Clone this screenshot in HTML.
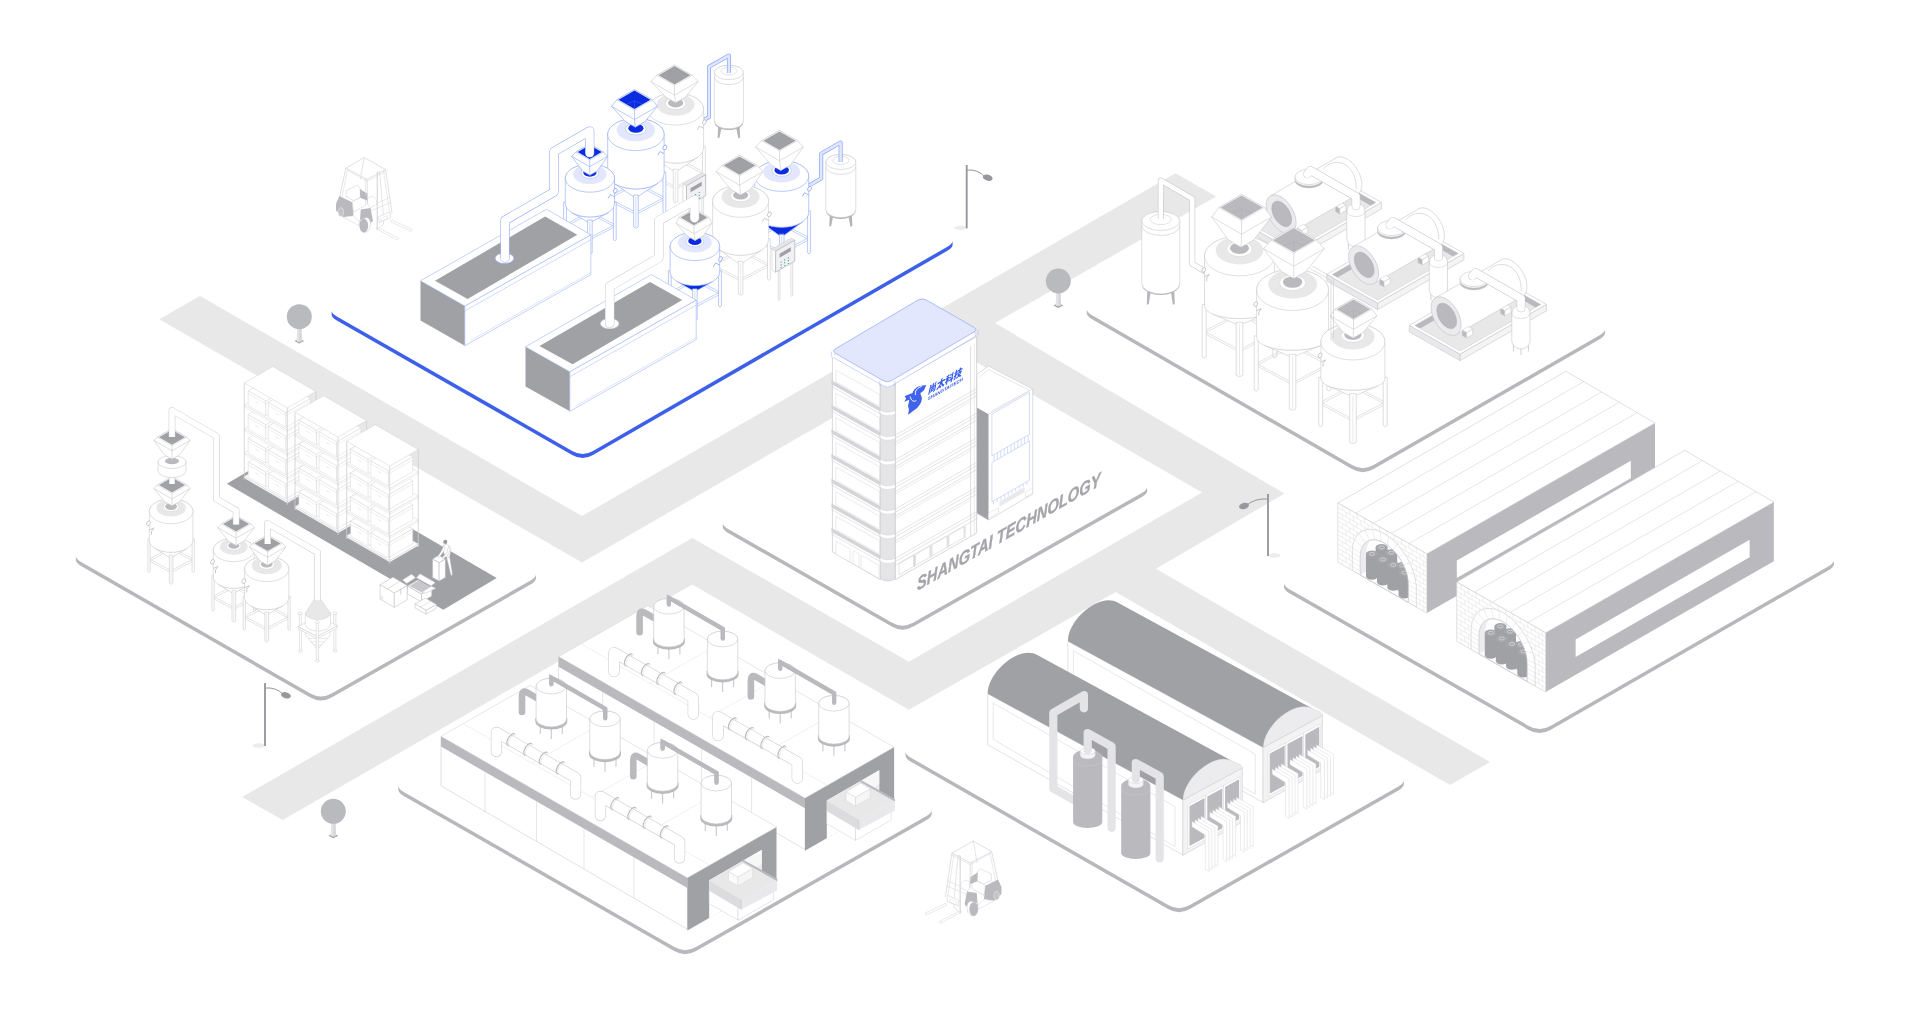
<!DOCTYPE html>
<html lang="zh"><head><meta charset="utf-8"><title>SHANGTAI TECHNOLOGY</title>
<style>
html,body{margin:0;padding:0;background:#fff;}
body{width:1920px;height:1029px;overflow:hidden;font-family:"Liberation Sans","Noto Sans CJK SC",sans-serif;}
svg{display:block;}
</style></head><body>
<svg width="1920" height="1029" viewBox="0 0 1920 1029">
<defs><filter id="noop" x="0" y="0" width="100%" height="100%" filterUnits="userSpaceOnUse" color-interpolation-filters="sRGB"><feOffset dx="0" dy="0"/></filter></defs>
<polygon points="200,296 582,516.1 1175.5,173.3 1216.1,196.6 995,323 1284.5,493.6 1156,568.8 1490,762 1450,785 1115.7,592 908.8,709.8 692.3,584.6 282.7,820 242.3,797 692.3,538 908.8,661.7 1202,492.4 952.8,348.5 582,562.5 159.3,319.3" fill="#e8e8e9"/>
<polygon points="294.3,341.1 299.3,338.7 304.3,341.1 299.3,343.6" fill="#a3a4a8"/>
<polygon points="297.3,326.7 301.3,326.7 302,341.3 299.3,342 296.6,341.3" fill="#e4e4e7"/>
<polygon points="299.3,326.7 301.3,326.7 302,341.3 299.3,342" fill="#d6d6da"/>
<ellipse cx="299.3" cy="316.7" rx="12.5" ry="12.5" fill="#b9babd"/>
<polygon points="1053.3,305.4 1058.3,303 1063.3,305.4 1058.3,307.9" fill="#a3a4a8"/>
<polygon points="1056.3,291 1060.3,291 1061,305.6 1058.3,306.3 1055.6,305.6" fill="#e4e4e7"/>
<polygon points="1058.3,291 1060.3,291 1061,305.6 1058.3,306.3" fill="#d6d6da"/>
<ellipse cx="1058.3" cy="281" rx="12.5" ry="12.5" fill="#b9babd"/>
<polygon points="328.3,835.7 333.3,833.3 338.3,835.7 333.3,838.2" fill="#a3a4a8"/>
<polygon points="331.3,821.3 335.3,821.3 336,835.9 333.3,836.6 330.6,835.9" fill="#e4e4e7"/>
<polygon points="333.3,821.3 335.3,821.3 336,835.9 333.3,836.6" fill="#d6d6da"/>
<ellipse cx="333.3" cy="811.3" rx="12.5" ry="12.5" fill="#b9babd"/>
<ellipse cx="960.7" cy="227.8" rx="6.5" ry="2.2" fill="#ececee"/>
<line x1="966.7" y1="165" x2="966.7" y2="228.3" stroke="#93939a" stroke-width="1.8"/>
<path d="M966.7,170 Q978.2,169 984.7,176.7" fill="none" stroke="#97979d" stroke-width="1" stroke-linejoin="round" stroke-linecap="round"/>
<ellipse cx="987.7" cy="177.7" rx="5" ry="3" fill="#97979d" transform="rotate(15 987.7 177.7)"/>
<ellipse cx="1274" cy="555.5" rx="6.5" ry="2.2" fill="#ececee"/>
<line x1="1268" y1="494" x2="1268" y2="556" stroke="#93939a" stroke-width="1.8"/>
<path d="M1268,499 Q1254.8,498 1247,505" fill="none" stroke="#97979d" stroke-width="1" stroke-linejoin="round" stroke-linecap="round"/>
<ellipse cx="1244" cy="506" rx="5" ry="3" fill="#97979d" transform="rotate(-15 1244 506)"/>
<ellipse cx="259" cy="745.5" rx="6.5" ry="2.2" fill="#ececee"/>
<line x1="265" y1="683" x2="265" y2="746" stroke="#93939a" stroke-width="1.8"/>
<path d="M265,688 Q276.6,687 283,694.3" fill="none" stroke="#97979d" stroke-width="1" stroke-linejoin="round" stroke-linecap="round"/>
<ellipse cx="286" cy="695.3" rx="5" ry="3" fill="#97979d" transform="rotate(15 286 695.3)"/>
<g transform="translate(320,140)">
<polygon points="57.3,87 78.5,98.3 77.2,100 56,88.6" fill="#fff" stroke="#d3d3d8" stroke-width="0.5" stroke-linejoin="round"/>
<polygon points="71.9,79.8 92.5,89.6 91.2,91.4 70.6,81.6" fill="#fff" stroke="#d3d3d8" stroke-width="0.5" stroke-linejoin="round"/>
<polyline points="44.2,17.5 40.5,39" fill="none" stroke="#d3d3d8" stroke-width="0.6" stroke-linejoin="round" stroke-linecap="round"/>
<polyline points="65.6,29.6 72,73" fill="none" stroke="#d3d3d8" stroke-width="0.7" stroke-linejoin="round" stroke-linecap="round"/>
<polyline points="63.5,30.5 69.5,72" fill="none" stroke="#d3d3d8" stroke-width="0.5" stroke-linejoin="round" stroke-linecap="round"/>
<polygon points="57.3,32.5 59.5,31.5 63.5,77 63.5,84 57.3,89.4" fill="#fff" stroke="#d3d3d8" stroke-width="0.6" stroke-linejoin="round"/>
<polyline points="57.3,32.5 57.3,89.4" fill="none" stroke="#d3d3d8" stroke-width="0.7" stroke-linejoin="round" stroke-linecap="round"/>
<polygon points="58.3,76.8 70,71.9 70.5,77.8 59.3,82.6" fill="#fff" stroke="#d3d3d8" stroke-width="0.6" stroke-linejoin="round"/>
<polygon points="60.5,78.6 67.5,75.6 67.8,78.4 60.8,81.2" fill="none" stroke="#d3d3d8" stroke-width="0.4" stroke-linejoin="round"/>
<polyline points="50,66 69.8,57.5" fill="none" stroke="#d3d3d8" stroke-width="0.5" stroke-linejoin="round" stroke-linecap="round"/>
<polyline points="50.5,71 70.8,62.5" fill="none" stroke="#d3d3d8" stroke-width="0.5" stroke-linejoin="round" stroke-linecap="round"/>
<polygon points="26.2,50.5 37.4,45.2 40.3,48.6 40.3,57.4 34,60.7 26.2,56.9" fill="#fff" stroke="#d3d3d8" stroke-width="0.6" stroke-linejoin="round"/>
<polygon points="34,60.7 44.7,55.4 45.7,65.1 33.5,71.9 32.1,62.2" fill="#fff" stroke="#d3d3d8" stroke-width="0.6" stroke-linejoin="round"/>
<polygon points="47.6,58 53,56.5 56.5,60 56.8,64.5 50,68 47.6,64" fill="#fff" stroke="#d3d3d8" stroke-width="0.5" stroke-linejoin="round"/>
<polygon points="19.4,55.9 32.1,62.2 33.5,75.8 23.3,77.3 16,70.5 16,63.7" fill="#b9b9be"/>
<ellipse cx="20.9" cy="72" rx="2.6" ry="4.3" fill="#c3c3c8" stroke="#e2e2e6" stroke-width="0.7"/>
<polygon points="23.3,77.3 33.5,75.8 39.8,82.6 38.9,85.5" fill="#fff" stroke="#d3d3d8" stroke-width="0.5" stroke-linejoin="round"/>
<polygon points="39.8,49.1 47.1,53.4 47.6,60.7 40.3,57.8" fill="#b9b9be"/>
<polygon points="40.8,69.5 50.5,68 53,81.1 48.6,84.5 39.8,82.6" fill="#b9b9be"/>
<path d="M40,80 L46.5,77.5 Q50.5,78.5 50.5,84 Q50.5,90 47,92 L43.5,92.3 Z" fill="#fff" stroke="#c8c8cd" stroke-width="0.5" stroke-linejoin="round" stroke-linecap="round"/>
<ellipse cx="43.8" cy="85.6" rx="4.4" ry="6.9" fill="#b9b9be"/>
<polyline points="25.8,28.2 19.9,55.9" fill="none" stroke="#d3d3d8" stroke-width="0.7" stroke-linejoin="round" stroke-linecap="round"/>
<polyline points="27.6,29.3 22,57" fill="none" stroke="#d3d3d8" stroke-width="0.5" stroke-linejoin="round" stroke-linecap="round"/>
<polyline points="47.1,39.4 47.6,64" fill="none" stroke="#d3d3d8" stroke-width="0.7" stroke-linejoin="round" stroke-linecap="round"/>
<polyline points="45.2,38.6 45.6,55" fill="none" stroke="#d3d3d8" stroke-width="0.5" stroke-linejoin="round" stroke-linecap="round"/>
<polygon points="25.8,28.2 44.2,17.5 65.6,29.6 47.1,39.4" fill="none" stroke="#d3d3d8" stroke-width="0.7" stroke-linejoin="round"/>
<polyline points="27.5,30.2 47.1,41.2 65.4,31.6" fill="none" stroke="#d3d3d8" stroke-width="0.5" stroke-linejoin="round" stroke-linecap="round"/>
</g>
<path d="M336.8,304.4 Q326.4,310.4 336.8,316.4 L572.2,450.9 Q582.6,456.9 593,450.9 L947.4,246.7 Q957.8,240.7 947.4,234.7 L712,100.2 Q701.6,94.2 691.2,100.2 Z" fill="#3d60ea" transform="translate(0,4.1)"/>
<path d="M336.8,304.4 Q326.4,310.4 336.8,316.4 L572.2,450.9 Q582.6,456.9 593,450.9 L947.4,246.7 Q957.8,240.7 947.4,234.7 L712,100.2 Q701.6,94.2 691.2,100.2 Z" fill="#3d60ea" transform="translate(0,2)"/>
<path d="M336.8,304.4 Q326.4,310.4 336.8,316.4 L572.2,450.9 Q582.6,456.9 593,450.9 L947.4,246.7 Q957.8,240.7 947.4,234.7 L712,100.2 Q701.6,94.2 691.2,100.2 Z" fill="#fff"/>
<polygon points="718.3,124.4 722.1,124.4 719.6,137.4 717.6,138.2" fill="#b4b4b9"/>
<polygon points="735.7,124.4 739.5,124.4 740.2,137.4 738.2,138.2" fill="#b4b4b9"/>
<path d="M714.4,120.4 L714.9,124.2 A14.5,8 0 0 0 742.9,124.2 L743.4,120.4 Z" fill="#b4b4b9"/>
<path d="M714.4,72.4 L714.4,120.8 A14.5,8 0 0 0 743.4,120.8 L743.4,72.4 A14.5,7.2 0 0 0 714.4,72.4 Z" fill="#fff" stroke="#c9c9cd" stroke-width="0.6" stroke-linejoin="round" stroke-linecap="round"/>
<ellipse cx="728.9" cy="72.4" rx="14.5" ry="7.2" fill="#fff" stroke="#c9c9cd" stroke-width="0.6"/>
<path d="M714.4,77.4 A14.5,7.2 0 0 0 743.4,77.4" fill="none" stroke="#c9c9cd" stroke-width="0.6" stroke-linejoin="round" stroke-linecap="round"/>
<ellipse cx="728.9" cy="70.9" rx="8" ry="4" fill="#fff" stroke="#c9c9cd" stroke-width="0.5"/>
<path d="M728.9,73 L728.9,55.5 L709,66.8 L709,117 L703,120.5" fill="none" stroke="#8ca6f6" stroke-width="4" stroke-linejoin="round" stroke-linecap="butt"/>
<path d="M728.9,73 L728.9,55.5 L709,66.8 L709,117 L703,120.5" fill="none" stroke="#dfe6fd" stroke-width="2.6" stroke-linejoin="round" stroke-linecap="butt"/>
<line x1="647.3" y1="171.9" x2="675.6" y2="157.1" stroke="#c9c9cd" stroke-width="0.5"/>
<line x1="647.3" y1="174.1" x2="675.6" y2="159.3" stroke="#c9c9cd" stroke-width="0.5"/>
<line x1="675.6" y1="157.1" x2="703.9" y2="171.9" stroke="#c9c9cd" stroke-width="0.5"/>
<line x1="675.6" y1="159.3" x2="703.9" y2="174.1" stroke="#c9c9cd" stroke-width="0.5"/>
<line x1="647.3" y1="171.9" x2="675.6" y2="186.8" stroke="#c9c9cd" stroke-width="0.5"/>
<line x1="647.3" y1="174.1" x2="675.6" y2="189" stroke="#c9c9cd" stroke-width="0.5"/>
<line x1="675.6" y1="186.8" x2="703.9" y2="171.9" stroke="#c9c9cd" stroke-width="0.5"/>
<line x1="675.6" y1="189" x2="703.9" y2="174.1" stroke="#c9c9cd" stroke-width="0.5"/>
<path d="M645.9,146.7 L645.9,186.8 Q647.3,189.3 648.7,186.8 L648.7,146.7 Z" fill="#fff" stroke="#c9c9cd" stroke-width="0.6" stroke-linejoin="round" stroke-linecap="round"/>
<path d="M702.5,146.7 L702.5,186.8 Q703.9,189.3 705.3,186.8 L705.3,146.7 Z" fill="#fff" stroke="#c9c9cd" stroke-width="0.6" stroke-linejoin="round" stroke-linecap="round"/>
<path d="M653.9,157.4 A28,15.4 0 0 0 697.3,157.4 L675.6,172.1 Z" fill="#fff" stroke="#c9c9cd" stroke-width="0.6" stroke-linejoin="round" stroke-linecap="round"/>
<path d="M647.6,109.1 L647.6,147.7 A28,15.4 0 0 0 703.6,147.7 L703.6,109.1 A28,16 0 0 0 647.6,109.1 Z" fill="#fff" stroke="#c9c9cd" stroke-width="0.6" stroke-linejoin="round" stroke-linecap="round"/>
<path d="M673.3,169.6 L673.3,201.7 Q675.6,204.2 677.9,201.7 L677.9,169.6 Z" fill="#fff" stroke="#c9c9cd" stroke-width="0.6" stroke-linejoin="round" stroke-linecap="round"/>
<line x1="675.6" y1="171.1" x2="675.6" y2="201.7" stroke="#c9c9cd" stroke-width="0.4"/>
<ellipse cx="675.6" cy="109.1" rx="28" ry="16" fill="#fff" stroke="#c9c9cd" stroke-width="0.6"/>
<ellipse cx="675.6" cy="104.6" rx="19" ry="11.2" fill="#e8e8e9"/>
<ellipse cx="675.6" cy="103.5" rx="10.1" ry="6.1" fill="#fff" stroke="#c9c9cd" stroke-width="0.4"/>
<ellipse cx="675.6" cy="102.9" rx="7.6" ry="4.5" fill="#b9b9be"/>
<ellipse cx="704.4" cy="122.1" rx="1.7" ry="2.5" fill="#fff" stroke="#bdbdc2" stroke-width="0.8" transform="rotate(25 704.4 122.1)"/>
<polyline points="703.4,128.1 699.4,126.1 697.4,129.6" fill="none" stroke="#bdbdc2" stroke-width="0.8" stroke-linejoin="round" stroke-linecap="round"/>
<polygon points="650.9,81.6 656.8,75.3 674.5,65.1 692.2,75.3 698.1,81.6 685.2,97.2 675.6,102.7 666,97.2" fill="#fff" stroke="#c9c9cd" stroke-width="0.6" stroke-linejoin="round"/>
<polygon points="656.8,75.3 674.5,65.1 692.2,75.3 674.5,85.5" fill="#fff" stroke="#c9c9cd" stroke-width="0.5" stroke-linejoin="round"/>
<polygon points="658.5,75.3 674.5,66.1 690.5,75.3 674.5,84.5" fill="#a0a1a5"/>
<polyline points="650.9,81.6 674.5,95.2 698.1,81.6" fill="none" stroke="#c9c9cd" stroke-width="0.6" stroke-linejoin="round" stroke-linecap="round"/>
<polyline points="674.5,85.5 674.5,95.2 675.6,102.7" fill="none" stroke="#c9c9cd" stroke-width="0.6" stroke-linejoin="round" stroke-linecap="round"/>
<line x1="607.4" y1="197.4" x2="635.9" y2="182.5" stroke="#8ca6f6" stroke-width="0.5"/>
<line x1="607.4" y1="199.6" x2="635.9" y2="184.7" stroke="#8ca6f6" stroke-width="0.5"/>
<line x1="635.9" y1="182.5" x2="664.4" y2="197.4" stroke="#8ca6f6" stroke-width="0.5"/>
<line x1="635.9" y1="184.7" x2="664.4" y2="199.6" stroke="#8ca6f6" stroke-width="0.5"/>
<line x1="607.4" y1="197.4" x2="635.9" y2="212.4" stroke="#8ca6f6" stroke-width="0.5"/>
<line x1="607.4" y1="199.6" x2="635.9" y2="214.6" stroke="#8ca6f6" stroke-width="0.5"/>
<line x1="635.9" y1="212.4" x2="664.4" y2="197.4" stroke="#8ca6f6" stroke-width="0.5"/>
<line x1="635.9" y1="214.6" x2="664.4" y2="199.6" stroke="#8ca6f6" stroke-width="0.5"/>
<path d="M606,172.5 L606,212 Q607.4,214.5 608.8,212 L608.8,172.5 Z" fill="#fff" stroke="#8ca6f6" stroke-width="0.6" stroke-linejoin="round" stroke-linecap="round"/>
<path d="M663,172.5 L663,212 Q664.4,214.5 665.8,212 L665.8,172.5 Z" fill="#fff" stroke="#8ca6f6" stroke-width="0.6" stroke-linejoin="round" stroke-linecap="round"/>
<path d="M614.1,183.3 A28.2,15.5 0 0 0 657.7,183.3 L635.9,198 Z" fill="#fff" stroke="#8ca6f6" stroke-width="0.6" stroke-linejoin="round" stroke-linecap="round"/>
<path d="M607.7,134.5 L607.7,173.5 A28.2,15.5 0 0 0 664.1,173.5 L664.1,134.5 A28.2,16.1 0 0 0 607.7,134.5 Z" fill="#fff" stroke="#8ca6f6" stroke-width="0.6" stroke-linejoin="round" stroke-linecap="round"/>
<path d="M633.6,195.5 L633.6,227 Q635.9,229.5 638.2,227 L638.2,195.5 Z" fill="#fff" stroke="#8ca6f6" stroke-width="0.6" stroke-linejoin="round" stroke-linecap="round"/>
<line x1="635.9" y1="197" x2="635.9" y2="227" stroke="#8ca6f6" stroke-width="0.4"/>
<ellipse cx="635.9" cy="134.5" rx="28.2" ry="16.1" fill="#fff" stroke="#8ca6f6" stroke-width="0.6"/>
<ellipse cx="635.9" cy="130" rx="19.2" ry="11.3" fill="#e2e7fd"/>
<ellipse cx="635.9" cy="128.9" rx="10.2" ry="6.1" fill="#fff" stroke="#8ca6f6" stroke-width="0.4"/>
<ellipse cx="635.9" cy="128.3" rx="7.6" ry="4.5" fill="#0a2be0"/>
<ellipse cx="664.9" cy="147.5" rx="1.7" ry="2.5" fill="#fff" stroke="#8ca6f6" stroke-width="0.8" transform="rotate(25 664.9 147.5)"/>
<polyline points="663.9,153.5 659.9,151.5 657.9,155" fill="none" stroke="#8ca6f6" stroke-width="0.8" stroke-linejoin="round" stroke-linecap="round"/>
<polygon points="611.5,106.3 616.8,99.8 634.5,89.6 652.2,99.8 657.5,106.3 644.9,121.7 635.3,127.2 625.7,121.7" fill="#fff" stroke="#8ca6f6" stroke-width="0.6" stroke-linejoin="round"/>
<polygon points="616.8,99.8 634.5,89.6 652.2,99.8 634.5,110" fill="#fff" stroke="#8ca6f6" stroke-width="0.5" stroke-linejoin="round"/>
<polygon points="618.5,99.8 634.5,90.6 650.5,99.8 634.5,109" fill="#0a2be0"/>
<polyline points="611.5,106.3 634.5,119.6 657.5,106.3" fill="none" stroke="#8ca6f6" stroke-width="0.6" stroke-linejoin="round" stroke-linecap="round"/>
<polyline points="634.5,110 634.5,119.6 635.3,127.2" fill="none" stroke="#8ca6f6" stroke-width="0.6" stroke-linejoin="round" stroke-linecap="round"/>
<polyline points="627.3,104 634.5,100.7 641.7,104" fill="none" stroke="#4a6cf0" stroke-width="0.4" stroke-linejoin="round" stroke-linecap="round"/>
<line x1="634.5" y1="100.7" x2="634.5" y2="109" stroke="#4a6cf0" stroke-width="0.4"/>
<line x1="565" y1="224.6" x2="589.9" y2="211.6" stroke="#8ca6f6" stroke-width="0.5"/>
<line x1="565" y1="226.8" x2="589.9" y2="213.8" stroke="#8ca6f6" stroke-width="0.5"/>
<line x1="589.9" y1="211.6" x2="614.8" y2="224.6" stroke="#8ca6f6" stroke-width="0.5"/>
<line x1="589.9" y1="213.8" x2="614.8" y2="226.8" stroke="#8ca6f6" stroke-width="0.5"/>
<line x1="565" y1="224.6" x2="589.9" y2="237.7" stroke="#8ca6f6" stroke-width="0.5"/>
<line x1="565" y1="226.8" x2="589.9" y2="239.9" stroke="#8ca6f6" stroke-width="0.5"/>
<line x1="589.9" y1="237.7" x2="614.8" y2="224.6" stroke="#8ca6f6" stroke-width="0.5"/>
<line x1="589.9" y1="239.9" x2="614.8" y2="226.8" stroke="#8ca6f6" stroke-width="0.5"/>
<path d="M563.6,202.5 L563.6,239.6 Q565,242.1 566.4,239.6 L566.4,202.5 Z" fill="#fff" stroke="#8ca6f6" stroke-width="0.6" stroke-linejoin="round" stroke-linecap="round"/>
<path d="M613.4,202.5 L613.4,239.6 Q614.8,242.1 616.2,239.6 L616.2,202.5 Z" fill="#fff" stroke="#8ca6f6" stroke-width="0.6" stroke-linejoin="round" stroke-linecap="round"/>
<path d="M572.3,212.9 A24.6,13.5 0 0 0 607.5,212.9 L589.9,222.9 Z" fill="#fff" stroke="#8ca6f6" stroke-width="0.6" stroke-linejoin="round" stroke-linecap="round"/>
<path d="M565.3,178.2 L565.3,203.5 A24.6,13.5 0 0 0 614.5,203.5 L614.5,178.2 A24.6,14 0 0 0 565.3,178.2 Z" fill="#fff" stroke="#8ca6f6" stroke-width="0.6" stroke-linejoin="round" stroke-linecap="round"/>
<path d="M587.6,220.4 L587.6,252.7 Q589.9,255.2 592.2,252.7 L592.2,220.4 Z" fill="#fff" stroke="#8ca6f6" stroke-width="0.6" stroke-linejoin="round" stroke-linecap="round"/>
<line x1="589.9" y1="221.9" x2="589.9" y2="252.7" stroke="#8ca6f6" stroke-width="0.4"/>
<ellipse cx="589.9" cy="178.2" rx="24.6" ry="14" fill="#fff" stroke="#8ca6f6" stroke-width="0.6"/>
<ellipse cx="589.9" cy="174.3" rx="16.7" ry="9.8" fill="#e2e7fd"/>
<ellipse cx="589.9" cy="173.3" rx="8.9" ry="5.3" fill="#fff" stroke="#8ca6f6" stroke-width="0.4"/>
<ellipse cx="589.9" cy="172.8" rx="6.6" ry="3.9" fill="#0a2be0"/>
<ellipse cx="615.3" cy="190.7" rx="1.7" ry="2.5" fill="#fff" stroke="#8ca6f6" stroke-width="0.8" transform="rotate(25 615.3 190.7)"/>
<polyline points="614.3,196.7 610.3,194.7 608.3,198.2" fill="none" stroke="#8ca6f6" stroke-width="0.8" stroke-linejoin="round" stroke-linecap="round"/>
<polygon points="571.7,156.3 576,152 589.7,144.1 603.4,152 607.7,156.3 597.1,171.1 589.9,175.3 582.7,171.1" fill="#fff" stroke="#8ca6f6" stroke-width="0.6" stroke-linejoin="round"/>
<polygon points="576,152 589.7,144.1 603.4,152 589.7,159.9" fill="#fff" stroke="#8ca6f6" stroke-width="0.5" stroke-linejoin="round"/>
<polygon points="577.7,152 589.7,145.1 601.7,152 589.7,158.9" fill="#0a2be0"/>
<polyline points="571.7,156.3 589.7,166.7 607.7,156.3" fill="none" stroke="#8ca6f6" stroke-width="0.6" stroke-linejoin="round" stroke-linecap="round"/>
<polyline points="589.7,159.9 589.7,166.7 589.9,175.3" fill="none" stroke="#8ca6f6" stroke-width="0.6" stroke-linejoin="round" stroke-linecap="round"/>
<path d="M689.1,205.8 L689.1,233.8 Q690,236.3 690.9,233.8 L690.9,205.8 Z" fill="#fff" stroke="#c9c9cd" stroke-width="0.6" stroke-linejoin="round" stroke-linecap="round"/>
<path d="M701.8,195.7 L701.8,229.8 Q702.7,232.3 703.6,229.8 L703.6,195.7 Z" fill="#fff" stroke="#c9c9cd" stroke-width="0.6" stroke-linejoin="round" stroke-linecap="round"/>
<polygon points="682.9,183.7 686.5,185.8 686.5,206.8 682.9,204.7" fill="#fff" stroke="#c4c4c9" stroke-width="0.5" stroke-linejoin="round"/>
<polygon points="682.9,183.7 702.1,172.6 705.7,174.7 686.5,185.8" fill="#e6e6e8" stroke="#c9c9cd" stroke-width="0.4" stroke-linejoin="round"/>
<polygon points="686.5,185.8 705.7,174.7 705.7,195.7 686.5,206.8" fill="#f1f1f3" stroke="#b2b2b8" stroke-width="0.7" stroke-linejoin="round"/>
<polygon points="690.5,188.3 701.7,181.8 701.7,185.8 690.5,192.3" fill="#a0a1a5"/>
<ellipse cx="692" cy="196.6" rx="0.6" ry="0.6" fill="#2a9d6f"/>
<ellipse cx="692" cy="199.4" rx="0.6" ry="0.6" fill="#2a9d6f"/>
<ellipse cx="692" cy="202.2" rx="0.6" ry="0.6" fill="#2a9d6f"/>
<ellipse cx="695.6" cy="194.5" rx="0.6" ry="0.6" fill="#2a9d6f"/>
<ellipse cx="695.6" cy="197.3" rx="0.6" ry="0.6" fill="#2a9d6f"/>
<ellipse cx="695.6" cy="200.1" rx="0.6" ry="0.6" fill="#2a9d6f"/>
<ellipse cx="699.2" cy="192.5" rx="0.6" ry="0.6" fill="#2a9d6f"/>
<ellipse cx="699.2" cy="195.3" rx="0.6" ry="0.6" fill="#2a9d6f"/>
<ellipse cx="699.2" cy="198.1" rx="0.6" ry="0.6" fill="#2a9d6f"/>
<polygon points="829.9,213 833.7,213 831.2,226 829.2,226.8" fill="#b4b4b9"/>
<polygon points="847.9,213 851.7,213 852.4,226 850.4,226.8" fill="#b4b4b9"/>
<path d="M825.8,209 L826.3,212.8 A15,8.2 0 0 0 855.3,212.8 L855.8,209 Z" fill="#b4b4b9"/>
<path d="M825.8,162 L825.8,209.4 A15,8.2 0 0 0 855.8,209.4 L855.8,162 A15,7.5 0 0 0 825.8,162 Z" fill="#fff" stroke="#c9c9cd" stroke-width="0.6" stroke-linejoin="round" stroke-linecap="round"/>
<ellipse cx="840.8" cy="162" rx="15" ry="7.5" fill="#fff" stroke="#c9c9cd" stroke-width="0.6"/>
<path d="M825.8,167 A15,7.5 0 0 0 855.8,167" fill="none" stroke="#c9c9cd" stroke-width="0.6" stroke-linejoin="round" stroke-linecap="round"/>
<ellipse cx="840.8" cy="160.5" rx="8.2" ry="4.1" fill="#fff" stroke="#c9c9cd" stroke-width="0.5"/>
<path d="M840.6,162 L840.6,142.5 L821.2,153.7 L821.2,178.5 L808.5,185.8" fill="none" stroke="#8ca6f6" stroke-width="4" stroke-linejoin="round" stroke-linecap="butt"/>
<path d="M840.6,162 L840.6,142.5 L821.2,153.7 L821.2,178.5 L808.5,185.8" fill="none" stroke="#dfe6fd" stroke-width="2.6" stroke-linejoin="round" stroke-linecap="butt"/>
<line x1="754.4" y1="237.5" x2="781.7" y2="223.2" stroke="#8ca6f6" stroke-width="0.5"/>
<line x1="754.4" y1="239.7" x2="781.7" y2="225.4" stroke="#8ca6f6" stroke-width="0.5"/>
<line x1="781.7" y1="223.2" x2="809" y2="237.5" stroke="#8ca6f6" stroke-width="0.5"/>
<line x1="781.7" y1="225.4" x2="809" y2="239.7" stroke="#8ca6f6" stroke-width="0.5"/>
<line x1="754.4" y1="237.5" x2="781.7" y2="251.8" stroke="#8ca6f6" stroke-width="0.5"/>
<line x1="754.4" y1="239.7" x2="781.7" y2="254" stroke="#8ca6f6" stroke-width="0.5"/>
<line x1="781.7" y1="251.8" x2="809" y2="237.5" stroke="#8ca6f6" stroke-width="0.5"/>
<line x1="781.7" y1="254" x2="809" y2="239.7" stroke="#8ca6f6" stroke-width="0.5"/>
<path d="M753,211.4 L753,252.7 Q754.4,255.2 755.8,252.7 L755.8,211.4 Z" fill="#fff" stroke="#8ca6f6" stroke-width="0.6" stroke-linejoin="round" stroke-linecap="round"/>
<path d="M807.6,211.4 L807.6,252.7 Q809,255.2 810.4,252.7 L810.4,211.4 Z" fill="#fff" stroke="#8ca6f6" stroke-width="0.6" stroke-linejoin="round" stroke-linecap="round"/>
<path d="M760.2,221.4 A27,14.9 0 0 0 803.2,221.4 L781.7,236.9 Z" fill="#0a2be0" stroke="#8ca6f6" stroke-width="0.6" stroke-linejoin="round" stroke-linecap="round"/>
<path d="M754.7,176 L754.7,212.4 A27,14.9 0 0 0 808.7,212.4 L808.7,176 A27,15.4 0 0 0 754.7,176 Z" fill="#fff" stroke="#8ca6f6" stroke-width="0.6" stroke-linejoin="round" stroke-linecap="round"/>
<path d="M779.4,234.4 L779.4,267 Q781.7,269.5 784,267 L784,234.4 Z" fill="#fff" stroke="#8ca6f6" stroke-width="0.6" stroke-linejoin="round" stroke-linecap="round"/>
<line x1="781.7" y1="235.9" x2="781.7" y2="267" stroke="#8ca6f6" stroke-width="0.4"/>
<ellipse cx="781.7" cy="176" rx="27" ry="15.4" fill="#fff" stroke="#8ca6f6" stroke-width="0.6"/>
<ellipse cx="781.7" cy="171.7" rx="18.4" ry="10.8" fill="#e2e7fd"/>
<ellipse cx="781.7" cy="170.6" rx="9.7" ry="5.8" fill="#fff" stroke="#8ca6f6" stroke-width="0.4"/>
<ellipse cx="781.7" cy="170.1" rx="7.3" ry="4.3" fill="#0a2be0"/>
<ellipse cx="809.5" cy="188.8" rx="1.7" ry="2.5" fill="#fff" stroke="#8ca6f6" stroke-width="0.8" transform="rotate(25 809.5 188.8)"/>
<polyline points="808.5,194.8 804.5,192.8 802.5,196.3" fill="none" stroke="#8ca6f6" stroke-width="0.8" stroke-linejoin="round" stroke-linecap="round"/>
<polygon points="755.7,147.1 761.6,140.7 779.5,130.4 797.4,140.7 803.3,147.1 790.5,164.9 780.8,170.5 771.1,164.9" fill="#fff" stroke="#c9c9cd" stroke-width="0.6" stroke-linejoin="round"/>
<polygon points="761.6,140.7 779.5,130.4 797.4,140.7 779.5,151" fill="#fff" stroke="#c9c9cd" stroke-width="0.5" stroke-linejoin="round"/>
<polygon points="763.3,140.7 779.5,131.4 795.7,140.7 779.5,150" fill="#a0a1a5"/>
<polyline points="755.7,147.1 779.5,160.8 803.3,147.1" fill="none" stroke="#c9c9cd" stroke-width="0.6" stroke-linejoin="round" stroke-linecap="round"/>
<polyline points="779.5,151 779.5,160.8 780.8,170.5" fill="none" stroke="#c9c9cd" stroke-width="0.6" stroke-linejoin="round" stroke-linecap="round"/>
<line x1="712.3" y1="264.2" x2="740.6" y2="249.3" stroke="#c9c9cd" stroke-width="0.5"/>
<line x1="712.3" y1="266.4" x2="740.6" y2="251.5" stroke="#c9c9cd" stroke-width="0.5"/>
<line x1="740.6" y1="249.3" x2="768.9" y2="264.2" stroke="#c9c9cd" stroke-width="0.5"/>
<line x1="740.6" y1="251.5" x2="768.9" y2="266.4" stroke="#c9c9cd" stroke-width="0.5"/>
<line x1="712.3" y1="264.2" x2="740.6" y2="279" stroke="#c9c9cd" stroke-width="0.5"/>
<line x1="712.3" y1="266.4" x2="740.6" y2="281.2" stroke="#c9c9cd" stroke-width="0.5"/>
<line x1="740.6" y1="279" x2="768.9" y2="264.2" stroke="#c9c9cd" stroke-width="0.5"/>
<line x1="740.6" y1="281.2" x2="768.9" y2="266.4" stroke="#c9c9cd" stroke-width="0.5"/>
<path d="M710.9,238.9 L710.9,279.1 Q712.3,281.6 713.7,279.1 L713.7,238.9 Z" fill="#fff" stroke="#c9c9cd" stroke-width="0.6" stroke-linejoin="round" stroke-linecap="round"/>
<path d="M767.5,238.9 L767.5,279.1 Q768.9,281.6 770.3,279.1 L770.3,238.9 Z" fill="#fff" stroke="#c9c9cd" stroke-width="0.6" stroke-linejoin="round" stroke-linecap="round"/>
<path d="M718.9,249.6 A28,15.4 0 0 0 762.3,249.6 L740.6,264.3 Z" fill="#fff" stroke="#c9c9cd" stroke-width="0.6" stroke-linejoin="round" stroke-linecap="round"/>
<path d="M712.6,201.3 L712.6,239.9 A28,15.4 0 0 0 768.6,239.9 L768.6,201.3 A28,16 0 0 0 712.6,201.3 Z" fill="#fff" stroke="#c9c9cd" stroke-width="0.6" stroke-linejoin="round" stroke-linecap="round"/>
<path d="M738.3,261.8 L738.3,294 Q740.6,296.5 742.9,294 L742.9,261.8 Z" fill="#fff" stroke="#c9c9cd" stroke-width="0.6" stroke-linejoin="round" stroke-linecap="round"/>
<line x1="740.6" y1="263.3" x2="740.6" y2="294" stroke="#c9c9cd" stroke-width="0.4"/>
<ellipse cx="740.6" cy="201.3" rx="28" ry="16" fill="#fff" stroke="#c9c9cd" stroke-width="0.6"/>
<ellipse cx="740.6" cy="196.8" rx="19" ry="11.2" fill="#e8e8e9"/>
<ellipse cx="740.6" cy="195.7" rx="10.1" ry="6.1" fill="#fff" stroke="#c9c9cd" stroke-width="0.4"/>
<ellipse cx="740.6" cy="195.1" rx="7.6" ry="4.5" fill="#b9b9be"/>
<ellipse cx="769.4" cy="214.3" rx="1.7" ry="2.5" fill="#fff" stroke="#bdbdc2" stroke-width="0.8" transform="rotate(25 769.4 214.3)"/>
<polyline points="768.4,220.3 764.4,218.3 762.4,221.8" fill="none" stroke="#bdbdc2" stroke-width="0.8" stroke-linejoin="round" stroke-linecap="round"/>
<polygon points="716.1,171.6 721.8,165.6 739.5,155.4 757.2,165.6 762.9,171.6 750.2,189.5 740.6,195 731,189.5" fill="#fff" stroke="#c9c9cd" stroke-width="0.6" stroke-linejoin="round"/>
<polygon points="721.8,165.6 739.5,155.4 757.2,165.6 739.5,175.8" fill="#fff" stroke="#c9c9cd" stroke-width="0.5" stroke-linejoin="round"/>
<polygon points="723.5,165.6 739.5,156.4 755.5,165.6 739.5,174.8" fill="#a0a1a5"/>
<polyline points="716.1,171.6 739.5,185.1 762.9,171.6" fill="none" stroke="#c9c9cd" stroke-width="0.6" stroke-linejoin="round" stroke-linecap="round"/>
<polyline points="739.5,175.8 739.5,185.1 740.6,195" fill="none" stroke="#c9c9cd" stroke-width="0.6" stroke-linejoin="round" stroke-linecap="round"/>
<path d="M778.2,271.2 L778.2,299.2 Q779.1,301.7 780,299.2 L780,271.2 Z" fill="#fff" stroke="#c9c9cd" stroke-width="0.6" stroke-linejoin="round" stroke-linecap="round"/>
<path d="M790.9,261.1 L790.9,295.2 Q791.8,297.7 792.7,295.2 L792.7,261.1 Z" fill="#fff" stroke="#c9c9cd" stroke-width="0.6" stroke-linejoin="round" stroke-linecap="round"/>
<polygon points="772,249.1 775.6,251.2 775.6,272.2 772,270.1" fill="#fff" stroke="#c4c4c9" stroke-width="0.5" stroke-linejoin="round"/>
<polygon points="772,249.1 791.2,238 794.8,240.1 775.6,251.2" fill="#e6e6e8" stroke="#c9c9cd" stroke-width="0.4" stroke-linejoin="round"/>
<polygon points="775.6,251.2 794.8,240.1 794.8,261.1 775.6,272.2" fill="#f1f1f3" stroke="#b2b2b8" stroke-width="0.7" stroke-linejoin="round"/>
<polygon points="779.6,253.7 790.8,247.2 790.8,251.2 779.6,257.7" fill="#a0a1a5"/>
<ellipse cx="781.1" cy="262" rx="0.6" ry="0.6" fill="#2a9d6f"/>
<ellipse cx="781.1" cy="264.8" rx="0.6" ry="0.6" fill="#2a9d6f"/>
<ellipse cx="781.1" cy="267.6" rx="0.6" ry="0.6" fill="#2a9d6f"/>
<ellipse cx="784.7" cy="259.9" rx="0.6" ry="0.6" fill="#2a9d6f"/>
<ellipse cx="784.7" cy="262.7" rx="0.6" ry="0.6" fill="#2a9d6f"/>
<ellipse cx="784.7" cy="265.5" rx="0.6" ry="0.6" fill="#2a9d6f"/>
<ellipse cx="788.3" cy="257.9" rx="0.6" ry="0.6" fill="#2a9d6f"/>
<ellipse cx="788.3" cy="260.7" rx="0.6" ry="0.6" fill="#2a9d6f"/>
<ellipse cx="788.3" cy="263.5" rx="0.6" ry="0.6" fill="#2a9d6f"/>
<line x1="669.8" y1="292.1" x2="694.9" y2="278.9" stroke="#8ca6f6" stroke-width="0.5"/>
<line x1="669.8" y1="294.3" x2="694.9" y2="281.1" stroke="#8ca6f6" stroke-width="0.5"/>
<line x1="694.9" y1="278.9" x2="720" y2="292.1" stroke="#8ca6f6" stroke-width="0.5"/>
<line x1="694.9" y1="281.1" x2="720" y2="294.3" stroke="#8ca6f6" stroke-width="0.5"/>
<line x1="669.8" y1="292.1" x2="694.9" y2="305.2" stroke="#8ca6f6" stroke-width="0.5"/>
<line x1="669.8" y1="294.3" x2="694.9" y2="307.4" stroke="#8ca6f6" stroke-width="0.5"/>
<line x1="694.9" y1="305.2" x2="720" y2="292.1" stroke="#8ca6f6" stroke-width="0.5"/>
<line x1="694.9" y1="307.4" x2="720" y2="294.3" stroke="#8ca6f6" stroke-width="0.5"/>
<path d="M668.4,271 L668.4,305.8 Q669.8,308.3 671.2,305.8 L671.2,271 Z" fill="#fff" stroke="#8ca6f6" stroke-width="0.6" stroke-linejoin="round" stroke-linecap="round"/>
<path d="M718.6,271 L718.6,305.8 Q720,308.3 721.4,305.8 L721.4,271 Z" fill="#fff" stroke="#8ca6f6" stroke-width="0.6" stroke-linejoin="round" stroke-linecap="round"/>
<path d="M677.1,281.5 A24.8,13.6 0 0 0 712.7,281.5 L694.9,291.6 Z" fill="#0a2be0" stroke="#8ca6f6" stroke-width="0.6" stroke-linejoin="round" stroke-linecap="round"/>
<path d="M670.1,246.5 L670.1,272 A24.8,13.6 0 0 0 719.7,272 L719.7,246.5 A24.8,14.1 0 0 0 670.1,246.5 Z" fill="#fff" stroke="#8ca6f6" stroke-width="0.6" stroke-linejoin="round" stroke-linecap="round"/>
<path d="M692.6,289.1 L692.6,319 Q694.9,321.5 697.2,319 L697.2,289.1 Z" fill="#fff" stroke="#8ca6f6" stroke-width="0.6" stroke-linejoin="round" stroke-linecap="round"/>
<line x1="694.9" y1="290.6" x2="694.9" y2="319" stroke="#8ca6f6" stroke-width="0.4"/>
<ellipse cx="694.9" cy="246.5" rx="24.8" ry="14.1" fill="#fff" stroke="#8ca6f6" stroke-width="0.6"/>
<ellipse cx="694.9" cy="242.5" rx="16.9" ry="9.9" fill="#e2e7fd"/>
<ellipse cx="694.9" cy="241.5" rx="8.9" ry="5.4" fill="#fff" stroke="#8ca6f6" stroke-width="0.4"/>
<ellipse cx="694.9" cy="241" rx="6.7" ry="4" fill="#0a2be0"/>
<ellipse cx="720.5" cy="259" rx="1.7" ry="2.5" fill="#fff" stroke="#8ca6f6" stroke-width="0.8" transform="rotate(25 720.5 259)"/>
<polyline points="719.5,265 715.5,263 713.5,266.5" fill="none" stroke="#8ca6f6" stroke-width="0.8" stroke-linejoin="round" stroke-linecap="round"/>
<polygon points="676.1,223.4 678.9,217.5 694,208.8 709.1,217.5 711.9,223.4 703.1,235.9 695.1,240.5 687.1,235.9" fill="#fff" stroke="#c9c9cd" stroke-width="0.6" stroke-linejoin="round"/>
<polygon points="678.9,217.5 694,208.8 709.1,217.5 694,226.2" fill="#fff" stroke="#c9c9cd" stroke-width="0.5" stroke-linejoin="round"/>
<polygon points="680.6,217.5 694,209.8 707.4,217.5 694,225.2" fill="#a0a1a5"/>
<polyline points="676.1,223.4 694,233.7 711.9,223.4" fill="none" stroke="#c9c9cd" stroke-width="0.6" stroke-linejoin="round" stroke-linecap="round"/>
<polyline points="694,226.2 694,233.7 695.1,240.5" fill="none" stroke="#c9c9cd" stroke-width="0.6" stroke-linejoin="round" stroke-linecap="round"/>
<polygon points="420.5,280.8 464.8,306 464.8,345.8 420.5,320.6" fill="#a0a1a5"/>
<polygon points="464.8,306 590.8,234.8 590.8,274.6 464.8,345.8" fill="#fff" stroke="#8ca6f6" stroke-width="0.5" stroke-linejoin="round"/>
<polygon points="420.5,280.8 464.8,306 590.8,234.8 546.5,209.2" fill="#fff" stroke="#8ca6f6" stroke-width="0.5" stroke-linejoin="round"/>
<polygon points="435,280.8 467.6,299 577.3,234.8 545.1,216.6" fill="#a0a1a5"/>
<line x1="464.8" y1="311" x2="590.8" y2="239.8" stroke="#8ca6f6" stroke-width="0.4"/>
<line x1="470.8" y1="340.3" x2="590.8" y2="272.6" stroke="#8ca6f6" stroke-width="0.3"/>
<ellipse cx="504.5" cy="258.3" rx="9.3" ry="5.2" fill="#fff" stroke="#8ca6f6" stroke-width="0.5"/>
<path d="M589.7,153 L589.7,131 L554,151.6 L554,192 L505,220.3 L505,258" fill="none" stroke="#8ca6f6" stroke-width="9.2" stroke-linejoin="round" stroke-linecap="round"/>
<path d="M589.7,153 L589.7,131 L554,151.6 L554,192 L505,220.3 L505,258" fill="none" stroke="#fff" stroke-width="8.2" stroke-linejoin="round" stroke-linecap="round"/>
<polygon points="525.5,346.8 569.8,371.7 569.8,411.3 525.5,386.4" fill="#a0a1a5"/>
<polygon points="569.8,371.7 696.2,300.1 696.2,339.7 569.8,411.3" fill="#fff" stroke="#8ca6f6" stroke-width="0.5" stroke-linejoin="round"/>
<polygon points="525.5,346.8 569.8,371.7 696.2,300.1 651.4,274.5" fill="#fff" stroke="#8ca6f6" stroke-width="0.5" stroke-linejoin="round"/>
<polygon points="539.5,346 572.6,364.3 682.2,300.1 650,281.9" fill="#a0a1a5"/>
<line x1="569.8" y1="376.7" x2="696.2" y2="305.1" stroke="#8ca6f6" stroke-width="0.4"/>
<line x1="575.8" y1="405.8" x2="696.2" y2="337.7" stroke="#8ca6f6" stroke-width="0.3"/>
<ellipse cx="609.7" cy="323.6" rx="9.3" ry="5.2" fill="#fff" stroke="#c9c9cd" stroke-width="0.5"/>
<path d="M694.6,218 L694.6,200 L658.8,220.7 L658.8,258 L609.7,286.3 L609.7,323.4" fill="none" stroke="#c9c9cd" stroke-width="9.4" stroke-linejoin="round" stroke-linecap="round"/>
<path d="M694.6,218 L694.6,200 L658.8,220.7 L658.8,258 L609.7,286.3 L609.7,323.4" fill="none" stroke="#fff" stroke-width="8.4" stroke-linejoin="round" stroke-linecap="round"/>
<path d="M81.2,549.5 Q70.3,555.7 81.1,561.9 L309.9,693.3 Q320.7,699.5 331.6,693.4 L530.5,580.5 Q541.4,574.3 530.6,568.1 L301.8,436.7 Q291,430.5 280.1,436.6 Z" fill="#b7b7bc" transform="translate(0,4)"/>
<path d="M81.2,549.5 Q70.3,555.7 81.1,561.9 L309.9,693.3 Q320.7,699.5 331.6,693.4 L530.5,580.5 Q541.4,574.3 530.6,568.1 L301.8,436.7 Q291,430.5 280.1,436.6 Z" fill="#b7b7bc" transform="translate(0,2)"/>
<path d="M81.2,549.5 Q70.3,555.7 81.1,561.9 L309.9,693.3 Q320.7,699.5 331.6,693.4 L530.5,580.5 Q541.4,574.3 530.6,568.1 L301.8,436.7 Q291,430.5 280.1,436.6 Z" fill="#fff"/>
<polygon points="226.8,483.8 280.2,452.1 496.7,578 443.3,609.7" fill="#a0a1a5"/>
<line x1="272.9" y1="366.5" x2="272.9" y2="461.5" stroke="#d6d6d9" stroke-width="0.5"/>
<polygon points="244.3,476.5 287.3,501.4 315.9,484.9 272.9,460" fill="#fff" stroke="#d6d6d9" stroke-width="0.5" stroke-linejoin="round"/>
<polygon points="244.3,476.5 287.3,501.4 287.3,503 244.3,478.1" fill="#fff" stroke="#d6d6d9" stroke-width="0.4" stroke-linejoin="round"/>
<polygon points="287.3,501.4 315.9,484.9 315.9,486.5 287.3,503" fill="#fff" stroke="#d6d6d9" stroke-width="0.4" stroke-linejoin="round"/>
<polygon points="248.2,476.8 265.8,486.9 265.8,472.2 248.2,462" fill="#fff" stroke="#d6d6d9" stroke-width="0.5" stroke-linejoin="round"/>
<polygon points="265.8,486.9 290.1,472.9 290.1,458.2 265.8,472.2" fill="#fff" stroke="#d6d6d9" stroke-width="0.5" stroke-linejoin="round"/>
<polygon points="248.2,462 265.8,472.2 290.1,458.2 272.4,448" fill="#fff" stroke="#d6d6d9" stroke-width="0.5" stroke-linejoin="round"/>
<polyline points="248.2,465 265.8,475.2 290.1,461.2" fill="none" stroke="#d6d6d9" stroke-width="0.4" stroke-linejoin="round" stroke-linecap="round"/>
<line x1="255.3" y1="472.7" x2="258.7" y2="474.7" stroke="#d6d6d9" stroke-width="0.5"/>
<polygon points="268.4,488.4 286,498.6 286,483.9 268.4,473.7" fill="#fff" stroke="#d6d6d9" stroke-width="0.5" stroke-linejoin="round"/>
<polygon points="286,498.6 310.3,484.6 310.3,469.9 286,483.9" fill="#fff" stroke="#d6d6d9" stroke-width="0.5" stroke-linejoin="round"/>
<polygon points="268.4,473.7 286,483.9 310.3,469.9 292.7,459.7" fill="#fff" stroke="#d6d6d9" stroke-width="0.5" stroke-linejoin="round"/>
<polyline points="268.4,476.7 286,486.9 310.3,472.9" fill="none" stroke="#d6d6d9" stroke-width="0.4" stroke-linejoin="round" stroke-linecap="round"/>
<line x1="275.5" y1="484.4" x2="279" y2="486.4" stroke="#d6d6d9" stroke-width="0.5"/>
<polygon points="244.3,452.8 287.3,477.6 315.9,461.1 272.9,436.2" fill="#fff" stroke="#d6d6d9" stroke-width="0.5" stroke-linejoin="round"/>
<polygon points="244.3,452.8 287.3,477.6 287.3,479.2 244.3,454.4" fill="#fff" stroke="#d6d6d9" stroke-width="0.4" stroke-linejoin="round"/>
<polygon points="287.3,477.6 315.9,461.1 315.9,462.7 287.3,479.2" fill="#fff" stroke="#d6d6d9" stroke-width="0.4" stroke-linejoin="round"/>
<polygon points="248.2,453 265.8,463.2 265.8,448.4 248.2,438.3" fill="#fff" stroke="#d6d6d9" stroke-width="0.5" stroke-linejoin="round"/>
<polygon points="265.8,463.2 290.1,449.2 290.1,434.4 265.8,448.4" fill="#fff" stroke="#d6d6d9" stroke-width="0.5" stroke-linejoin="round"/>
<polygon points="248.2,438.3 265.8,448.4 290.1,434.4 272.4,424.3" fill="#fff" stroke="#d6d6d9" stroke-width="0.5" stroke-linejoin="round"/>
<polyline points="248.2,441.3 265.8,451.4 290.1,437.4" fill="none" stroke="#d6d6d9" stroke-width="0.4" stroke-linejoin="round" stroke-linecap="round"/>
<line x1="255.3" y1="449" x2="258.7" y2="451" stroke="#d6d6d9" stroke-width="0.5"/>
<polygon points="268.4,464.7 286,474.9 286,460.1 268.4,449.9" fill="#fff" stroke="#d6d6d9" stroke-width="0.5" stroke-linejoin="round"/>
<polygon points="286,474.9 310.3,460.9 310.3,446.1 286,460.1" fill="#fff" stroke="#d6d6d9" stroke-width="0.5" stroke-linejoin="round"/>
<polygon points="268.4,449.9 286,460.1 310.3,446.1 292.7,435.9" fill="#fff" stroke="#d6d6d9" stroke-width="0.5" stroke-linejoin="round"/>
<polyline points="268.4,452.9 286,463.1 310.3,449.1" fill="none" stroke="#d6d6d9" stroke-width="0.4" stroke-linejoin="round" stroke-linecap="round"/>
<line x1="275.5" y1="460.7" x2="279" y2="462.7" stroke="#d6d6d9" stroke-width="0.5"/>
<polygon points="244.3,429 287.3,453.9 315.9,437.4 272.9,412.5" fill="#fff" stroke="#d6d6d9" stroke-width="0.5" stroke-linejoin="round"/>
<polygon points="244.3,429 287.3,453.9 287.3,455.5 244.3,430.6" fill="#fff" stroke="#d6d6d9" stroke-width="0.4" stroke-linejoin="round"/>
<polygon points="287.3,453.9 315.9,437.4 315.9,439 287.3,455.5" fill="#fff" stroke="#d6d6d9" stroke-width="0.4" stroke-linejoin="round"/>
<polygon points="248.2,429.2 265.8,439.4 265.8,424.7 248.2,414.5" fill="#fff" stroke="#d6d6d9" stroke-width="0.5" stroke-linejoin="round"/>
<polygon points="265.8,439.4 290.1,425.4 290.1,410.7 265.8,424.7" fill="#fff" stroke="#d6d6d9" stroke-width="0.5" stroke-linejoin="round"/>
<polygon points="248.2,414.5 265.8,424.7 290.1,410.7 272.4,400.5" fill="#fff" stroke="#d6d6d9" stroke-width="0.5" stroke-linejoin="round"/>
<polyline points="248.2,417.5 265.8,427.7 290.1,413.7" fill="none" stroke="#d6d6d9" stroke-width="0.4" stroke-linejoin="round" stroke-linecap="round"/>
<line x1="255.3" y1="425.2" x2="258.7" y2="427.2" stroke="#d6d6d9" stroke-width="0.5"/>
<polygon points="268.4,440.9 286,451.1 286,436.4 268.4,426.2" fill="#fff" stroke="#d6d6d9" stroke-width="0.5" stroke-linejoin="round"/>
<polygon points="286,451.1 310.3,437.1 310.3,422.4 286,436.4" fill="#fff" stroke="#d6d6d9" stroke-width="0.5" stroke-linejoin="round"/>
<polygon points="268.4,426.2 286,436.4 310.3,422.4 292.7,412.2" fill="#fff" stroke="#d6d6d9" stroke-width="0.5" stroke-linejoin="round"/>
<polyline points="268.4,429.2 286,439.4 310.3,425.4" fill="none" stroke="#d6d6d9" stroke-width="0.4" stroke-linejoin="round" stroke-linecap="round"/>
<line x1="275.5" y1="436.9" x2="279" y2="438.9" stroke="#d6d6d9" stroke-width="0.5"/>
<polygon points="244.3,405.2 287.3,430.1 315.9,413.6 272.9,388.8" fill="#fff" stroke="#d6d6d9" stroke-width="0.5" stroke-linejoin="round"/>
<polygon points="244.3,405.2 287.3,430.1 287.3,431.7 244.3,406.9" fill="#fff" stroke="#d6d6d9" stroke-width="0.4" stroke-linejoin="round"/>
<polygon points="287.3,430.1 315.9,413.6 315.9,415.2 287.3,431.7" fill="#fff" stroke="#d6d6d9" stroke-width="0.4" stroke-linejoin="round"/>
<polygon points="248.2,405.5 265.8,415.7 265.8,400.9 248.2,390.8" fill="#fff" stroke="#d6d6d9" stroke-width="0.5" stroke-linejoin="round"/>
<polygon points="265.8,415.7 290.1,401.7 290.1,386.9 265.8,400.9" fill="#fff" stroke="#d6d6d9" stroke-width="0.5" stroke-linejoin="round"/>
<polygon points="248.2,390.8 265.8,400.9 290.1,386.9 272.4,376.8" fill="#fff" stroke="#d6d6d9" stroke-width="0.5" stroke-linejoin="round"/>
<polyline points="248.2,393.8 265.8,403.9 290.1,389.9" fill="none" stroke="#d6d6d9" stroke-width="0.4" stroke-linejoin="round" stroke-linecap="round"/>
<line x1="255.3" y1="401.5" x2="258.7" y2="403.5" stroke="#d6d6d9" stroke-width="0.5"/>
<polygon points="268.4,417.2 286,427.4 286,412.6 268.4,402.4" fill="#fff" stroke="#d6d6d9" stroke-width="0.5" stroke-linejoin="round"/>
<polygon points="286,427.4 310.3,413.4 310.3,398.6 286,412.6" fill="#fff" stroke="#d6d6d9" stroke-width="0.5" stroke-linejoin="round"/>
<polygon points="268.4,402.4 286,412.6 310.3,398.6 292.7,388.4" fill="#fff" stroke="#d6d6d9" stroke-width="0.5" stroke-linejoin="round"/>
<polyline points="268.4,405.4 286,415.6 310.3,401.6" fill="none" stroke="#d6d6d9" stroke-width="0.4" stroke-linejoin="round" stroke-linecap="round"/>
<line x1="275.5" y1="413.2" x2="279" y2="415.2" stroke="#d6d6d9" stroke-width="0.5"/>
<line x1="244.3" y1="383" x2="244.3" y2="478" stroke="#cfcfd3" stroke-width="0.8"/>
<ellipse cx="244.3" cy="479" rx="1" ry="0.8" fill="#c4c4c8"/>
<line x1="287.3" y1="407.9" x2="287.3" y2="502.9" stroke="#cfcfd3" stroke-width="0.8"/>
<ellipse cx="287.3" cy="503.9" rx="1" ry="0.8" fill="#c4c4c8"/>
<line x1="315.9" y1="391.4" x2="315.9" y2="486.4" stroke="#cfcfd3" stroke-width="0.8"/>
<ellipse cx="315.9" cy="487.4" rx="1" ry="0.8" fill="#c4c4c8"/>
<polygon points="244.3,383 287.3,407.9 315.9,391.4 272.9,366.5" fill="#fff" stroke="#d6d6d9" stroke-width="0.6" stroke-linejoin="round"/>
<line x1="323.6" y1="395.7" x2="323.6" y2="491.7" stroke="#d6d6d9" stroke-width="0.5"/>
<polygon points="295,506.7 338,531.5 366.6,515 323.6,490.2" fill="#fff" stroke="#d6d6d9" stroke-width="0.5" stroke-linejoin="round"/>
<polygon points="295,506.7 338,531.5 338,533.1 295,508.3" fill="#fff" stroke="#d6d6d9" stroke-width="0.4" stroke-linejoin="round"/>
<polygon points="338,531.5 366.6,515 366.6,516.6 338,533.1" fill="#fff" stroke="#d6d6d9" stroke-width="0.4" stroke-linejoin="round"/>
<polygon points="298.9,506.9 316.5,517.1 316.5,502.2 298.9,492.1" fill="#fff" stroke="#d6d6d9" stroke-width="0.5" stroke-linejoin="round"/>
<polygon points="316.5,517.1 340.8,503.1 340.8,488.2 316.5,502.2" fill="#fff" stroke="#d6d6d9" stroke-width="0.5" stroke-linejoin="round"/>
<polygon points="298.9,492.1 316.5,502.2 340.8,488.2 323.1,478.1" fill="#fff" stroke="#d6d6d9" stroke-width="0.5" stroke-linejoin="round"/>
<polyline points="298.9,495.1 316.5,505.2 340.8,491.2" fill="none" stroke="#d6d6d9" stroke-width="0.4" stroke-linejoin="round" stroke-linecap="round"/>
<line x1="306" y1="502.9" x2="309.4" y2="504.9" stroke="#d6d6d9" stroke-width="0.5"/>
<polygon points="319.1,518.6 336.7,528.8 336.7,513.9 319.1,503.7" fill="#fff" stroke="#d6d6d9" stroke-width="0.5" stroke-linejoin="round"/>
<polygon points="336.7,528.8 361,514.8 361,499.9 336.7,513.9" fill="#fff" stroke="#d6d6d9" stroke-width="0.5" stroke-linejoin="round"/>
<polygon points="319.1,503.7 336.7,513.9 361,499.9 343.4,489.7" fill="#fff" stroke="#d6d6d9" stroke-width="0.5" stroke-linejoin="round"/>
<polyline points="319.1,506.7 336.7,516.9 361,502.9" fill="none" stroke="#d6d6d9" stroke-width="0.4" stroke-linejoin="round" stroke-linecap="round"/>
<line x1="326.2" y1="514.5" x2="329.7" y2="516.5" stroke="#d6d6d9" stroke-width="0.5"/>
<polygon points="295,482.7 338,507.6 366.6,491.1 323.6,466.2" fill="#fff" stroke="#d6d6d9" stroke-width="0.5" stroke-linejoin="round"/>
<polygon points="295,482.7 338,507.6 338,509.2 295,484.3" fill="#fff" stroke="#d6d6d9" stroke-width="0.4" stroke-linejoin="round"/>
<polygon points="338,507.6 366.6,491.1 366.6,492.7 338,509.2" fill="#fff" stroke="#d6d6d9" stroke-width="0.4" stroke-linejoin="round"/>
<polygon points="298.9,482.9 316.5,493.1 316.5,478.2 298.9,468.1" fill="#fff" stroke="#d6d6d9" stroke-width="0.5" stroke-linejoin="round"/>
<polygon points="316.5,493.1 340.8,479.1 340.8,464.2 316.5,478.2" fill="#fff" stroke="#d6d6d9" stroke-width="0.5" stroke-linejoin="round"/>
<polygon points="298.9,468.1 316.5,478.2 340.8,464.2 323.1,454.1" fill="#fff" stroke="#d6d6d9" stroke-width="0.5" stroke-linejoin="round"/>
<polyline points="298.9,471.1 316.5,481.2 340.8,467.2" fill="none" stroke="#d6d6d9" stroke-width="0.4" stroke-linejoin="round" stroke-linecap="round"/>
<line x1="306" y1="478.9" x2="309.4" y2="480.9" stroke="#d6d6d9" stroke-width="0.5"/>
<polygon points="319.1,494.6 336.7,504.8 336.7,489.9 319.1,479.7" fill="#fff" stroke="#d6d6d9" stroke-width="0.5" stroke-linejoin="round"/>
<polygon points="336.7,504.8 361,490.8 361,475.9 336.7,489.9" fill="#fff" stroke="#d6d6d9" stroke-width="0.5" stroke-linejoin="round"/>
<polygon points="319.1,479.7 336.7,489.9 361,475.9 343.4,465.7" fill="#fff" stroke="#d6d6d9" stroke-width="0.5" stroke-linejoin="round"/>
<polyline points="319.1,482.7 336.7,492.9 361,478.9" fill="none" stroke="#d6d6d9" stroke-width="0.4" stroke-linejoin="round" stroke-linecap="round"/>
<line x1="326.2" y1="490.5" x2="329.7" y2="492.5" stroke="#d6d6d9" stroke-width="0.5"/>
<polygon points="295,458.7 338,483.6 366.6,467.1 323.6,442.2" fill="#fff" stroke="#d6d6d9" stroke-width="0.5" stroke-linejoin="round"/>
<polygon points="295,458.7 338,483.6 338,485.2 295,460.3" fill="#fff" stroke="#d6d6d9" stroke-width="0.4" stroke-linejoin="round"/>
<polygon points="338,483.6 366.6,467.1 366.6,468.7 338,485.2" fill="#fff" stroke="#d6d6d9" stroke-width="0.4" stroke-linejoin="round"/>
<polygon points="298.9,458.9 316.5,469.1 316.5,454.2 298.9,444.1" fill="#fff" stroke="#d6d6d9" stroke-width="0.5" stroke-linejoin="round"/>
<polygon points="316.5,469.1 340.8,455.1 340.8,440.2 316.5,454.2" fill="#fff" stroke="#d6d6d9" stroke-width="0.5" stroke-linejoin="round"/>
<polygon points="298.9,444.1 316.5,454.2 340.8,440.2 323.1,430.1" fill="#fff" stroke="#d6d6d9" stroke-width="0.5" stroke-linejoin="round"/>
<polyline points="298.9,447.1 316.5,457.2 340.8,443.2" fill="none" stroke="#d6d6d9" stroke-width="0.4" stroke-linejoin="round" stroke-linecap="round"/>
<line x1="306" y1="454.9" x2="309.4" y2="456.9" stroke="#d6d6d9" stroke-width="0.5"/>
<polygon points="319.1,470.6 336.7,480.8 336.7,465.9 319.1,455.7" fill="#fff" stroke="#d6d6d9" stroke-width="0.5" stroke-linejoin="round"/>
<polygon points="336.7,480.8 361,466.8 361,451.9 336.7,465.9" fill="#fff" stroke="#d6d6d9" stroke-width="0.5" stroke-linejoin="round"/>
<polygon points="319.1,455.7 336.7,465.9 361,451.9 343.4,441.7" fill="#fff" stroke="#d6d6d9" stroke-width="0.5" stroke-linejoin="round"/>
<polyline points="319.1,458.7 336.7,468.9 361,454.9" fill="none" stroke="#d6d6d9" stroke-width="0.4" stroke-linejoin="round" stroke-linecap="round"/>
<line x1="326.2" y1="466.5" x2="329.7" y2="468.5" stroke="#d6d6d9" stroke-width="0.5"/>
<polygon points="295,434.7 338,459.6 366.6,443.1 323.6,418.2" fill="#fff" stroke="#d6d6d9" stroke-width="0.5" stroke-linejoin="round"/>
<polygon points="295,434.7 338,459.6 338,461.2 295,436.3" fill="#fff" stroke="#d6d6d9" stroke-width="0.4" stroke-linejoin="round"/>
<polygon points="338,459.6 366.6,443.1 366.6,444.7 338,461.2" fill="#fff" stroke="#d6d6d9" stroke-width="0.4" stroke-linejoin="round"/>
<polygon points="298.9,434.9 316.5,445.1 316.5,430.2 298.9,420.1" fill="#fff" stroke="#d6d6d9" stroke-width="0.5" stroke-linejoin="round"/>
<polygon points="316.5,445.1 340.8,431.1 340.8,416.2 316.5,430.2" fill="#fff" stroke="#d6d6d9" stroke-width="0.5" stroke-linejoin="round"/>
<polygon points="298.9,420.1 316.5,430.2 340.8,416.2 323.1,406.1" fill="#fff" stroke="#d6d6d9" stroke-width="0.5" stroke-linejoin="round"/>
<polyline points="298.9,423.1 316.5,433.2 340.8,419.2" fill="none" stroke="#d6d6d9" stroke-width="0.4" stroke-linejoin="round" stroke-linecap="round"/>
<line x1="306" y1="430.9" x2="309.4" y2="432.9" stroke="#d6d6d9" stroke-width="0.5"/>
<polygon points="319.1,446.6 336.7,456.8 336.7,441.9 319.1,431.7" fill="#fff" stroke="#d6d6d9" stroke-width="0.5" stroke-linejoin="round"/>
<polygon points="336.7,456.8 361,442.8 361,427.9 336.7,441.9" fill="#fff" stroke="#d6d6d9" stroke-width="0.5" stroke-linejoin="round"/>
<polygon points="319.1,431.7 336.7,441.9 361,427.9 343.4,417.7" fill="#fff" stroke="#d6d6d9" stroke-width="0.5" stroke-linejoin="round"/>
<polyline points="319.1,434.7 336.7,444.9 361,430.9" fill="none" stroke="#d6d6d9" stroke-width="0.4" stroke-linejoin="round" stroke-linecap="round"/>
<line x1="326.2" y1="442.5" x2="329.7" y2="444.5" stroke="#d6d6d9" stroke-width="0.5"/>
<line x1="295" y1="412.2" x2="295" y2="508.2" stroke="#cfcfd3" stroke-width="0.8"/>
<ellipse cx="295" cy="509.2" rx="1" ry="0.8" fill="#c4c4c8"/>
<line x1="338" y1="437.1" x2="338" y2="533" stroke="#cfcfd3" stroke-width="0.8"/>
<ellipse cx="338" cy="534" rx="1" ry="0.8" fill="#c4c4c8"/>
<line x1="366.6" y1="420.6" x2="366.6" y2="516.5" stroke="#cfcfd3" stroke-width="0.8"/>
<ellipse cx="366.6" cy="517.5" rx="1" ry="0.8" fill="#c4c4c8"/>
<polygon points="295,412.2 338,437.1 366.6,420.6 323.6,395.7" fill="#fff" stroke="#d6d6d9" stroke-width="0.6" stroke-linejoin="round"/>
<line x1="375.3" y1="424.7" x2="375.3" y2="520.7" stroke="#d6d6d9" stroke-width="0.5"/>
<polygon points="346.7,535.7 389.7,560.5 418.3,544 375.3,519.2" fill="#fff" stroke="#d6d6d9" stroke-width="0.5" stroke-linejoin="round"/>
<polygon points="346.7,535.7 389.7,560.5 389.7,562.1 346.7,537.3" fill="#fff" stroke="#d6d6d9" stroke-width="0.4" stroke-linejoin="round"/>
<polygon points="389.7,560.5 418.3,544 418.3,545.6 389.7,562.1" fill="#fff" stroke="#d6d6d9" stroke-width="0.4" stroke-linejoin="round"/>
<polygon points="350.6,536 368.2,546.1 368.2,531.2 350.6,521.1" fill="#fff" stroke="#d6d6d9" stroke-width="0.5" stroke-linejoin="round"/>
<polygon points="368.2,546.1 392.5,532.1 392.5,517.2 368.2,531.2" fill="#fff" stroke="#d6d6d9" stroke-width="0.5" stroke-linejoin="round"/>
<polygon points="350.6,521.1 368.2,531.2 392.5,517.2 374.8,507.1" fill="#fff" stroke="#d6d6d9" stroke-width="0.5" stroke-linejoin="round"/>
<polyline points="350.6,524.1 368.2,534.2 392.5,520.2" fill="none" stroke="#d6d6d9" stroke-width="0.4" stroke-linejoin="round" stroke-linecap="round"/>
<line x1="357.7" y1="531.9" x2="361.1" y2="533.9" stroke="#d6d6d9" stroke-width="0.5"/>
<polygon points="370.8,547.6 388.4,557.8 388.4,542.9 370.8,532.7" fill="#fff" stroke="#d6d6d9" stroke-width="0.5" stroke-linejoin="round"/>
<polygon points="388.4,557.8 412.7,543.8 412.7,528.9 388.4,542.9" fill="#fff" stroke="#d6d6d9" stroke-width="0.5" stroke-linejoin="round"/>
<polygon points="370.8,532.7 388.4,542.9 412.7,528.9 395.1,518.7" fill="#fff" stroke="#d6d6d9" stroke-width="0.5" stroke-linejoin="round"/>
<polyline points="370.8,535.7 388.4,545.9 412.7,531.9" fill="none" stroke="#d6d6d9" stroke-width="0.4" stroke-linejoin="round" stroke-linecap="round"/>
<line x1="377.9" y1="543.5" x2="381.4" y2="545.5" stroke="#d6d6d9" stroke-width="0.5"/>
<polygon points="346.7,511.7 389.7,536.5 418.3,520 375.3,495.2" fill="#fff" stroke="#d6d6d9" stroke-width="0.5" stroke-linejoin="round"/>
<polygon points="346.7,511.7 389.7,536.5 389.7,538.1 346.7,513.3" fill="#fff" stroke="#d6d6d9" stroke-width="0.4" stroke-linejoin="round"/>
<polygon points="389.7,536.5 418.3,520 418.3,521.6 389.7,538.1" fill="#fff" stroke="#d6d6d9" stroke-width="0.4" stroke-linejoin="round"/>
<polygon points="350.6,512 368.2,522.1 368.2,507.2 350.6,497.1" fill="#fff" stroke="#d6d6d9" stroke-width="0.5" stroke-linejoin="round"/>
<polygon points="368.2,522.1 392.5,508.1 392.5,493.2 368.2,507.2" fill="#fff" stroke="#d6d6d9" stroke-width="0.5" stroke-linejoin="round"/>
<polygon points="350.6,497.1 368.2,507.2 392.5,493.2 374.8,483.1" fill="#fff" stroke="#d6d6d9" stroke-width="0.5" stroke-linejoin="round"/>
<polyline points="350.6,500.1 368.2,510.2 392.5,496.2" fill="none" stroke="#d6d6d9" stroke-width="0.4" stroke-linejoin="round" stroke-linecap="round"/>
<line x1="357.7" y1="507.9" x2="361.1" y2="509.9" stroke="#d6d6d9" stroke-width="0.5"/>
<polygon points="370.8,523.6 388.4,533.8 388.4,518.9 370.8,508.7" fill="#fff" stroke="#d6d6d9" stroke-width="0.5" stroke-linejoin="round"/>
<polygon points="388.4,533.8 412.7,519.8 412.7,504.9 388.4,518.9" fill="#fff" stroke="#d6d6d9" stroke-width="0.5" stroke-linejoin="round"/>
<polygon points="370.8,508.7 388.4,518.9 412.7,504.9 395.1,494.7" fill="#fff" stroke="#d6d6d9" stroke-width="0.5" stroke-linejoin="round"/>
<polyline points="370.8,511.7 388.4,521.9 412.7,507.9" fill="none" stroke="#d6d6d9" stroke-width="0.4" stroke-linejoin="round" stroke-linecap="round"/>
<line x1="377.9" y1="519.5" x2="381.4" y2="521.5" stroke="#d6d6d9" stroke-width="0.5"/>
<polygon points="346.7,487.7 389.7,512.5 418.3,496.1 375.3,471.2" fill="#fff" stroke="#d6d6d9" stroke-width="0.5" stroke-linejoin="round"/>
<polygon points="346.7,487.7 389.7,512.5 389.7,514.1 346.7,489.3" fill="#fff" stroke="#d6d6d9" stroke-width="0.4" stroke-linejoin="round"/>
<polygon points="389.7,512.5 418.3,496.1 418.3,497.7 389.7,514.1" fill="#fff" stroke="#d6d6d9" stroke-width="0.4" stroke-linejoin="round"/>
<polygon points="350.6,487.9 368.2,498.1 368.2,483.2 350.6,473.1" fill="#fff" stroke="#d6d6d9" stroke-width="0.5" stroke-linejoin="round"/>
<polygon points="368.2,498.1 392.5,484.1 392.5,469.2 368.2,483.2" fill="#fff" stroke="#d6d6d9" stroke-width="0.5" stroke-linejoin="round"/>
<polygon points="350.6,473.1 368.2,483.2 392.5,469.2 374.8,459.1" fill="#fff" stroke="#d6d6d9" stroke-width="0.5" stroke-linejoin="round"/>
<polyline points="350.6,476.1 368.2,486.2 392.5,472.2" fill="none" stroke="#d6d6d9" stroke-width="0.4" stroke-linejoin="round" stroke-linecap="round"/>
<line x1="357.7" y1="483.9" x2="361.1" y2="485.9" stroke="#d6d6d9" stroke-width="0.5"/>
<polygon points="370.8,499.6 388.4,509.8 388.4,494.9 370.8,484.7" fill="#fff" stroke="#d6d6d9" stroke-width="0.5" stroke-linejoin="round"/>
<polygon points="388.4,509.8 412.7,495.8 412.7,480.9 388.4,494.9" fill="#fff" stroke="#d6d6d9" stroke-width="0.5" stroke-linejoin="round"/>
<polygon points="370.8,484.7 388.4,494.9 412.7,480.9 395.1,470.7" fill="#fff" stroke="#d6d6d9" stroke-width="0.5" stroke-linejoin="round"/>
<polyline points="370.8,487.7 388.4,497.9 412.7,483.9" fill="none" stroke="#d6d6d9" stroke-width="0.4" stroke-linejoin="round" stroke-linecap="round"/>
<line x1="377.9" y1="495.5" x2="381.4" y2="497.5" stroke="#d6d6d9" stroke-width="0.5"/>
<polygon points="346.7,463.7 389.7,488.6 418.3,472.1 375.3,447.2" fill="#fff" stroke="#d6d6d9" stroke-width="0.5" stroke-linejoin="round"/>
<polygon points="346.7,463.7 389.7,488.6 389.7,490.2 346.7,465.3" fill="#fff" stroke="#d6d6d9" stroke-width="0.4" stroke-linejoin="round"/>
<polygon points="389.7,488.6 418.3,472.1 418.3,473.7 389.7,490.2" fill="#fff" stroke="#d6d6d9" stroke-width="0.4" stroke-linejoin="round"/>
<polygon points="350.6,463.9 368.2,474.1 368.2,459.2 350.6,449.1" fill="#fff" stroke="#d6d6d9" stroke-width="0.5" stroke-linejoin="round"/>
<polygon points="368.2,474.1 392.5,460.1 392.5,445.2 368.2,459.2" fill="#fff" stroke="#d6d6d9" stroke-width="0.5" stroke-linejoin="round"/>
<polygon points="350.6,449.1 368.2,459.2 392.5,445.2 374.8,435.1" fill="#fff" stroke="#d6d6d9" stroke-width="0.5" stroke-linejoin="round"/>
<polyline points="350.6,452.1 368.2,462.2 392.5,448.2" fill="none" stroke="#d6d6d9" stroke-width="0.4" stroke-linejoin="round" stroke-linecap="round"/>
<line x1="357.7" y1="459.9" x2="361.1" y2="461.9" stroke="#d6d6d9" stroke-width="0.5"/>
<polygon points="370.8,475.6 388.4,485.8 388.4,470.9 370.8,460.7" fill="#fff" stroke="#d6d6d9" stroke-width="0.5" stroke-linejoin="round"/>
<polygon points="388.4,485.8 412.7,471.8 412.7,456.9 388.4,470.9" fill="#fff" stroke="#d6d6d9" stroke-width="0.5" stroke-linejoin="round"/>
<polygon points="370.8,460.7 388.4,470.9 412.7,456.9 395.1,446.7" fill="#fff" stroke="#d6d6d9" stroke-width="0.5" stroke-linejoin="round"/>
<polyline points="370.8,463.7 388.4,473.9 412.7,459.9" fill="none" stroke="#d6d6d9" stroke-width="0.4" stroke-linejoin="round" stroke-linecap="round"/>
<line x1="377.9" y1="471.5" x2="381.4" y2="473.5" stroke="#d6d6d9" stroke-width="0.5"/>
<line x1="346.7" y1="441.2" x2="346.7" y2="537.2" stroke="#cfcfd3" stroke-width="0.8"/>
<ellipse cx="346.7" cy="538.2" rx="1" ry="0.8" fill="#c4c4c8"/>
<line x1="389.7" y1="466.1" x2="389.7" y2="562" stroke="#cfcfd3" stroke-width="0.8"/>
<ellipse cx="389.7" cy="563" rx="1" ry="0.8" fill="#c4c4c8"/>
<line x1="418.3" y1="449.6" x2="418.3" y2="545.5" stroke="#cfcfd3" stroke-width="0.8"/>
<ellipse cx="418.3" cy="546.5" rx="1" ry="0.8" fill="#c4c4c8"/>
<polygon points="346.7,441.2 389.7,466.1 418.3,449.6 375.3,424.7" fill="#fff" stroke="#d6d6d9" stroke-width="0.6" stroke-linejoin="round"/>
<polygon points="432.6,577.4 439.1,581.1 439.1,562.6 432.6,558.9" fill="#fff" stroke="#b9b9be" stroke-width="0.5" stroke-linejoin="round"/>
<polygon points="439.1,581.1 445.3,577.5 445.3,559 439.1,562.6" fill="#fff" stroke="#b9b9be" stroke-width="0.5" stroke-linejoin="round"/>
<polygon points="432.6,558.9 439.1,562.6 445.3,559 438.8,555.3" fill="#fff" stroke="#b9b9be" stroke-width="0.5" stroke-linejoin="round"/>
<polygon points="446.2,555.5 449.6,556.5 452.2,572.5 452.2,575.3 451,575.6 450.4,573 447.4,560.5" fill="#fff" stroke="#b9b9be" stroke-width="0.4" stroke-linejoin="round"/>
<polygon points="443.4,545 446,544.2 449.8,546.2 450.6,551.5 449.4,557.2 445.2,556.6 443.2,551" fill="#fff" stroke="#b9b9be" stroke-width="0.4" stroke-linejoin="round"/>
<path d="M443.8,546 L441,551.5 L437.6,556.8 L439,557.6 L442.6,553 L445,548.5 Z" fill="#fff" stroke="#b9b9be" stroke-width="0.4" stroke-linejoin="round" stroke-linecap="round"/>
<path d="M448.6,547 L446.4,553.5 L442,557.8 L443,558.8 L448,555 L450.2,549.5 Z" fill="#fff" stroke="#b9b9be" stroke-width="0.4" stroke-linejoin="round" stroke-linecap="round"/>
<ellipse cx="445.3" cy="542" rx="2" ry="2.3" fill="#a9a9af"/>
<path d="M443.6,541.2 Q445.4,538.6 447.2,541.4 L447,543 Q445.3,541.6 443.7,543 Z" fill="#97979d"/>
<polygon points="380.1,599.1 394.3,607.3 394.3,592.9 380.1,584.7" fill="#fff" stroke="#c2c2c7" stroke-width="0.6" stroke-linejoin="round"/>
<polygon points="394.3,607.3 407.2,599.9 407.2,585.5 394.3,592.9" fill="#fff" stroke="#c2c2c7" stroke-width="0.6" stroke-linejoin="round"/>
<polygon points="380.1,584.7 394.3,592.9 407.2,585.5 393,577.2" fill="#fff" stroke="#c2c2c7" stroke-width="0.6" stroke-linejoin="round"/>
<polyline points="387.2,588.8 400.1,581.4" fill="none" stroke="#c2c2c7" stroke-width="0.5" stroke-linejoin="round" stroke-linecap="round"/>
<line x1="400.8" y1="589.2" x2="400.8" y2="594.6" stroke="#c2c2c7" stroke-width="0.7"/>
<polygon points="381.2,596 382.8,596.9 382.8,599.4 381.2,598.5" fill="none" stroke="#c2c2c7" stroke-width="0.4" stroke-linejoin="round"/>
<polygon points="402.4,579.9 411.6,574.2 415.5,577.7 406.7,583.4" fill="#fff" stroke="#c2c2c7" stroke-width="0.5" stroke-linejoin="round"/>
<polygon points="416.4,577.7 419.9,573.7 435.2,582.5 431.2,586" fill="#fff" stroke="#c2c2c7" stroke-width="0.5" stroke-linejoin="round"/>
<polygon points="407.6,594 421.5,602 421.5,594 407.6,586" fill="#fff" stroke="#c2c2c7" stroke-width="0.6" stroke-linejoin="round"/>
<polygon points="421.5,602 431.7,596.1 431.7,588.1 421.5,594" fill="#fff" stroke="#c2c2c7" stroke-width="0.6" stroke-linejoin="round"/>
<polygon points="407.6,586 421.5,594 431.7,588.1 417.8,580.1" fill="#fff" stroke="#c2c2c7" stroke-width="0.6" stroke-linejoin="round"/>
<polygon points="409.4,586 418.5,580.6 430.5,587.6 421.6,592.3" fill="#cbcbcf"/>
<line x1="411.1" y1="586.9" x2="420.2" y2="581.6" stroke="#b4b4b9" stroke-width="0.3"/>
<line x1="412.9" y1="587.8" x2="421.9" y2="582.6" stroke="#b4b4b9" stroke-width="0.3"/>
<line x1="414.6" y1="588.7" x2="423.6" y2="583.6" stroke="#b4b4b9" stroke-width="0.3"/>
<line x1="416.4" y1="589.6" x2="425.4" y2="584.6" stroke="#b4b4b9" stroke-width="0.3"/>
<line x1="418.1" y1="590.5" x2="427.1" y2="585.6" stroke="#b4b4b9" stroke-width="0.3"/>
<line x1="419.9" y1="591.4" x2="428.8" y2="586.6" stroke="#b4b4b9" stroke-width="0.3"/>
<polygon points="431.2,586.2 436,588.2 426,593 421.6,592.6" fill="#fff" stroke="#c2c2c7" stroke-width="0.5" stroke-linejoin="round"/>
<polygon points="415.1,607.9 426.1,614.2 426.1,610.2 415.1,603.9" fill="#fff" stroke="#c2c2c7" stroke-width="0.6" stroke-linejoin="round"/>
<polygon points="426.1,614.2 436.3,608.4 436.3,604.4 426.1,610.2" fill="#fff" stroke="#c2c2c7" stroke-width="0.6" stroke-linejoin="round"/>
<polygon points="415.1,603.9 426.1,610.2 436.3,604.4 425.3,598" fill="#fff" stroke="#c2c2c7" stroke-width="0.6" stroke-linejoin="round"/>
<line x1="420.6" y1="607" x2="430.8" y2="601.1" stroke="#c2c2c7" stroke-width="0.4"/>
<line x1="149" y1="558.9" x2="171.1" y2="547.3" stroke="#c9c9cd" stroke-width="0.5"/>
<line x1="149" y1="561.1" x2="171.1" y2="549.5" stroke="#c9c9cd" stroke-width="0.5"/>
<line x1="171.1" y1="547.3" x2="193.2" y2="558.9" stroke="#c9c9cd" stroke-width="0.5"/>
<line x1="171.1" y1="549.5" x2="193.2" y2="561.1" stroke="#c9c9cd" stroke-width="0.5"/>
<line x1="149" y1="558.9" x2="171.1" y2="570.5" stroke="#c9c9cd" stroke-width="0.5"/>
<line x1="149" y1="561.1" x2="171.1" y2="572.7" stroke="#c9c9cd" stroke-width="0.5"/>
<line x1="171.1" y1="570.5" x2="193.2" y2="558.9" stroke="#c9c9cd" stroke-width="0.5"/>
<line x1="171.1" y1="572.7" x2="193.2" y2="561.1" stroke="#c9c9cd" stroke-width="0.5"/>
<path d="M147.9,539.3 L147.9,571.4 Q149,573.9 150.1,571.4 L150.1,539.3 Z" fill="#fff" stroke="#c9c9cd" stroke-width="0.6" stroke-linejoin="round" stroke-linecap="round"/>
<path d="M192.1,539.3 L192.1,571.4 Q193.2,573.9 194.3,571.4 L194.3,539.3 Z" fill="#fff" stroke="#c9c9cd" stroke-width="0.6" stroke-linejoin="round" stroke-linecap="round"/>
<path d="M155.1,548.4 A21.8,12 0 0 0 187.1,548.4 L171.1,558 Z" fill="#fff" stroke="#c9c9cd" stroke-width="0.6" stroke-linejoin="round" stroke-linecap="round"/>
<path d="M149.3,511.3 L149.3,540.3 A21.8,12 0 0 0 192.9,540.3 L192.9,511.3 A21.8,12.4 0 0 0 149.3,511.3 Z" fill="#fff" stroke="#c9c9cd" stroke-width="0.6" stroke-linejoin="round" stroke-linecap="round"/>
<path d="M169.3,555.5 L169.3,583 Q171.1,585.5 172.9,583 L172.9,555.5 Z" fill="#fff" stroke="#c9c9cd" stroke-width="0.6" stroke-linejoin="round" stroke-linecap="round"/>
<line x1="171.1" y1="557" x2="171.1" y2="583" stroke="#c9c9cd" stroke-width="0.4"/>
<ellipse cx="171.1" cy="511.3" rx="21.8" ry="12.4" fill="#fff" stroke="#c9c9cd" stroke-width="0.6"/>
<ellipse cx="171.1" cy="507.8" rx="14.8" ry="8.7" fill="#e8e8e9"/>
<ellipse cx="171.1" cy="506.9" rx="7.8" ry="4.7" fill="#fff" stroke="#c9c9cd" stroke-width="0.4"/>
<ellipse cx="171.1" cy="506.5" rx="5.9" ry="3.5" fill="#b9b9be"/>
<ellipse cx="148.5" cy="523.4" rx="1.7" ry="2.5" fill="#fff" stroke="#bdbdc2" stroke-width="0.8" transform="rotate(25 148.5 523.4)"/>
<polyline points="149.5,529.9 154,527.9 151.5,531.4 151.5,534.4" fill="none" stroke="#bdbdc2" stroke-width="0.8" stroke-linejoin="round" stroke-linecap="round"/>
<polygon points="154,488.5 157.3,485 172,476.5 186.7,485 190,488.5 179.8,501.3 172,505.8 164.2,501.3" fill="#fff" stroke="#c9c9cd" stroke-width="0.6" stroke-linejoin="round"/>
<polygon points="157.3,485 172,476.5 186.7,485 172,493.5" fill="#fff" stroke="#c9c9cd" stroke-width="0.5" stroke-linejoin="round"/>
<polygon points="159,485 172,477.5 185,485 172,492.5" fill="#a0a1a5"/>
<polyline points="154,488.5 172,498.9 190,488.5" fill="none" stroke="#c9c9cd" stroke-width="0.6" stroke-linejoin="round" stroke-linecap="round"/>
<polyline points="172,493.5 172,498.9 172,505.8" fill="none" stroke="#c9c9cd" stroke-width="0.6" stroke-linejoin="round" stroke-linecap="round"/>
<path d="M172,462 L172,484" fill="none" stroke="#c9c9cd" stroke-width="6" stroke-linejoin="round" stroke-linecap="butt"/>
<path d="M172,462 L172,484" fill="none" stroke="#fff" stroke-width="5" stroke-linejoin="round" stroke-linecap="butt"/>
<path d="M158,462 L158,471 A14,6.5 0 0 0 186,471 L186,462 Z" fill="#fff" stroke="#c9c9cd" stroke-width="0.6" stroke-linejoin="round" stroke-linecap="round"/>
<ellipse cx="172" cy="462" rx="14" ry="6.5" fill="#fff" stroke="#c9c9cd" stroke-width="0.6"/>
<ellipse cx="172" cy="461" rx="7" ry="3.3" fill="#b9b9be"/>
<polygon points="154,440.4 157.3,437.2 172,428.7 186.7,437.2 190,440.4 179.8,454.6 172,459.1 164.2,454.6" fill="#fff" stroke="#c9c9cd" stroke-width="0.6" stroke-linejoin="round"/>
<polygon points="157.3,437.2 172,428.7 186.7,437.2 172,445.7" fill="#fff" stroke="#c9c9cd" stroke-width="0.5" stroke-linejoin="round"/>
<polygon points="159,437.2 172,429.7 185,437.2 172,444.7" fill="#a0a1a5"/>
<polyline points="154,440.4 172,450.8 190,440.4" fill="none" stroke="#c9c9cd" stroke-width="0.6" stroke-linejoin="round" stroke-linecap="round"/>
<polyline points="172,445.7 172,450.8 172,459.1" fill="none" stroke="#c9c9cd" stroke-width="0.6" stroke-linejoin="round" stroke-linecap="round"/>
<line x1="213" y1="596.3" x2="233.8" y2="585.4" stroke="#c9c9cd" stroke-width="0.5"/>
<line x1="213" y1="598.5" x2="233.8" y2="587.6" stroke="#c9c9cd" stroke-width="0.5"/>
<line x1="233.8" y1="585.4" x2="254.6" y2="596.3" stroke="#c9c9cd" stroke-width="0.5"/>
<line x1="233.8" y1="587.6" x2="254.6" y2="598.5" stroke="#c9c9cd" stroke-width="0.5"/>
<line x1="213" y1="596.3" x2="233.8" y2="607.2" stroke="#c9c9cd" stroke-width="0.5"/>
<line x1="213" y1="598.5" x2="233.8" y2="609.4" stroke="#c9c9cd" stroke-width="0.5"/>
<line x1="233.8" y1="607.2" x2="254.6" y2="596.3" stroke="#c9c9cd" stroke-width="0.5"/>
<line x1="233.8" y1="609.4" x2="254.6" y2="598.5" stroke="#c9c9cd" stroke-width="0.5"/>
<path d="M211.9,576 L211.9,610.1 Q213,612.6 214.1,610.1 L214.1,576 Z" fill="#fff" stroke="#c9c9cd" stroke-width="0.6" stroke-linejoin="round" stroke-linecap="round"/>
<path d="M253.5,576 L253.5,610.1 Q254.6,612.6 255.7,610.1 L255.7,576 Z" fill="#fff" stroke="#c9c9cd" stroke-width="0.6" stroke-linejoin="round" stroke-linecap="round"/>
<path d="M218.8,584.7 A20.5,11.3 0 0 0 248.8,584.7 L233.8,593.5 Z" fill="#fff" stroke="#c9c9cd" stroke-width="0.6" stroke-linejoin="round" stroke-linecap="round"/>
<path d="M213.3,550 L213.3,577 A20.5,11.3 0 0 0 254.3,577 L254.3,550 A20.5,11.7 0 0 0 213.3,550 Z" fill="#fff" stroke="#c9c9cd" stroke-width="0.6" stroke-linejoin="round" stroke-linecap="round"/>
<path d="M232,591 L232,621 Q233.8,623.5 235.6,621 L235.6,591 Z" fill="#fff" stroke="#c9c9cd" stroke-width="0.6" stroke-linejoin="round" stroke-linecap="round"/>
<line x1="233.8" y1="592.5" x2="233.8" y2="621" stroke="#c9c9cd" stroke-width="0.4"/>
<ellipse cx="233.8" cy="550" rx="20.5" ry="11.7" fill="#fff" stroke="#c9c9cd" stroke-width="0.6"/>
<ellipse cx="233.8" cy="546.7" rx="13.9" ry="8.2" fill="#e8e8e9"/>
<ellipse cx="233.8" cy="545.9" rx="7.4" ry="4.4" fill="#fff" stroke="#c9c9cd" stroke-width="0.4"/>
<ellipse cx="233.8" cy="545.5" rx="5.5" ry="3.3" fill="#b9b9be"/>
<ellipse cx="212.5" cy="561.9" rx="1.7" ry="2.5" fill="#fff" stroke="#bdbdc2" stroke-width="0.8" transform="rotate(25 212.5 561.9)"/>
<polyline points="213.5,568.4 218,566.4 215.5,569.9 215.5,572.9" fill="none" stroke="#bdbdc2" stroke-width="0.8" stroke-linejoin="round" stroke-linecap="round"/>
<polygon points="217.8,527.6 221.4,524 236.1,515.5 250.8,524 254.4,527.6 243.9,541 236.1,545.5 228.3,541" fill="#fff" stroke="#c9c9cd" stroke-width="0.6" stroke-linejoin="round"/>
<polygon points="221.4,524 236.1,515.5 250.8,524 236.1,532.5" fill="#fff" stroke="#c9c9cd" stroke-width="0.5" stroke-linejoin="round"/>
<polygon points="223.1,524 236.1,516.5 249.1,524 236.1,531.5" fill="#a0a1a5"/>
<polyline points="217.8,527.6 236.1,538.2 254.4,527.6" fill="none" stroke="#c9c9cd" stroke-width="0.6" stroke-linejoin="round" stroke-linecap="round"/>
<polyline points="236.1,532.5 236.1,538.2 236.1,545.5" fill="none" stroke="#c9c9cd" stroke-width="0.6" stroke-linejoin="round" stroke-linecap="round"/>
<path d="M172,437 L172,410.5 L216.3,436 L216.3,499 L236.1,510.4 L236.1,524.5" fill="none" stroke="#c9c9cd" stroke-width="6.6" stroke-linejoin="round" stroke-linecap="butt"/>
<path d="M172,437 L172,410.5 L216.3,436 L216.3,499 L236.1,510.4 L236.1,524.5" fill="none" stroke="#fff" stroke-width="5.6" stroke-linejoin="round" stroke-linecap="butt"/>
<line x1="244.3" y1="616.2" x2="266.7" y2="604.5" stroke="#c9c9cd" stroke-width="0.5"/>
<line x1="244.3" y1="618.4" x2="266.7" y2="606.7" stroke="#c9c9cd" stroke-width="0.5"/>
<line x1="266.7" y1="604.5" x2="289.1" y2="616.2" stroke="#c9c9cd" stroke-width="0.5"/>
<line x1="266.7" y1="606.7" x2="289.1" y2="618.4" stroke="#c9c9cd" stroke-width="0.5"/>
<line x1="244.3" y1="616.2" x2="266.7" y2="628" stroke="#c9c9cd" stroke-width="0.5"/>
<line x1="244.3" y1="618.4" x2="266.7" y2="630.2" stroke="#c9c9cd" stroke-width="0.5"/>
<line x1="266.7" y1="628" x2="289.1" y2="616.2" stroke="#c9c9cd" stroke-width="0.5"/>
<line x1="266.7" y1="630.2" x2="289.1" y2="618.4" stroke="#c9c9cd" stroke-width="0.5"/>
<path d="M243.2,596.5 L243.2,629.3 Q244.3,631.8 245.4,629.3 L245.4,596.5 Z" fill="#fff" stroke="#c9c9cd" stroke-width="0.6" stroke-linejoin="round" stroke-linecap="round"/>
<path d="M288,596.5 L288,629.3 Q289.1,631.8 290.2,629.3 L290.2,596.5 Z" fill="#fff" stroke="#c9c9cd" stroke-width="0.6" stroke-linejoin="round" stroke-linecap="round"/>
<path d="M250.8,605.9 A22.1,12.2 0 0 0 282.6,605.9 L266.7,615 Z" fill="#fff" stroke="#c9c9cd" stroke-width="0.6" stroke-linejoin="round" stroke-linecap="round"/>
<path d="M244.6,569 L244.6,597.5 A22.1,12.2 0 0 0 288.8,597.5 L288.8,569 A22.1,12.6 0 0 0 244.6,569 Z" fill="#fff" stroke="#c9c9cd" stroke-width="0.6" stroke-linejoin="round" stroke-linecap="round"/>
<path d="M264.9,612.5 L264.9,641 Q266.7,643.5 268.5,641 L268.5,612.5 Z" fill="#fff" stroke="#c9c9cd" stroke-width="0.6" stroke-linejoin="round" stroke-linecap="round"/>
<line x1="266.7" y1="614" x2="266.7" y2="641" stroke="#c9c9cd" stroke-width="0.4"/>
<ellipse cx="266.7" cy="569" rx="22.1" ry="12.6" fill="#fff" stroke="#c9c9cd" stroke-width="0.6"/>
<ellipse cx="266.7" cy="565.5" rx="15" ry="8.8" fill="#e8e8e9"/>
<ellipse cx="266.7" cy="564.6" rx="8" ry="4.8" fill="#fff" stroke="#c9c9cd" stroke-width="0.4"/>
<ellipse cx="266.7" cy="564.1" rx="6" ry="3.5" fill="#b9b9be"/>
<ellipse cx="243.8" cy="581.1" rx="1.7" ry="2.5" fill="#fff" stroke="#bdbdc2" stroke-width="0.8" transform="rotate(25 243.8 581.1)"/>
<polyline points="244.8,587.6 249.3,585.6 246.8,589.1 246.8,592.1" fill="none" stroke="#bdbdc2" stroke-width="0.8" stroke-linejoin="round" stroke-linecap="round"/>
<polygon points="249.4,546.8 252.9,543.4 267.6,534.9 282.3,543.4 285.8,546.8 275.4,560.8 267.6,565.3 259.8,560.8" fill="#fff" stroke="#c9c9cd" stroke-width="0.6" stroke-linejoin="round"/>
<polygon points="252.9,543.4 267.6,534.9 282.3,543.4 267.6,551.9" fill="#fff" stroke="#c9c9cd" stroke-width="0.5" stroke-linejoin="round"/>
<polygon points="254.6,543.4 267.6,535.9 280.6,543.4 267.6,550.9" fill="#a0a1a5"/>
<polyline points="249.4,546.8 267.6,557.3 285.8,546.8" fill="none" stroke="#c9c9cd" stroke-width="0.6" stroke-linejoin="round" stroke-linecap="round"/>
<polyline points="267.6,551.9 267.6,557.3 267.6,565.3" fill="none" stroke="#c9c9cd" stroke-width="0.6" stroke-linejoin="round" stroke-linecap="round"/>
<path d="M305.6,631 L305.6,635 L316.6,648.5 L318.6,648.5 L330.2,635 L330.2,631 Z" fill="#fff" stroke="#c9c9ce" stroke-width="0.5" stroke-linejoin="round" stroke-linecap="round"/>
<line x1="308.4" y1="638.4" x2="327.3" y2="638.4" stroke="#c9c9ce" stroke-width="0.4"/>
<line x1="311.1" y1="641.8" x2="324.4" y2="641.8" stroke="#c9c9ce" stroke-width="0.4"/>
<line x1="313.9" y1="645.1" x2="321.5" y2="645.1" stroke="#c9c9ce" stroke-width="0.4"/>
<path d="M299.3,613.5 L299.3,649.5 Q300.4,652 301.4,649.5 L301.4,613.5 Z" fill="#fff" stroke="#c9c9ce" stroke-width="0.5" stroke-linejoin="round" stroke-linecap="round"/>
<ellipse cx="300.4" cy="613.3" rx="2.1" ry="1.3" fill="#fff" stroke="#c9c9ce" stroke-width="0.5"/>
<ellipse cx="300.4" cy="651" rx="2" ry="1.2" fill="#fff" stroke="#c9c9ce" stroke-width="0.5"/>
<path d="M333.8,613.5 L333.8,649.5 Q334.9,652 335.9,649.5 L335.9,613.5 Z" fill="#fff" stroke="#c9c9ce" stroke-width="0.5" stroke-linejoin="round" stroke-linecap="round"/>
<ellipse cx="334.9" cy="613.3" rx="2.1" ry="1.3" fill="#fff" stroke="#c9c9ce" stroke-width="0.5"/>
<ellipse cx="334.9" cy="651" rx="2" ry="1.2" fill="#fff" stroke="#c9c9ce" stroke-width="0.5"/>
<polygon points="298,626.6 317.4,636.4 337.3,625.7 337.3,627.9 317.4,638.6 298,628.8" fill="#fff" stroke="#c9c9ce" stroke-width="0.5" stroke-linejoin="round"/>
<polygon points="298,626.6 317.4,636.4 337.3,625.7 317.9,616.4" fill="#fff" stroke="#c9c9ce" stroke-width="0.5" stroke-linejoin="round"/>
<path d="M305.3,613 L305.3,624.5 A12.6,6.6 0 0 0 330.5,624.5 L330.5,613 Z" fill="#fff" stroke="#c9c9ce" stroke-width="0.5" stroke-linejoin="round" stroke-linecap="round"/>
<path d="M314,599.4 L305.3,613 A12.6,6.6 0 0 0 330.5,613 L320.8,599.4 Z" fill="#e8e8e9" stroke="#c9c9ce" stroke-width="0.4" stroke-linejoin="round" stroke-linecap="round"/>
<path d="M316.3,622.5 L316.3,659.5 Q317.4,662 318.4,659.5 L318.4,622.5 Z" fill="#fff" stroke="#c9c9ce" stroke-width="0.5" stroke-linejoin="round" stroke-linecap="round"/>
<ellipse cx="317.4" cy="622.2" rx="2.1" ry="1.3" fill="#fff" stroke="#c9c9ce" stroke-width="0.5"/>
<ellipse cx="317.4" cy="661" rx="2" ry="1.2" fill="#fff" stroke="#c9c9ce" stroke-width="0.5"/>
<path d="M267.6,544 L267.6,523.5 L317.5,552.3 L317.5,600.5" fill="none" stroke="#c9c9cd" stroke-width="6.6" stroke-linejoin="round" stroke-linecap="butt"/>
<path d="M267.6,544 L267.6,523.5 L317.5,552.3 L317.5,600.5" fill="none" stroke="#fff" stroke-width="5.6" stroke-linejoin="round" stroke-linecap="butt"/>
<path d="M1092.1,302.8 Q1081.3,309 1092.1,315.2 L1352,465.1 Q1362.8,471.3 1373.6,465.1 L1599.6,335.2 Q1610.4,329 1599.6,322.8 L1339.7,172.9 Q1328.9,166.7 1318.1,172.9 Z" fill="#b7b7bc" transform="translate(0,4)"/>
<path d="M1092.1,302.8 Q1081.3,309 1092.1,315.2 L1352,465.1 Q1362.8,471.3 1373.6,465.1 L1599.6,335.2 Q1610.4,329 1599.6,322.8 L1339.7,172.9 Q1328.9,166.7 1318.1,172.9 Z" fill="#b7b7bc" transform="translate(0,2)"/>
<path d="M1092.1,302.8 Q1081.3,309 1092.1,315.2 L1352,465.1 Q1362.8,471.3 1373.6,465.1 L1599.6,335.2 Q1610.4,329 1599.6,322.8 L1339.7,172.9 Q1328.9,166.7 1318.1,172.9 Z" fill="#fff"/>
<path d="M1160.8,221 L1160.8,180.5 L1192.3,198.7 L1192.3,264 L1207,272.5" fill="none" stroke="#c9c9cd" stroke-width="5.8" stroke-linejoin="round" stroke-linecap="round"/>
<path d="M1160.8,221 L1160.8,180.5 L1192.3,198.7 L1192.3,264 L1207,272.5" fill="none" stroke="#fff" stroke-width="4.6" stroke-linejoin="round" stroke-linecap="round"/>
<polygon points="1147.5,287 1151.3,287 1148.8,304 1146.8,304.8" fill="#b4b4b9"/>
<polygon points="1170.3,287 1174.1,287 1174.8,304 1172.8,304.8" fill="#b4b4b9"/>
<path d="M1141.8,283 L1142.3,286.8 A19,10.5 0 0 0 1179.3,286.8 L1179.8,283 Z" fill="#b4b4b9"/>
<path d="M1141.8,221 L1141.8,283.4 A19,10.5 0 0 0 1179.8,283.4 L1179.8,221 A19,9.5 0 0 0 1141.8,221 Z" fill="#fff" stroke="#c9c9cd" stroke-width="0.6" stroke-linejoin="round" stroke-linecap="round"/>
<ellipse cx="1160.8" cy="221" rx="19" ry="9.5" fill="#fff" stroke="#c9c9cd" stroke-width="0.6"/>
<path d="M1141.8,226 A19,9.5 0 0 0 1179.8,226" fill="none" stroke="#c9c9cd" stroke-width="0.6" stroke-linejoin="round" stroke-linecap="round"/>
<ellipse cx="1160.8" cy="219.5" rx="10.5" ry="5.2" fill="#fff" stroke="#c9c9cd" stroke-width="0.5"/>
<path d="M1160.8,219 L1160.8,200" fill="none" stroke="#c9c9cd" stroke-width="5.8" stroke-linejoin="round" stroke-linecap="butt"/>
<path d="M1160.8,219 L1160.8,200" fill="none" stroke="#fff" stroke-width="4.6" stroke-linejoin="round" stroke-linecap="butt"/>
<polygon points="1244.3,223.4 1295.1,252.1 1295.1,258.6 1244.3,229.9" fill="#e9e9eb" stroke="#c6c6cb" stroke-width="0.6" stroke-linejoin="round"/>
<polygon points="1295.1,252.1 1381.4,202.4 1381.4,208.9 1295.1,258.6" fill="#f4f4f5" stroke="#c6c6cb" stroke-width="0.6" stroke-linejoin="round"/>
<polygon points="1244.3,223.4 1295.1,252.1 1381.4,202.4 1330.6,173.7" fill="#fff" stroke="#c6c6cb" stroke-width="0.6" stroke-linejoin="round"/>
<polygon points="1249.8,223.4 1295.1,248.9 1375.9,202.4 1330.6,176.9" fill="#b9b9be" stroke="#c6c6cb" stroke-width="0.4" stroke-linejoin="round"/>
<polygon points="1255,226.4 1295.1,248.9 1370.7,205.4 1330.6,182.9" fill="#e8e8e9"/>
<polygon points="1335.5,211.5 1339.8,214 1339.8,208.5 1335.5,206" fill="#b9b9be" stroke="#c6c6cb" stroke-width="0.5" stroke-linejoin="round"/>
<polygon points="1339.8,214 1345.9,210.5 1345.9,205 1339.8,208.5" fill="#fff" stroke="#c6c6cb" stroke-width="0.5" stroke-linejoin="round"/>
<polygon points="1335.5,206 1339.8,208.5 1345.9,205 1341.6,202.5" fill="#fff" stroke="#c6c6cb" stroke-width="0.5" stroke-linejoin="round"/>
<polygon points="1361.9,184.8 1361.7,181.6 1361,178.3 1359.9,174.9 1358.4,171.6 1356.5,168.4 1354.4,165.4 1352,162.8 1349.5,160.6 1346.9,158.8 1344.3,157.6 1341.8,156.9 1339.4,156.8 1337.3,157.3 1335.4,158.4 1333.9,160 1332.8,162.1 1332.2,164.6 1331.9,167.5 1332.2,170.6 1332.8,173.9 1333.9,177.3 1335.4,180.6 1337.3,183.8 1339.4,186.8 1341.8,189.4 1344.3,191.6 1346.9,193.4 1349.5,194.6 1352,195.3 1354.4,195.4 1356.5,194.9 1358.4,193.8 1359.9,192.2 1361,190.1 1361.7,187.6" fill="#fff" stroke="#c6c6cb" stroke-width="0.6" stroke-linejoin="round"/>
<polygon points="1270.5,195.8 1336.3,157.8 1357.5,194.4 1291.7,232.4" fill="#fff"/>
<line x1="1270.5" y1="195.8" x2="1336.3" y2="157.8" stroke="#c6c6cb" stroke-width="0.6"/>
<line x1="1291.7" y1="232.4" x2="1357.5" y2="194.4" stroke="#c6c6cb" stroke-width="0.6"/>
<polygon points="1296.1,222.8 1295.9,219.6 1295.2,216.3 1294.1,212.9 1292.6,209.6 1290.7,206.4 1288.6,203.4 1286.2,200.8 1283.7,198.6 1281.1,196.8 1278.5,195.6 1276,194.9 1273.6,194.8 1271.5,195.3 1269.6,196.4 1268.1,198 1267,200.1 1266.3,202.6 1266.1,205.5 1266.3,208.6 1267,211.9 1268.1,215.3 1269.6,218.6 1271.5,221.8 1273.6,224.8 1276,227.4 1278.5,229.6 1281.1,231.4 1283.7,232.6 1286.2,233.3 1288.6,233.4 1290.7,232.9 1292.6,231.8 1294.1,230.2 1295.2,228.1 1295.9,225.6" fill="#ebebed" stroke="#c6c6cb" stroke-width="0.7" stroke-linejoin="round"/>
<polygon points="1291.6,219.6 1291.4,217.5 1291,215.4 1290.2,213.1 1289.3,210.9 1288,208.8 1286.6,206.9 1285.1,205.1 1283.4,203.7 1281.7,202.5 1280,201.7 1278.3,201.2 1276.8,201.2 1275.4,201.5 1274.1,202.2 1273.2,203.3 1272.4,204.6 1272,206.3 1271.8,208.2 1272,210.3 1272.4,212.4 1273.2,214.7 1274.1,216.9 1275.4,219 1276.8,220.9 1278.3,222.7 1280,224.1 1281.7,225.3 1283.4,226.1 1285.1,226.6 1286.6,226.6 1288,226.3 1289.3,225.6 1290.2,224.5 1291,223.2 1291.4,221.5" fill="#b9b9be" stroke="#a9a9af" stroke-width="0.5" stroke-linejoin="round"/>
<polygon points="1297.3,233.5 1301.6,236 1301.6,230.5 1297.3,228" fill="#b9b9be" stroke="#c6c6cb" stroke-width="0.5" stroke-linejoin="round"/>
<polygon points="1301.6,236 1307.7,232.5 1307.7,227 1301.6,230.5" fill="#fff" stroke="#c6c6cb" stroke-width="0.5" stroke-linejoin="round"/>
<polygon points="1297.3,228 1301.6,230.5 1307.7,227 1303.4,224.5" fill="#fff" stroke="#c6c6cb" stroke-width="0.5" stroke-linejoin="round"/>
<path d="M1295,177 L1295,180.4 A14,7.6 0 0 0 1323,180.4 L1323,177 Z" fill="#b9b9be" stroke="#c6c6cb" stroke-width="0.5" stroke-linejoin="round" stroke-linecap="round"/>
<path d="M1295,177 L1295,178.4 A14,7.6 0 0 0 1323,178.4 L1323,177 Z" fill="#fff" stroke="#c6c6cb" stroke-width="0.4" stroke-linejoin="round" stroke-linecap="round"/>
<ellipse cx="1309" cy="177" rx="14" ry="7.6" fill="#fff" stroke="#c6c6cb" stroke-width="0.6"/>
<path d="M1323.7,168.5 C1331.7,157.5 1355.8,159.3 1356.3,188.3" fill="none" stroke="#c6c6cb" stroke-width="0.6" stroke-linejoin="round" stroke-linecap="round"/>
<line x1="1348.4" y1="241" x2="1348.4" y2="249.5" stroke="#c4c4c9" stroke-width="0.8"/>
<line x1="1355.9" y1="241" x2="1355.9" y2="253" stroke="#c4c4c9" stroke-width="0.8"/>
<line x1="1363.4" y1="241" x2="1363.4" y2="249.5" stroke="#c4c4c9" stroke-width="0.8"/>
<path d="M1346.8,211 L1346.8,239 A9.1,8 0 0 0 1365,239 L1365,211 A9.1,8 0 0 0 1346.8,211 Z" fill="#fff" stroke="#c6c6cb" stroke-width="0.6" stroke-linejoin="round" stroke-linecap="round"/>
<path d="M1346.8,212 A9.1,4.5 0 0 0 1365,212" fill="none" stroke="#c6c6cb" stroke-width="0.5" stroke-linejoin="round" stroke-linecap="round"/>
<path d="M1307.5,174 L1310.5,170.5 L1356,196.5 L1356,206" fill="none" stroke="#c6c6cb" stroke-width="8.7" stroke-linejoin="round" stroke-linecap="round"/>
<path d="M1307.5,174 L1310.5,170.5 L1356,196.5 L1356,206" fill="none" stroke="#fff" stroke-width="7.6" stroke-linejoin="round" stroke-linecap="round"/>
<line x1="1204.2" y1="331.2" x2="1239.5" y2="312.7" stroke="#c9c9cd" stroke-width="0.5"/>
<line x1="1204.2" y1="333.4" x2="1239.5" y2="314.9" stroke="#c9c9cd" stroke-width="0.5"/>
<line x1="1239.5" y1="312.7" x2="1274.8" y2="331.2" stroke="#c9c9cd" stroke-width="0.5"/>
<line x1="1239.5" y1="314.9" x2="1274.8" y2="333.4" stroke="#c9c9cd" stroke-width="0.5"/>
<line x1="1204.2" y1="331.2" x2="1239.5" y2="349.8" stroke="#c9c9cd" stroke-width="0.5"/>
<line x1="1204.2" y1="333.4" x2="1239.5" y2="352" stroke="#c9c9cd" stroke-width="0.5"/>
<line x1="1239.5" y1="349.8" x2="1274.8" y2="331.2" stroke="#c9c9cd" stroke-width="0.5"/>
<line x1="1239.5" y1="352" x2="1274.8" y2="333.4" stroke="#c9c9cd" stroke-width="0.5"/>
<path d="M1202.2,305 L1202.2,356.8 Q1204.2,359.3 1206.2,356.8 L1206.2,305 Z" fill="#fff" stroke="#c9c9cd" stroke-width="0.6" stroke-linejoin="round" stroke-linecap="round"/>
<path d="M1272.8,305 L1272.8,356.8 Q1274.8,359.3 1276.8,356.8 L1276.8,305 Z" fill="#fff" stroke="#c9c9cd" stroke-width="0.6" stroke-linejoin="round" stroke-linecap="round"/>
<path d="M1213,314.2 A35,12.6 0 0 0 1266,314.2 L1239.5,325.3 Z" fill="#fff" stroke="#c9c9cd" stroke-width="0.6" stroke-linejoin="round" stroke-linecap="round"/>
<path d="M1204.5,256 L1204.5,306 A35,12.6 0 0 0 1274.5,306 L1274.5,256 A35,19.9 0 0 0 1204.5,256 Z" fill="#fff" stroke="#c9c9cd" stroke-width="0.6" stroke-linejoin="round" stroke-linecap="round"/>
<path d="M1236.2,322.8 L1236.2,375.4 Q1239.5,377.9 1242.8,375.4 L1242.8,322.8 Z" fill="#fff" stroke="#c9c9cd" stroke-width="0.6" stroke-linejoin="round" stroke-linecap="round"/>
<line x1="1239.5" y1="324.3" x2="1239.5" y2="375.4" stroke="#c9c9cd" stroke-width="0.4"/>
<ellipse cx="1239.5" cy="256" rx="35" ry="19.9" fill="#fff" stroke="#c9c9cd" stroke-width="0.6"/>
<ellipse cx="1239.5" cy="250.4" rx="23.8" ry="14" fill="#e8e8e9"/>
<ellipse cx="1239.5" cy="249" rx="12.6" ry="7.6" fill="#fff" stroke="#c9c9cd" stroke-width="0.4"/>
<ellipse cx="1239.5" cy="248.3" rx="9.5" ry="5.6" fill="#b9b9be"/>
<ellipse cx="1203.7" cy="270" rx="1.7" ry="2.5" fill="#fff" stroke="#bdbdc2" stroke-width="0.8" transform="rotate(25 1203.7 270)"/>
<polyline points="1204.7,276.5 1209.2,274.5 1206.7,278 1206.7,281" fill="none" stroke="#bdbdc2" stroke-width="0.8" stroke-linejoin="round" stroke-linecap="round"/>
<polygon points="1211.8,217 1218.7,207.6 1241.6,194.4 1264.5,207.6 1271.4,217 1253.7,239.9 1241,247.2 1228.3,239.9" fill="#fff" stroke="#c9c9cd" stroke-width="0.6" stroke-linejoin="round"/>
<polygon points="1218.7,207.6 1241.6,194.4 1264.5,207.6 1241.6,220.8" fill="#fff" stroke="#c9c9cd" stroke-width="0.5" stroke-linejoin="round"/>
<polygon points="1220.4,207.6 1241.6,195.4 1262.8,207.6 1241.6,219.8" fill="#b9b9be"/>
<polyline points="1211.8,217 1241.6,234.2 1271.4,217" fill="none" stroke="#c9c9cd" stroke-width="0.6" stroke-linejoin="round" stroke-linecap="round"/>
<polyline points="1241.6,220.8 1241.6,234.2 1241,247.2" fill="none" stroke="#c9c9cd" stroke-width="0.6" stroke-linejoin="round" stroke-linecap="round"/>
<polyline points="1232.1,213.1 1241.6,208.8 1251.1,213.1" fill="none" stroke="#aaaab0" stroke-width="0.4" stroke-linejoin="round" stroke-linecap="round"/>
<line x1="1241.6" y1="208.8" x2="1241.6" y2="219.8" stroke="#aaaab0" stroke-width="0.4"/>
<polygon points="1326.8,274.4 1377.6,303.1 1377.6,309.6 1326.8,280.9" fill="#e9e9eb" stroke="#c6c6cb" stroke-width="0.6" stroke-linejoin="round"/>
<polygon points="1377.6,303.1 1463.9,253.4 1463.9,259.9 1377.6,309.6" fill="#f4f4f5" stroke="#c6c6cb" stroke-width="0.6" stroke-linejoin="round"/>
<polygon points="1326.8,274.4 1377.6,303.1 1463.9,253.4 1413.1,224.7" fill="#fff" stroke="#c6c6cb" stroke-width="0.6" stroke-linejoin="round"/>
<polygon points="1332.3,274.4 1377.6,299.9 1458.4,253.4 1413.1,227.9" fill="#b9b9be" stroke="#c6c6cb" stroke-width="0.4" stroke-linejoin="round"/>
<polygon points="1337.5,277.4 1377.6,299.9 1453.2,256.4 1413.1,233.9" fill="#e8e8e9"/>
<polygon points="1418,262.5 1422.3,265 1422.3,259.5 1418,257" fill="#b9b9be" stroke="#c6c6cb" stroke-width="0.5" stroke-linejoin="round"/>
<polygon points="1422.3,265 1428.4,261.5 1428.4,256 1422.3,259.5" fill="#fff" stroke="#c6c6cb" stroke-width="0.5" stroke-linejoin="round"/>
<polygon points="1418,257 1422.3,259.5 1428.4,256 1424.1,253.5" fill="#fff" stroke="#c6c6cb" stroke-width="0.5" stroke-linejoin="round"/>
<polygon points="1444.4,235.8 1444.2,232.6 1443.5,229.3 1442.4,225.9 1440.9,222.6 1439,219.4 1436.9,216.4 1434.5,213.8 1432,211.6 1429.4,209.8 1426.8,208.6 1424.3,207.9 1421.9,207.8 1419.8,208.3 1417.9,209.4 1416.4,211 1415.3,213.1 1414.7,215.6 1414.4,218.5 1414.7,221.6 1415.3,224.9 1416.4,228.3 1417.9,231.6 1419.8,234.8 1421.9,237.8 1424.3,240.4 1426.8,242.6 1429.4,244.4 1432,245.6 1434.5,246.3 1436.9,246.4 1439,245.9 1440.9,244.8 1442.4,243.2 1443.5,241.1 1444.2,238.6" fill="#fff" stroke="#c6c6cb" stroke-width="0.6" stroke-linejoin="round"/>
<polygon points="1353,246.8 1418.8,208.8 1440,245.4 1374.2,283.4" fill="#fff"/>
<line x1="1353" y1="246.8" x2="1418.8" y2="208.8" stroke="#c6c6cb" stroke-width="0.6"/>
<line x1="1374.2" y1="283.4" x2="1440" y2="245.4" stroke="#c6c6cb" stroke-width="0.6"/>
<polygon points="1378.6,273.8 1378.4,270.6 1377.7,267.3 1376.6,263.9 1375.1,260.6 1373.2,257.4 1371.1,254.4 1368.7,251.8 1366.2,249.6 1363.6,247.8 1361,246.6 1358.5,245.9 1356.1,245.8 1354,246.3 1352.1,247.4 1350.6,249 1349.5,251.1 1348.8,253.6 1348.6,256.5 1348.8,259.6 1349.5,262.9 1350.6,266.3 1352.1,269.6 1354,272.8 1356.1,275.8 1358.5,278.4 1361,280.6 1363.6,282.4 1366.2,283.6 1368.7,284.3 1371.1,284.4 1373.2,283.9 1375.1,282.8 1376.6,281.2 1377.7,279.1 1378.4,276.6" fill="#ebebed" stroke="#c6c6cb" stroke-width="0.7" stroke-linejoin="round"/>
<polygon points="1374.1,270.6 1373.9,268.5 1373.5,266.4 1372.7,264.1 1371.8,261.9 1370.5,259.8 1369.1,257.9 1367.6,256.1 1365.9,254.7 1364.2,253.5 1362.5,252.7 1360.8,252.2 1359.3,252.2 1357.9,252.5 1356.6,253.2 1355.7,254.3 1354.9,255.6 1354.5,257.3 1354.3,259.2 1354.5,261.3 1354.9,263.4 1355.7,265.7 1356.6,267.9 1357.9,270 1359.3,271.9 1360.8,273.7 1362.5,275.1 1364.2,276.3 1365.9,277.1 1367.6,277.6 1369.1,277.6 1370.5,277.3 1371.8,276.6 1372.7,275.5 1373.5,274.2 1373.9,272.5" fill="#b9b9be" stroke="#a9a9af" stroke-width="0.5" stroke-linejoin="round"/>
<polygon points="1379.8,284.5 1384.1,287 1384.1,281.5 1379.8,279" fill="#b9b9be" stroke="#c6c6cb" stroke-width="0.5" stroke-linejoin="round"/>
<polygon points="1384.1,287 1390.2,283.5 1390.2,278 1384.1,281.5" fill="#fff" stroke="#c6c6cb" stroke-width="0.5" stroke-linejoin="round"/>
<polygon points="1379.8,279 1384.1,281.5 1390.2,278 1385.9,275.5" fill="#fff" stroke="#c6c6cb" stroke-width="0.5" stroke-linejoin="round"/>
<path d="M1377.5,228 L1377.5,231.4 A14,7.6 0 0 0 1405.5,231.4 L1405.5,228 Z" fill="#b9b9be" stroke="#c6c6cb" stroke-width="0.5" stroke-linejoin="round" stroke-linecap="round"/>
<path d="M1377.5,228 L1377.5,229.4 A14,7.6 0 0 0 1405.5,229.4 L1405.5,228 Z" fill="#fff" stroke="#c6c6cb" stroke-width="0.4" stroke-linejoin="round" stroke-linecap="round"/>
<ellipse cx="1391.5" cy="228" rx="14" ry="7.6" fill="#fff" stroke="#c6c6cb" stroke-width="0.6"/>
<path d="M1406.2,219.5 C1414.2,208.5 1438.3,210.3 1438.8,239.3" fill="none" stroke="#c6c6cb" stroke-width="0.6" stroke-linejoin="round" stroke-linecap="round"/>
<line x1="1430.9" y1="292" x2="1430.9" y2="300.5" stroke="#c4c4c9" stroke-width="0.8"/>
<line x1="1438.4" y1="292" x2="1438.4" y2="304" stroke="#c4c4c9" stroke-width="0.8"/>
<line x1="1445.9" y1="292" x2="1445.9" y2="300.5" stroke="#c4c4c9" stroke-width="0.8"/>
<path d="M1429.3,262 L1429.3,290 A9.1,8 0 0 0 1447.5,290 L1447.5,262 A9.1,8 0 0 0 1429.3,262 Z" fill="#fff" stroke="#c6c6cb" stroke-width="0.6" stroke-linejoin="round" stroke-linecap="round"/>
<path d="M1429.3,263 A9.1,4.5 0 0 0 1447.5,263" fill="none" stroke="#c6c6cb" stroke-width="0.5" stroke-linejoin="round" stroke-linecap="round"/>
<path d="M1390,225 L1393,221.5 L1438.5,247.5 L1438.5,257" fill="none" stroke="#c6c6cb" stroke-width="8.7" stroke-linejoin="round" stroke-linecap="round"/>
<path d="M1390,225 L1393,221.5 L1438.5,247.5 L1438.5,257" fill="none" stroke="#fff" stroke-width="7.6" stroke-linejoin="round" stroke-linecap="round"/>
<line x1="1256.3" y1="363.5" x2="1292.6" y2="344.4" stroke="#c9c9cd" stroke-width="0.5"/>
<line x1="1256.3" y1="365.7" x2="1292.6" y2="346.6" stroke="#c9c9cd" stroke-width="0.5"/>
<line x1="1292.6" y1="344.4" x2="1328.9" y2="363.5" stroke="#c9c9cd" stroke-width="0.5"/>
<line x1="1292.6" y1="346.6" x2="1328.9" y2="365.7" stroke="#c9c9cd" stroke-width="0.5"/>
<line x1="1256.3" y1="363.5" x2="1292.6" y2="382.6" stroke="#c9c9cd" stroke-width="0.5"/>
<line x1="1256.3" y1="365.7" x2="1292.6" y2="384.8" stroke="#c9c9cd" stroke-width="0.5"/>
<line x1="1292.6" y1="382.6" x2="1328.9" y2="363.5" stroke="#c9c9cd" stroke-width="0.5"/>
<line x1="1292.6" y1="384.8" x2="1328.9" y2="365.7" stroke="#c9c9cd" stroke-width="0.5"/>
<path d="M1254.3,336.3 L1254.3,389.9 Q1256.3,392.4 1258.2,389.9 L1258.2,336.3 Z" fill="#fff" stroke="#c9c9cd" stroke-width="0.6" stroke-linejoin="round" stroke-linecap="round"/>
<path d="M1326.9,336.3 L1326.9,389.9 Q1328.9,392.4 1330.8,389.9 L1330.8,336.3 Z" fill="#fff" stroke="#c9c9cd" stroke-width="0.6" stroke-linejoin="round" stroke-linecap="round"/>
<path d="M1265.2,345.7 A36,13 0 0 0 1320,345.7 L1292.6,357.3 Z" fill="#fff" stroke="#c9c9cd" stroke-width="0.6" stroke-linejoin="round" stroke-linecap="round"/>
<path d="M1256.6,290 L1256.6,337.3 A36,13 0 0 0 1328.6,337.3 L1328.6,290 A36,20.5 0 0 0 1256.6,290 Z" fill="#fff" stroke="#c9c9cd" stroke-width="0.6" stroke-linejoin="round" stroke-linecap="round"/>
<path d="M1289.3,354.8 L1289.3,409 Q1292.6,411.5 1295.8,409 L1295.8,354.8 Z" fill="#fff" stroke="#c9c9cd" stroke-width="0.6" stroke-linejoin="round" stroke-linecap="round"/>
<line x1="1292.6" y1="356.3" x2="1292.6" y2="409" stroke="#c9c9cd" stroke-width="0.4"/>
<ellipse cx="1292.6" cy="290" rx="36" ry="20.5" fill="#fff" stroke="#c9c9cd" stroke-width="0.6"/>
<ellipse cx="1292.6" cy="284.2" rx="24.5" ry="14.4" fill="#e8e8e9"/>
<ellipse cx="1292.6" cy="282.8" rx="13" ry="7.8" fill="#fff" stroke="#c9c9cd" stroke-width="0.4"/>
<ellipse cx="1292.6" cy="282.1" rx="9.7" ry="5.7" fill="#b9b9be"/>
<ellipse cx="1255.8" cy="304.1" rx="1.7" ry="2.5" fill="#fff" stroke="#bdbdc2" stroke-width="0.8" transform="rotate(25 1255.8 304.1)"/>
<polyline points="1256.8,310.6 1261.3,308.6 1258.8,312.1 1258.8,315.1" fill="none" stroke="#bdbdc2" stroke-width="0.8" stroke-linejoin="round" stroke-linecap="round"/>
<polygon points="1263.5,248.7 1271.1,240.2 1293.8,227.1 1316.5,240.2 1324.1,248.7 1306.4,271.2 1293.8,278.5 1281.2,271.2" fill="#fff" stroke="#c9c9cd" stroke-width="0.6" stroke-linejoin="round"/>
<polygon points="1271.1,240.2 1293.8,227.1 1316.5,240.2 1293.8,253.3" fill="#fff" stroke="#c9c9cd" stroke-width="0.5" stroke-linejoin="round"/>
<polygon points="1272.8,240.2 1293.8,228.1 1314.8,240.2 1293.8,252.3" fill="#b9b9be"/>
<polyline points="1263.5,248.7 1293.8,266.2 1324.1,248.7" fill="none" stroke="#c9c9cd" stroke-width="0.6" stroke-linejoin="round" stroke-linecap="round"/>
<polyline points="1293.8,253.3 1293.8,266.2 1293.8,278.5" fill="none" stroke="#c9c9cd" stroke-width="0.6" stroke-linejoin="round" stroke-linecap="round"/>
<polyline points="1284.3,245.7 1293.8,241.4 1303.2,245.7" fill="none" stroke="#aaaab0" stroke-width="0.4" stroke-linejoin="round" stroke-linecap="round"/>
<line x1="1293.8" y1="241.4" x2="1293.8" y2="252.3" stroke="#aaaab0" stroke-width="0.4"/>
<polygon points="1409.3,325.4 1460.1,354.1 1460.1,360.6 1409.3,331.9" fill="#e9e9eb" stroke="#c6c6cb" stroke-width="0.6" stroke-linejoin="round"/>
<polygon points="1460.1,354.1 1546.4,304.4 1546.4,310.9 1460.1,360.6" fill="#f4f4f5" stroke="#c6c6cb" stroke-width="0.6" stroke-linejoin="round"/>
<polygon points="1409.3,325.4 1460.1,354.1 1546.4,304.4 1495.6,275.7" fill="#fff" stroke="#c6c6cb" stroke-width="0.6" stroke-linejoin="round"/>
<polygon points="1414.8,325.4 1460.1,350.9 1540.9,304.4 1495.6,278.9" fill="#b9b9be" stroke="#c6c6cb" stroke-width="0.4" stroke-linejoin="round"/>
<polygon points="1420,328.4 1460.1,350.9 1535.7,307.4 1495.6,284.9" fill="#e8e8e9"/>
<polygon points="1500.5,313.5 1504.8,316 1504.8,310.5 1500.5,308" fill="#b9b9be" stroke="#c6c6cb" stroke-width="0.5" stroke-linejoin="round"/>
<polygon points="1504.8,316 1510.9,312.5 1510.9,307 1504.8,310.5" fill="#fff" stroke="#c6c6cb" stroke-width="0.5" stroke-linejoin="round"/>
<polygon points="1500.5,308 1504.8,310.5 1510.9,307 1506.6,304.5" fill="#fff" stroke="#c6c6cb" stroke-width="0.5" stroke-linejoin="round"/>
<polygon points="1526.9,286.8 1526.7,283.6 1526,280.3 1524.9,276.9 1523.4,273.6 1521.5,270.4 1519.4,267.4 1517,264.8 1514.5,262.6 1511.9,260.8 1509.3,259.6 1506.8,258.9 1504.4,258.8 1502.3,259.3 1500.4,260.4 1498.9,262 1497.8,264.1 1497.2,266.6 1496.9,269.5 1497.2,272.6 1497.8,275.9 1498.9,279.3 1500.4,282.6 1502.3,285.8 1504.4,288.8 1506.8,291.4 1509.3,293.6 1511.9,295.4 1514.5,296.6 1517,297.3 1519.4,297.4 1521.5,296.9 1523.4,295.8 1524.9,294.2 1526,292.1 1526.7,289.6" fill="#fff" stroke="#c6c6cb" stroke-width="0.6" stroke-linejoin="round"/>
<polygon points="1435.5,297.8 1501.3,259.8 1522.5,296.4 1456.7,334.4" fill="#fff"/>
<line x1="1435.5" y1="297.8" x2="1501.3" y2="259.8" stroke="#c6c6cb" stroke-width="0.6"/>
<line x1="1456.7" y1="334.4" x2="1522.5" y2="296.4" stroke="#c6c6cb" stroke-width="0.6"/>
<polygon points="1461.1,324.8 1460.9,321.6 1460.2,318.3 1459.1,314.9 1457.6,311.6 1455.7,308.4 1453.6,305.4 1451.2,302.8 1448.7,300.6 1446.1,298.8 1443.5,297.6 1441,296.9 1438.6,296.8 1436.5,297.3 1434.6,298.4 1433.1,300 1432,302.1 1431.3,304.6 1431.1,307.5 1431.3,310.6 1432,313.9 1433.1,317.3 1434.6,320.6 1436.5,323.8 1438.6,326.8 1441,329.4 1443.5,331.6 1446.1,333.4 1448.7,334.6 1451.2,335.3 1453.6,335.4 1455.7,334.9 1457.6,333.8 1459.1,332.2 1460.2,330.1 1460.9,327.6" fill="#ebebed" stroke="#c6c6cb" stroke-width="0.7" stroke-linejoin="round"/>
<polygon points="1456.6,321.6 1456.4,319.5 1456,317.4 1455.2,315.1 1454.3,312.9 1453,310.8 1451.6,308.9 1450.1,307.1 1448.4,305.7 1446.7,304.5 1445,303.7 1443.3,303.2 1441.8,303.2 1440.4,303.5 1439.1,304.2 1438.2,305.3 1437.4,306.6 1437,308.3 1436.8,310.2 1437,312.3 1437.4,314.4 1438.2,316.7 1439.1,318.9 1440.4,321 1441.8,322.9 1443.3,324.7 1445,326.1 1446.7,327.3 1448.4,328.1 1450.1,328.6 1451.6,328.6 1453,328.3 1454.3,327.6 1455.2,326.5 1456,325.2 1456.4,323.5" fill="#b9b9be" stroke="#a9a9af" stroke-width="0.5" stroke-linejoin="round"/>
<polygon points="1462.3,335.5 1466.6,338 1466.6,332.5 1462.3,330" fill="#b9b9be" stroke="#c6c6cb" stroke-width="0.5" stroke-linejoin="round"/>
<polygon points="1466.6,338 1472.7,334.5 1472.7,329 1466.6,332.5" fill="#fff" stroke="#c6c6cb" stroke-width="0.5" stroke-linejoin="round"/>
<polygon points="1462.3,330 1466.6,332.5 1472.7,329 1468.4,326.5" fill="#fff" stroke="#c6c6cb" stroke-width="0.5" stroke-linejoin="round"/>
<path d="M1460,279 L1460,282.4 A14,7.6 0 0 0 1488,282.4 L1488,279 Z" fill="#b9b9be" stroke="#c6c6cb" stroke-width="0.5" stroke-linejoin="round" stroke-linecap="round"/>
<path d="M1460,279 L1460,280.4 A14,7.6 0 0 0 1488,280.4 L1488,279 Z" fill="#fff" stroke="#c6c6cb" stroke-width="0.4" stroke-linejoin="round" stroke-linecap="round"/>
<ellipse cx="1474" cy="279" rx="14" ry="7.6" fill="#fff" stroke="#c6c6cb" stroke-width="0.6"/>
<path d="M1488.7,270.5 C1496.7,259.5 1520.8,261.3 1521.3,290.3" fill="none" stroke="#c6c6cb" stroke-width="0.6" stroke-linejoin="round" stroke-linecap="round"/>
<line x1="1513.4" y1="343" x2="1513.4" y2="351.5" stroke="#c4c4c9" stroke-width="0.8"/>
<line x1="1520.9" y1="343" x2="1520.9" y2="355" stroke="#c4c4c9" stroke-width="0.8"/>
<line x1="1528.4" y1="343" x2="1528.4" y2="351.5" stroke="#c4c4c9" stroke-width="0.8"/>
<path d="M1511.8,313 L1511.8,341 A9.1,8 0 0 0 1530,341 L1530,313 A9.1,8 0 0 0 1511.8,313 Z" fill="#fff" stroke="#c6c6cb" stroke-width="0.6" stroke-linejoin="round" stroke-linecap="round"/>
<path d="M1511.8,314 A9.1,4.5 0 0 0 1530,314" fill="none" stroke="#c6c6cb" stroke-width="0.5" stroke-linejoin="round" stroke-linecap="round"/>
<path d="M1472.5,276 L1475.5,272.5 L1521,298.5 L1521,308" fill="none" stroke="#c6c6cb" stroke-width="8.7" stroke-linejoin="round" stroke-linecap="round"/>
<path d="M1472.5,276 L1475.5,272.5 L1521,298.5 L1521,308" fill="none" stroke="#fff" stroke-width="7.6" stroke-linejoin="round" stroke-linecap="round"/>
<line x1="1320.6" y1="402.1" x2="1352.9" y2="385.1" stroke="#c9c9cd" stroke-width="0.5"/>
<line x1="1320.6" y1="404.3" x2="1352.9" y2="387.3" stroke="#c9c9cd" stroke-width="0.5"/>
<line x1="1352.9" y1="385.1" x2="1385.2" y2="402.1" stroke="#c9c9cd" stroke-width="0.5"/>
<line x1="1352.9" y1="387.3" x2="1385.2" y2="404.3" stroke="#c9c9cd" stroke-width="0.5"/>
<line x1="1320.6" y1="402.1" x2="1352.9" y2="419.1" stroke="#c9c9cd" stroke-width="0.5"/>
<line x1="1320.6" y1="404.3" x2="1352.9" y2="421.3" stroke="#c9c9cd" stroke-width="0.5"/>
<line x1="1352.9" y1="419.1" x2="1385.2" y2="402.1" stroke="#c9c9cd" stroke-width="0.5"/>
<line x1="1352.9" y1="421.3" x2="1385.2" y2="404.3" stroke="#c9c9cd" stroke-width="0.5"/>
<path d="M1318.7,377.7 L1318.7,425.5 Q1320.6,428 1322.6,425.5 L1322.6,377.7 Z" fill="#fff" stroke="#c9c9cd" stroke-width="0.6" stroke-linejoin="round" stroke-linecap="round"/>
<path d="M1383.2,377.7 L1383.2,425.5 Q1385.2,428 1387.2,425.5 L1387.2,377.7 Z" fill="#fff" stroke="#c9c9cd" stroke-width="0.6" stroke-linejoin="round" stroke-linecap="round"/>
<path d="M1328.4,386.1 A32,11.5 0 0 0 1377.4,386.1 L1352.9,396.6 Z" fill="#fff" stroke="#c9c9cd" stroke-width="0.6" stroke-linejoin="round" stroke-linecap="round"/>
<path d="M1320.9,341.8 L1320.9,378.7 A32,11.5 0 0 0 1384.9,378.7 L1384.9,341.8 A32,18.2 0 0 0 1320.9,341.8 Z" fill="#fff" stroke="#c9c9cd" stroke-width="0.6" stroke-linejoin="round" stroke-linecap="round"/>
<path d="M1349.7,394.1 L1349.7,442.5 Q1352.9,445 1356.2,442.5 L1356.2,394.1 Z" fill="#fff" stroke="#c9c9cd" stroke-width="0.6" stroke-linejoin="round" stroke-linecap="round"/>
<line x1="1352.9" y1="395.6" x2="1352.9" y2="442.5" stroke="#c9c9cd" stroke-width="0.4"/>
<ellipse cx="1352.9" cy="341.8" rx="32" ry="18.2" fill="#fff" stroke="#c9c9cd" stroke-width="0.6"/>
<ellipse cx="1352.9" cy="336.7" rx="21.8" ry="12.8" fill="#e8e8e9"/>
<ellipse cx="1352.9" cy="335.4" rx="11.5" ry="6.9" fill="#fff" stroke="#c9c9cd" stroke-width="0.4"/>
<ellipse cx="1352.9" cy="334.8" rx="8.6" ry="5.1" fill="#b9b9be"/>
<ellipse cx="1320.1" cy="355.4" rx="1.7" ry="2.5" fill="#fff" stroke="#bdbdc2" stroke-width="0.8" transform="rotate(25 1320.1 355.4)"/>
<polyline points="1321.1,361.9 1325.6,359.9 1323.1,363.4 1323.1,366.4" fill="none" stroke="#bdbdc2" stroke-width="0.8" stroke-linejoin="round" stroke-linecap="round"/>
<polygon points="1330.1,315.8 1335,309.2 1353.5,298.5 1372,309.2 1376.9,315.8 1363.3,332.3 1353.2,338.1 1343.1,332.3" fill="#fff" stroke="#c9c9cd" stroke-width="0.6" stroke-linejoin="round"/>
<polygon points="1335,309.2 1353.5,298.5 1372,309.2 1353.5,319.9" fill="#fff" stroke="#c9c9cd" stroke-width="0.5" stroke-linejoin="round"/>
<polygon points="1336.7,309.2 1353.5,299.5 1370.3,309.2 1353.5,318.9" fill="#b9b9be"/>
<polyline points="1330.1,315.8 1353.5,329.3 1376.9,315.8" fill="none" stroke="#c9c9cd" stroke-width="0.6" stroke-linejoin="round" stroke-linecap="round"/>
<polyline points="1353.5,319.9 1353.5,329.3 1353.2,338.1" fill="none" stroke="#c9c9cd" stroke-width="0.6" stroke-linejoin="round" stroke-linecap="round"/>
<polyline points="1345.9,313.6 1353.5,310.2 1361.1,313.6" fill="none" stroke="#aaaab0" stroke-width="0.4" stroke-linejoin="round" stroke-linecap="round"/>
<line x1="1353.5" y1="310.2" x2="1353.5" y2="318.9" stroke="#aaaab0" stroke-width="0.4"/>
<polyline points="1311,269 1319,273.5 1331,280.5 1331,340" fill="none" stroke="#c9c9cd" stroke-width="0.6" stroke-linejoin="round" stroke-linecap="round"/>
<polyline points="1313,266.5 1321,271 1333.5,278 1333.5,338" fill="none" stroke="#c9c9cd" stroke-width="0.6" stroke-linejoin="round" stroke-linecap="round"/>
<path d="M728.2,516.5 Q717.3,522.7 728.1,528.9 L891.7,622.5 Q902.5,628.7 913.4,622.6 L1141.8,492.9 Q1152.7,486.7 1141.9,480.5 L978.3,386.9 Q967.5,380.7 956.6,386.8 Z" fill="#b7b7bc" transform="translate(0,4)"/>
<path d="M728.2,516.5 Q717.3,522.7 728.1,528.9 L891.7,622.5 Q902.5,628.7 913.4,622.6 L1141.8,492.9 Q1152.7,486.7 1141.9,480.5 L978.3,386.9 Q967.5,380.7 956.6,386.8 Z" fill="#b7b7bc" transform="translate(0,2)"/>
<path d="M728.2,516.5 Q717.3,522.7 728.1,528.9 L891.7,622.5 Q902.5,628.7 913.4,622.6 L1141.8,492.9 Q1152.7,486.7 1141.9,480.5 L978.3,386.9 Q967.5,380.7 956.6,386.8 Z" fill="#fff"/>
<polygon points="976.8,374.5 988.5,366 1032.7,389 1032.7,494 988.5,520 976.8,513" fill="#fff" stroke="#cfcfd3" stroke-width="0.7" stroke-linejoin="round"/>
<polygon points="976.8,407.5 988.5,414.3 988.5,520 976.8,513" fill="#a0a1a5"/>
<polyline points="988.5,414.3 1032.7,389" fill="none" stroke="#cfcfd3" stroke-width="0.6" stroke-linejoin="round" stroke-linecap="round"/>
<polyline points="979.8,376.5 988.5,369.5 1029.7,390.5 991.5,411" fill="none" stroke="#cfcfd3" stroke-width="0.5" stroke-linejoin="round" stroke-linecap="round"/>
<line x1="988.5" y1="414.3" x2="988.5" y2="520" stroke="#cfcfd3" stroke-width="0.6"/>
<polygon points="991.9,414.1 1029.5,392.5 1029.5,434.2 991.9,455.8" fill="none" stroke="#a9bcf7" stroke-width="0.5" stroke-linejoin="round"/>
<polygon points="991.9,462.6 1029.5,441 1029.5,480.2 991.9,501.8" fill="none" stroke="#a9bcf7" stroke-width="0.5" stroke-linejoin="round"/>
<line x1="994" y1="454.5" x2="994" y2="461.3" stroke="#a9bcf7" stroke-width="0.5"/>
<line x1="997.4" y1="452.6" x2="997.4" y2="459.4" stroke="#a9bcf7" stroke-width="0.5"/>
<line x1="1000.8" y1="450.7" x2="1000.8" y2="457.5" stroke="#a9bcf7" stroke-width="0.5"/>
<line x1="1004.2" y1="448.7" x2="1004.2" y2="455.5" stroke="#a9bcf7" stroke-width="0.5"/>
<line x1="1007.6" y1="446.8" x2="1007.6" y2="453.6" stroke="#a9bcf7" stroke-width="0.5"/>
<line x1="1011" y1="444.8" x2="1011" y2="451.6" stroke="#a9bcf7" stroke-width="0.5"/>
<line x1="1014.4" y1="442.9" x2="1014.4" y2="449.7" stroke="#a9bcf7" stroke-width="0.5"/>
<line x1="1017.8" y1="440.9" x2="1017.8" y2="447.7" stroke="#a9bcf7" stroke-width="0.5"/>
<line x1="1021.2" y1="439" x2="1021.2" y2="445.8" stroke="#a9bcf7" stroke-width="0.5"/>
<line x1="1024.6" y1="437" x2="1024.6" y2="443.8" stroke="#a9bcf7" stroke-width="0.5"/>
<line x1="1028" y1="435.1" x2="1028" y2="441.9" stroke="#a9bcf7" stroke-width="0.5"/>
<line x1="993.5" y1="500.8" x2="993.5" y2="504.2" stroke="#a9bcf7" stroke-width="0.5"/>
<line x1="997.2" y1="498.7" x2="997.2" y2="502.1" stroke="#a9bcf7" stroke-width="0.5"/>
<line x1="1000.9" y1="496.6" x2="1000.9" y2="500" stroke="#a9bcf7" stroke-width="0.5"/>
<line x1="1004.6" y1="494.5" x2="1004.6" y2="497.9" stroke="#a9bcf7" stroke-width="0.5"/>
<line x1="1008.3" y1="492.4" x2="1008.3" y2="495.8" stroke="#a9bcf7" stroke-width="0.5"/>
<line x1="1012" y1="490.2" x2="1012" y2="493.6" stroke="#a9bcf7" stroke-width="0.5"/>
<line x1="1015.7" y1="488.1" x2="1015.7" y2="491.5" stroke="#a9bcf7" stroke-width="0.5"/>
<line x1="1019.4" y1="486" x2="1019.4" y2="489.4" stroke="#a9bcf7" stroke-width="0.5"/>
<line x1="1023.1" y1="483.9" x2="1023.1" y2="487.3" stroke="#a9bcf7" stroke-width="0.5"/>
<line x1="1026.8" y1="481.8" x2="1026.8" y2="485.2" stroke="#a9bcf7" stroke-width="0.5"/>
<polygon points="999.5,501.5 1024.5,487.2 1024.5,492.2 999.5,506.5" fill="#e9e9eb"/>
<polygon points="988.5,513.3 998.5,507.6 998.5,512.6 988.5,518.3" fill="#fff" stroke="#cfcfd3" stroke-width="0.4" stroke-linejoin="round"/>
<polygon points="1025.5,492.1 1032.5,488.1 1032.5,493.1 1025.5,497.1" fill="#fff" stroke="#cfcfd3" stroke-width="0.4" stroke-linejoin="round"/>
<polygon points="832.4,356.2 880.3,383 880.3,579.7 832.4,551.9" fill="#fff" stroke="#c9c9cd" stroke-width="0.7" stroke-linejoin="round"/>
<polygon points="895.2,383 976.6,336.4 976.6,533.1 895.2,579.7" fill="#fff" stroke="#c9c9cd" stroke-width="0.7" stroke-linejoin="round"/>
<path d="M880.3,385 L880.3,578.7 Q887.8,583.2 895.2,578.7 L895.2,385 Z" fill="#e5e5e8" stroke="#c9c9cd" stroke-width="0.6" stroke-linejoin="round" stroke-linecap="round"/>
<polygon points="835.9,370.1 879.8,394.7 879.8,406.4 835.9,381.8" fill="none" stroke="#d6d6d9" stroke-width="0.5" stroke-linejoin="round"/>
<polygon points="831.4,380.6 880.3,408 880.3,411.6 831.4,384.2" fill="#d5d5d9"/>
<line x1="831.4" y1="380.6" x2="880.3" y2="408" stroke="#c9c9cd" stroke-width="0.5"/>
<line x1="831.4" y1="386.4" x2="880.3" y2="413.8" stroke="#c9c9cd" stroke-width="0.5"/>
<path d="M880.3,409.9 Q885.3,414 895.2,410.7 L895.2,414.2 Q885.3,417.5 880.3,413.7 Z" fill="#fff" stroke="#c9c9cd" stroke-width="0.4" stroke-linejoin="round" stroke-linecap="round"/>
<polygon points="835.9,393.3 879.8,417.9 879.8,431 835.9,406.4" fill="none" stroke="#d6d6d9" stroke-width="0.5" stroke-linejoin="round"/>
<polygon points="831.4,405.2 880.3,432.6 880.3,436.2 831.4,408.8" fill="#d5d5d9"/>
<line x1="831.4" y1="405.2" x2="880.3" y2="432.6" stroke="#c9c9cd" stroke-width="0.5"/>
<line x1="831.4" y1="411" x2="880.3" y2="438.4" stroke="#c9c9cd" stroke-width="0.5"/>
<path d="M880.3,434.5 Q885.3,438.6 895.2,435.3 L895.2,438.8 Q885.3,442.1 880.3,438.3 Z" fill="#fff" stroke="#c9c9cd" stroke-width="0.4" stroke-linejoin="round" stroke-linecap="round"/>
<line x1="895.2" y1="435.2" x2="977.1" y2="388.3" stroke="#c9c9cd" stroke-width="0.5"/>
<line x1="895.2" y1="438.4" x2="977.1" y2="391.5" stroke="#c9c9cd" stroke-width="0.5"/>
<line x1="895.2" y1="442.3" x2="977.1" y2="395.4" stroke="#c9c9cd" stroke-width="0.5"/>
<polygon points="835.9,417.9 879.8,442.5 879.8,455.6 835.9,431" fill="none" stroke="#d6d6d9" stroke-width="0.5" stroke-linejoin="round"/>
<polygon points="831.4,429.8 880.3,457.2 880.3,460.8 831.4,433.4" fill="#d5d5d9"/>
<line x1="831.4" y1="429.8" x2="880.3" y2="457.2" stroke="#c9c9cd" stroke-width="0.5"/>
<line x1="831.4" y1="435.6" x2="880.3" y2="463" stroke="#c9c9cd" stroke-width="0.5"/>
<path d="M880.3,459.1 Q885.3,463.2 895.2,459.9 L895.2,463.4 Q885.3,466.7 880.3,462.9 Z" fill="#fff" stroke="#c9c9cd" stroke-width="0.4" stroke-linejoin="round" stroke-linecap="round"/>
<line x1="895.2" y1="459.8" x2="977.1" y2="412.9" stroke="#c9c9cd" stroke-width="0.5"/>
<line x1="895.2" y1="463" x2="977.1" y2="416.1" stroke="#c9c9cd" stroke-width="0.5"/>
<line x1="895.2" y1="466.9" x2="977.1" y2="420" stroke="#c9c9cd" stroke-width="0.5"/>
<line x1="895.2" y1="444.8" x2="970.6" y2="401.6" stroke="#d6d6d9" stroke-width="0.5"/>
<polygon points="835.9,442.5 879.8,467.1 879.8,480.2 835.9,455.6" fill="none" stroke="#d6d6d9" stroke-width="0.5" stroke-linejoin="round"/>
<polygon points="831.4,454.4 880.3,481.8 880.3,485.4 831.4,458" fill="#d5d5d9"/>
<line x1="831.4" y1="454.4" x2="880.3" y2="481.8" stroke="#c9c9cd" stroke-width="0.5"/>
<line x1="831.4" y1="460.2" x2="880.3" y2="487.6" stroke="#c9c9cd" stroke-width="0.5"/>
<path d="M880.3,483.7 Q885.3,487.8 895.2,484.5 L895.2,488 Q885.3,491.3 880.3,487.5 Z" fill="#fff" stroke="#c9c9cd" stroke-width="0.4" stroke-linejoin="round" stroke-linecap="round"/>
<line x1="895.2" y1="484.4" x2="977.1" y2="437.5" stroke="#c9c9cd" stroke-width="0.5"/>
<line x1="895.2" y1="487.6" x2="977.1" y2="440.7" stroke="#c9c9cd" stroke-width="0.5"/>
<line x1="895.2" y1="491.5" x2="977.1" y2="444.6" stroke="#c9c9cd" stroke-width="0.5"/>
<line x1="895.2" y1="469.4" x2="970.6" y2="426.2" stroke="#d6d6d9" stroke-width="0.5"/>
<polygon points="835.9,467.1 879.8,491.7 879.8,504.9 835.9,480.3" fill="none" stroke="#d6d6d9" stroke-width="0.5" stroke-linejoin="round"/>
<polygon points="831.4,479.1 880.3,506.5 880.3,510.1 831.4,482.7" fill="#d5d5d9"/>
<line x1="831.4" y1="479.1" x2="880.3" y2="506.5" stroke="#c9c9cd" stroke-width="0.5"/>
<line x1="831.4" y1="484.9" x2="880.3" y2="512.3" stroke="#c9c9cd" stroke-width="0.5"/>
<path d="M880.3,508.4 Q885.3,512.5 895.2,509.2 L895.2,512.7 Q885.3,516 880.3,512.2 Z" fill="#fff" stroke="#c9c9cd" stroke-width="0.4" stroke-linejoin="round" stroke-linecap="round"/>
<line x1="895.2" y1="509.1" x2="977.1" y2="462.2" stroke="#c9c9cd" stroke-width="0.5"/>
<line x1="895.2" y1="512.3" x2="977.1" y2="465.4" stroke="#c9c9cd" stroke-width="0.5"/>
<line x1="895.2" y1="516.2" x2="977.1" y2="469.3" stroke="#c9c9cd" stroke-width="0.5"/>
<line x1="895.2" y1="494" x2="970.6" y2="450.8" stroke="#d6d6d9" stroke-width="0.5"/>
<polygon points="835.9,491.8 879.8,516.4 879.8,529.5 835.9,504.9" fill="none" stroke="#d6d6d9" stroke-width="0.5" stroke-linejoin="round"/>
<polygon points="831.4,503.7 880.3,531.1 880.3,534.7 831.4,507.3" fill="#d5d5d9"/>
<line x1="831.4" y1="503.7" x2="880.3" y2="531.1" stroke="#c9c9cd" stroke-width="0.5"/>
<line x1="831.4" y1="509.5" x2="880.3" y2="536.9" stroke="#c9c9cd" stroke-width="0.5"/>
<path d="M880.3,533 Q885.3,537.1 895.2,533.8 L895.2,537.3 Q885.3,540.6 880.3,536.8 Z" fill="#fff" stroke="#c9c9cd" stroke-width="0.4" stroke-linejoin="round" stroke-linecap="round"/>
<line x1="895.2" y1="533.7" x2="977.1" y2="486.8" stroke="#c9c9cd" stroke-width="0.5"/>
<line x1="895.2" y1="536.9" x2="977.1" y2="490" stroke="#c9c9cd" stroke-width="0.5"/>
<line x1="895.2" y1="540.8" x2="977.1" y2="493.9" stroke="#c9c9cd" stroke-width="0.5"/>
<line x1="895.2" y1="518.7" x2="970.6" y2="475.5" stroke="#d6d6d9" stroke-width="0.5"/>
<polygon points="835.9,516.4 879.8,541 879.8,554.1 835.9,529.5" fill="none" stroke="#d6d6d9" stroke-width="0.5" stroke-linejoin="round"/>
<polygon points="831.4,528.3 880.3,555.7 880.3,559.3 831.4,531.9" fill="#d5d5d9"/>
<line x1="831.4" y1="528.3" x2="880.3" y2="555.7" stroke="#c9c9cd" stroke-width="0.5"/>
<line x1="831.4" y1="534.1" x2="880.3" y2="561.5" stroke="#c9c9cd" stroke-width="0.5"/>
<path d="M880.3,557.6 Q885.3,561.7 895.2,558.4 L895.2,561.9 Q885.3,565.2 880.3,561.4 Z" fill="#fff" stroke="#c9c9cd" stroke-width="0.4" stroke-linejoin="round" stroke-linecap="round"/>
<line x1="895.2" y1="558.3" x2="977.1" y2="511.4" stroke="#c9c9cd" stroke-width="0.5"/>
<line x1="895.2" y1="561.5" x2="977.1" y2="514.6" stroke="#c9c9cd" stroke-width="0.5"/>
<line x1="895.2" y1="565.4" x2="977.1" y2="518.5" stroke="#c9c9cd" stroke-width="0.5"/>
<line x1="895.2" y1="543.3" x2="970.6" y2="500.1" stroke="#d6d6d9" stroke-width="0.5"/>
<line x1="970.6" y1="345.8" x2="970.6" y2="536.5" stroke="#c9c9cd" stroke-width="0.6"/>
<line x1="974.4" y1="343.6" x2="974.4" y2="534.3" stroke="#d6d6d9" stroke-width="0.5"/>
<polygon points="899,563.8 913.5,555.5 913.5,566.5 899,574.8" fill="#fff" stroke="#c9c9cd" stroke-width="0.5" stroke-linejoin="round"/>
<line x1="914.4" y1="555" x2="914.4" y2="567" stroke="#d9d9dc" stroke-width="1.2"/>
<polygon points="915.5,554.4 930,546.1 930,557.1 915.5,565.4" fill="#fff" stroke="#c9c9cd" stroke-width="0.5" stroke-linejoin="round"/>
<line x1="930.9" y1="545.5" x2="930.9" y2="557.5" stroke="#d9d9dc" stroke-width="1.2"/>
<polygon points="932,544.9 947,536.3 947,547.3 932,555.9" fill="#fff" stroke="#c9c9cd" stroke-width="0.5" stroke-linejoin="round"/>
<line x1="947.9" y1="535.8" x2="947.9" y2="547.8" stroke="#d9d9dc" stroke-width="1.2"/>
<polygon points="949,535.2 964,526.6 964,537.6 949,546.2" fill="#fff" stroke="#c9c9cd" stroke-width="0.5" stroke-linejoin="round"/>
<line x1="964.9" y1="526.1" x2="964.9" y2="538.1" stroke="#d9d9dc" stroke-width="1.2"/>
<polygon points="836,541.2 850,549 850,562 836,554.2" fill="#fff" stroke="#d6d6d9" stroke-width="0.5" stroke-linejoin="round"/>
<polygon points="853,550.7 859,554.1 859,567.1 853,563.7" fill="#fff" stroke="#d6d6d9" stroke-width="0.5" stroke-linejoin="round"/>
<polygon points="861,555.2 879,565.3 879,578.3 861,568.2" fill="#fff" stroke="#d6d6d9" stroke-width="0.5" stroke-linejoin="round"/>
<path d="M835.7,348.6 Q831.4,351.1 835.7,353.6 L883,380.6 Q887.3,383.1 891.6,380.6 L973.7,332.1 Q978,329.6 973.7,327.1 L926.5,300.1 Q922.2,297.6 917.9,300.1 Z" fill="#fff" stroke="#9db2f7" stroke-width="0.5" transform="translate(0,5.2)"/>
<polygon points="831.4,352.1 831.4,356.3 834.4,357.8 834.4,352.1" fill="#fff"/>
<line x1="831.4" y1="351.6" x2="831.4" y2="356.8" stroke="#9db2f7" stroke-width="0.5"/>
<line x1="978" y1="330.1" x2="978" y2="335.3" stroke="#9db2f7" stroke-width="0.5"/>
<path d="M835.7,348.6 Q831.4,351.1 835.7,353.6 L883,380.6 Q887.3,383.1 891.6,380.6 L973.7,332.1 Q978,329.6 973.7,327.1 L926.5,300.1 Q922.2,297.6 917.9,300.1 Z" fill="#e2e7fd" stroke="#8fa7f6" stroke-width="0.7" stroke-linejoin="round" stroke-linecap="round"/>
<line x1="879.8" y1="380.9" x2="879.8" y2="386.1" stroke="#9db2f7" stroke-width="0.5"/>
<line x1="894.8" y1="380.9" x2="894.8" y2="386.1" stroke="#9db2f7" stroke-width="0.5"/>
<g filter="url(#noop)"><g transform="matrix(0.866,-0.496,0,1,0,0)">
<text x="1071.1" y="925.9" font-family="'Liberation Sans','Noto Sans CJK SC',sans-serif" font-weight="900" font-style="italic" font-size="9.4" fill="#3358ec" textLength="39.2" lengthAdjust="spacingAndGlyphs">尚太科技</text>
<text x="1071.4" y="932" font-family="'Liberation Sans',sans-serif" font-weight="700" font-style="italic" font-size="4.4" fill="#3358ec" textLength="40.5" lengthAdjust="spacingAndGlyphs">SHANGTAITECH</text>
</g></g>
<path d="M926.2,385.1 Q925.6,387 925,388 Q924.4,389.6 923.5,390.8 Q922.2,392.2 920.4,392.9 Q920.5,394.2 920.9,395.3 Q921.8,396.9 921.9,398.5 Q921.8,400.8 920.7,402.9 Q919.6,405 918,406.9 Q916.7,408.4 915.1,409.6 L908.1,414.8 L909,409.3 Q908.2,407.8 908.1,406.1 Q908.2,404.5 908.7,402.9 L909.3,399.8 L904.2,401.7 L906.2,398.6 L904.6,396.3 L909.9,394.1 L912.5,392.9 Q913,391.2 914.2,389.7 Q915.6,388.2 917.4,387.1 Q919.3,386.2 921.5,385.7 Z" fill="#3f63ea"/>
<path d="M921.2,386.6 C916.9,388.2 914.4,391 915.6,394.6" fill="none" stroke="#fff" stroke-width="1" stroke-linejoin="round" stroke-linecap="round"/>
<path d="M910.2,396.8 C911,400.4 913.1,402.2 916,400.8" fill="none" stroke="#fff" stroke-width="1" stroke-linejoin="round" stroke-linecap="round"/>
<g filter="url(#noop)"><text transform="matrix(1,-0.577,0,1,917,591)" font-family="'Liberation Sans',sans-serif" font-weight="700" font-style="italic" font-size="18.6" fill="#a4a4aa" textLength="183.5" stroke="#a4a4aa" stroke-width="0.35" lengthAdjust="spacingAndGlyphs">SHANGTAI TECHNOLOGY</text></g>
<path d="M1289.4,576.8 Q1278.6,583 1289.4,589.2 L1528.7,725.9 Q1539.6,732.1 1550.4,725.9 L1828.6,566.2 Q1839.4,560 1828.6,553.8 L1589.3,417.1 Q1578.4,410.9 1567.6,417.1 Z" fill="#b7b7bc" transform="translate(0,4)"/>
<path d="M1289.4,576.8 Q1278.6,583 1289.4,589.2 L1528.7,725.9 Q1539.6,732.1 1550.4,725.9 L1828.6,566.2 Q1839.4,560 1828.6,553.8 L1589.3,417.1 Q1578.4,410.9 1567.6,417.1 Z" fill="#b7b7bc" transform="translate(0,2)"/>
<path d="M1289.4,576.8 Q1278.6,583 1289.4,589.2 L1528.7,725.9 Q1539.6,732.1 1550.4,725.9 L1828.6,566.2 Q1839.4,560 1828.6,553.8 L1589.3,417.1 Q1578.4,410.9 1567.6,417.1 Z" fill="#fff"/>
<polygon points="1426.8,553.8 1655,423 1655,482.2 1426.8,613" fill="#b9b9be"/>
<polygon points="1456.8,560.6 1630.8,460.8 1630.8,478.3 1456.8,578.1" fill="#fff"/>
<polygon points="1337.9,503 1426.8,553.8 1655,423 1566,371.3" fill="#fff" stroke="#cdcdd1" stroke-width="0.6" stroke-linejoin="round"/>
<line x1="1355.7" y1="513.2" x2="1583.8" y2="381.6" stroke="#cdcdd1" stroke-width="0.5"/>
<line x1="1373.5" y1="523.3" x2="1601.6" y2="392" stroke="#cdcdd1" stroke-width="0.5"/>
<line x1="1391.2" y1="533.5" x2="1619.4" y2="402.3" stroke="#cdcdd1" stroke-width="0.5"/>
<line x1="1409" y1="543.6" x2="1637.2" y2="412.7" stroke="#cdcdd1" stroke-width="0.5"/>
<polygon points="1337.9,503 1426.8,553.8 1426.8,613 1337.9,562.2" fill="#fff" stroke="#cdcdd1" stroke-width="0.6" stroke-linejoin="round"/>
<line x1="1337.9" y1="557.6" x2="1426.8" y2="608.4" stroke="#d3d3d7" stroke-width="0.4"/>
<line x1="1337.9" y1="553.1" x2="1426.8" y2="603.9" stroke="#d3d3d7" stroke-width="0.4"/>
<line x1="1337.9" y1="548.5" x2="1426.8" y2="599.3" stroke="#d3d3d7" stroke-width="0.4"/>
<line x1="1337.9" y1="544" x2="1426.8" y2="594.8" stroke="#d3d3d7" stroke-width="0.4"/>
<line x1="1337.9" y1="539.4" x2="1426.8" y2="590.2" stroke="#d3d3d7" stroke-width="0.4"/>
<line x1="1337.9" y1="534.9" x2="1426.8" y2="585.7" stroke="#d3d3d7" stroke-width="0.4"/>
<line x1="1337.9" y1="530.3" x2="1426.8" y2="581.1" stroke="#d3d3d7" stroke-width="0.4"/>
<line x1="1337.9" y1="525.8" x2="1426.8" y2="576.6" stroke="#d3d3d7" stroke-width="0.4"/>
<line x1="1337.9" y1="521.2" x2="1426.8" y2="572" stroke="#d3d3d7" stroke-width="0.4"/>
<line x1="1337.9" y1="516.7" x2="1426.8" y2="567.5" stroke="#d3d3d7" stroke-width="0.4"/>
<line x1="1337.9" y1="512.1" x2="1426.8" y2="562.9" stroke="#d3d3d7" stroke-width="0.4"/>
<line x1="1337.9" y1="507.6" x2="1426.8" y2="558.4" stroke="#d3d3d7" stroke-width="0.4"/>
<line x1="1342.3" y1="564.7" x2="1342.3" y2="560.2" stroke="#d3d3d7" stroke-width="0.4"/>
<line x1="1349.7" y1="569" x2="1349.7" y2="564.4" stroke="#d3d3d7" stroke-width="0.4"/>
<line x1="1357.1" y1="573.2" x2="1357.1" y2="568.6" stroke="#d3d3d7" stroke-width="0.4"/>
<line x1="1364.5" y1="577.4" x2="1364.5" y2="572.9" stroke="#d3d3d7" stroke-width="0.4"/>
<line x1="1371.9" y1="581.7" x2="1371.9" y2="577.1" stroke="#d3d3d7" stroke-width="0.4"/>
<line x1="1379.3" y1="585.9" x2="1379.3" y2="581.3" stroke="#d3d3d7" stroke-width="0.4"/>
<line x1="1386.7" y1="590.1" x2="1386.7" y2="585.6" stroke="#d3d3d7" stroke-width="0.4"/>
<line x1="1394.1" y1="594.3" x2="1394.1" y2="589.8" stroke="#d3d3d7" stroke-width="0.4"/>
<line x1="1401.5" y1="598.6" x2="1401.5" y2="594" stroke="#d3d3d7" stroke-width="0.4"/>
<line x1="1408.9" y1="602.8" x2="1408.9" y2="598.2" stroke="#d3d3d7" stroke-width="0.4"/>
<line x1="1416.3" y1="607" x2="1416.3" y2="602.5" stroke="#d3d3d7" stroke-width="0.4"/>
<line x1="1423.7" y1="611.3" x2="1423.7" y2="606.7" stroke="#d3d3d7" stroke-width="0.4"/>
<line x1="1346" y1="562.3" x2="1346" y2="557.7" stroke="#d3d3d7" stroke-width="0.4"/>
<line x1="1353.4" y1="566.5" x2="1353.4" y2="562" stroke="#d3d3d7" stroke-width="0.4"/>
<line x1="1360.8" y1="570.8" x2="1360.8" y2="566.2" stroke="#d3d3d7" stroke-width="0.4"/>
<line x1="1368.2" y1="575" x2="1368.2" y2="570.4" stroke="#d3d3d7" stroke-width="0.4"/>
<line x1="1375.6" y1="579.2" x2="1375.6" y2="574.7" stroke="#d3d3d7" stroke-width="0.4"/>
<line x1="1383" y1="583.4" x2="1383" y2="578.9" stroke="#d3d3d7" stroke-width="0.4"/>
<line x1="1390.4" y1="587.7" x2="1390.4" y2="583.1" stroke="#d3d3d7" stroke-width="0.4"/>
<line x1="1397.8" y1="591.9" x2="1397.8" y2="587.3" stroke="#d3d3d7" stroke-width="0.4"/>
<line x1="1405.2" y1="596.1" x2="1405.2" y2="591.6" stroke="#d3d3d7" stroke-width="0.4"/>
<line x1="1412.6" y1="600.4" x2="1412.6" y2="595.8" stroke="#d3d3d7" stroke-width="0.4"/>
<line x1="1420" y1="604.6" x2="1420" y2="600" stroke="#d3d3d7" stroke-width="0.4"/>
<line x1="1342.3" y1="555.6" x2="1342.3" y2="551.1" stroke="#d3d3d7" stroke-width="0.4"/>
<line x1="1349.7" y1="559.9" x2="1349.7" y2="555.3" stroke="#d3d3d7" stroke-width="0.4"/>
<line x1="1357.1" y1="564.1" x2="1357.1" y2="559.5" stroke="#d3d3d7" stroke-width="0.4"/>
<line x1="1364.5" y1="568.3" x2="1364.5" y2="563.8" stroke="#d3d3d7" stroke-width="0.4"/>
<line x1="1371.9" y1="572.5" x2="1371.9" y2="568" stroke="#d3d3d7" stroke-width="0.4"/>
<line x1="1379.3" y1="576.8" x2="1379.3" y2="572.2" stroke="#d3d3d7" stroke-width="0.4"/>
<line x1="1386.7" y1="581" x2="1386.7" y2="576.4" stroke="#d3d3d7" stroke-width="0.4"/>
<line x1="1394.1" y1="585.2" x2="1394.1" y2="580.7" stroke="#d3d3d7" stroke-width="0.4"/>
<line x1="1401.5" y1="589.5" x2="1401.5" y2="584.9" stroke="#d3d3d7" stroke-width="0.4"/>
<line x1="1408.9" y1="593.7" x2="1408.9" y2="589.1" stroke="#d3d3d7" stroke-width="0.4"/>
<line x1="1416.3" y1="597.9" x2="1416.3" y2="593.4" stroke="#d3d3d7" stroke-width="0.4"/>
<line x1="1423.7" y1="602.1" x2="1423.7" y2="597.6" stroke="#d3d3d7" stroke-width="0.4"/>
<line x1="1346" y1="553.2" x2="1346" y2="548.6" stroke="#d3d3d7" stroke-width="0.4"/>
<line x1="1353.4" y1="557.4" x2="1353.4" y2="552.9" stroke="#d3d3d7" stroke-width="0.4"/>
<line x1="1360.8" y1="561.6" x2="1360.8" y2="557.1" stroke="#d3d3d7" stroke-width="0.4"/>
<line x1="1368.2" y1="565.9" x2="1368.2" y2="561.3" stroke="#d3d3d7" stroke-width="0.4"/>
<line x1="1375.6" y1="570.1" x2="1375.6" y2="565.6" stroke="#d3d3d7" stroke-width="0.4"/>
<line x1="1383" y1="574.3" x2="1383" y2="569.8" stroke="#d3d3d7" stroke-width="0.4"/>
<line x1="1390.4" y1="578.6" x2="1390.4" y2="574" stroke="#d3d3d7" stroke-width="0.4"/>
<line x1="1397.8" y1="582.8" x2="1397.8" y2="578.2" stroke="#d3d3d7" stroke-width="0.4"/>
<line x1="1405.2" y1="587" x2="1405.2" y2="582.5" stroke="#d3d3d7" stroke-width="0.4"/>
<line x1="1412.6" y1="591.2" x2="1412.6" y2="586.7" stroke="#d3d3d7" stroke-width="0.4"/>
<line x1="1420" y1="595.5" x2="1420" y2="590.9" stroke="#d3d3d7" stroke-width="0.4"/>
<line x1="1342.3" y1="546.5" x2="1342.3" y2="542" stroke="#d3d3d7" stroke-width="0.4"/>
<line x1="1349.7" y1="550.8" x2="1349.7" y2="546.2" stroke="#d3d3d7" stroke-width="0.4"/>
<line x1="1357.1" y1="555" x2="1357.1" y2="550.4" stroke="#d3d3d7" stroke-width="0.4"/>
<line x1="1364.5" y1="559.2" x2="1364.5" y2="554.7" stroke="#d3d3d7" stroke-width="0.4"/>
<line x1="1371.9" y1="563.4" x2="1371.9" y2="558.9" stroke="#d3d3d7" stroke-width="0.4"/>
<line x1="1379.3" y1="567.7" x2="1379.3" y2="563.1" stroke="#d3d3d7" stroke-width="0.4"/>
<line x1="1386.7" y1="571.9" x2="1386.7" y2="567.3" stroke="#d3d3d7" stroke-width="0.4"/>
<line x1="1394.1" y1="576.1" x2="1394.1" y2="571.6" stroke="#d3d3d7" stroke-width="0.4"/>
<line x1="1401.5" y1="580.4" x2="1401.5" y2="575.8" stroke="#d3d3d7" stroke-width="0.4"/>
<line x1="1408.9" y1="584.6" x2="1408.9" y2="580" stroke="#d3d3d7" stroke-width="0.4"/>
<line x1="1416.3" y1="588.8" x2="1416.3" y2="584.3" stroke="#d3d3d7" stroke-width="0.4"/>
<line x1="1423.7" y1="593" x2="1423.7" y2="588.5" stroke="#d3d3d7" stroke-width="0.4"/>
<line x1="1346" y1="544.1" x2="1346" y2="539.5" stroke="#d3d3d7" stroke-width="0.4"/>
<line x1="1353.4" y1="548.3" x2="1353.4" y2="543.8" stroke="#d3d3d7" stroke-width="0.4"/>
<line x1="1360.8" y1="552.5" x2="1360.8" y2="548" stroke="#d3d3d7" stroke-width="0.4"/>
<line x1="1368.2" y1="556.8" x2="1368.2" y2="552.2" stroke="#d3d3d7" stroke-width="0.4"/>
<line x1="1375.6" y1="561" x2="1375.6" y2="556.4" stroke="#d3d3d7" stroke-width="0.4"/>
<line x1="1383" y1="565.2" x2="1383" y2="560.7" stroke="#d3d3d7" stroke-width="0.4"/>
<line x1="1390.4" y1="569.5" x2="1390.4" y2="564.9" stroke="#d3d3d7" stroke-width="0.4"/>
<line x1="1397.8" y1="573.7" x2="1397.8" y2="569.1" stroke="#d3d3d7" stroke-width="0.4"/>
<line x1="1405.2" y1="577.9" x2="1405.2" y2="573.4" stroke="#d3d3d7" stroke-width="0.4"/>
<line x1="1412.6" y1="582.1" x2="1412.6" y2="577.6" stroke="#d3d3d7" stroke-width="0.4"/>
<line x1="1420" y1="586.4" x2="1420" y2="581.8" stroke="#d3d3d7" stroke-width="0.4"/>
<line x1="1342.3" y1="537.4" x2="1342.3" y2="532.9" stroke="#d3d3d7" stroke-width="0.4"/>
<line x1="1349.7" y1="541.6" x2="1349.7" y2="537.1" stroke="#d3d3d7" stroke-width="0.4"/>
<line x1="1357.1" y1="545.9" x2="1357.1" y2="541.3" stroke="#d3d3d7" stroke-width="0.4"/>
<line x1="1364.5" y1="550.1" x2="1364.5" y2="545.5" stroke="#d3d3d7" stroke-width="0.4"/>
<line x1="1371.9" y1="554.3" x2="1371.9" y2="549.8" stroke="#d3d3d7" stroke-width="0.4"/>
<line x1="1379.3" y1="558.6" x2="1379.3" y2="554" stroke="#d3d3d7" stroke-width="0.4"/>
<line x1="1386.7" y1="562.8" x2="1386.7" y2="558.2" stroke="#d3d3d7" stroke-width="0.4"/>
<line x1="1394.1" y1="567" x2="1394.1" y2="562.5" stroke="#d3d3d7" stroke-width="0.4"/>
<line x1="1401.5" y1="571.2" x2="1401.5" y2="566.7" stroke="#d3d3d7" stroke-width="0.4"/>
<line x1="1408.9" y1="575.5" x2="1408.9" y2="570.9" stroke="#d3d3d7" stroke-width="0.4"/>
<line x1="1416.3" y1="579.7" x2="1416.3" y2="575.1" stroke="#d3d3d7" stroke-width="0.4"/>
<line x1="1423.7" y1="583.9" x2="1423.7" y2="579.4" stroke="#d3d3d7" stroke-width="0.4"/>
<line x1="1346" y1="535" x2="1346" y2="530.4" stroke="#d3d3d7" stroke-width="0.4"/>
<line x1="1353.4" y1="539.2" x2="1353.4" y2="534.6" stroke="#d3d3d7" stroke-width="0.4"/>
<line x1="1360.8" y1="543.4" x2="1360.8" y2="538.9" stroke="#d3d3d7" stroke-width="0.4"/>
<line x1="1368.2" y1="547.7" x2="1368.2" y2="543.1" stroke="#d3d3d7" stroke-width="0.4"/>
<line x1="1375.6" y1="551.9" x2="1375.6" y2="547.3" stroke="#d3d3d7" stroke-width="0.4"/>
<line x1="1383" y1="556.1" x2="1383" y2="551.6" stroke="#d3d3d7" stroke-width="0.4"/>
<line x1="1390.4" y1="560.3" x2="1390.4" y2="555.8" stroke="#d3d3d7" stroke-width="0.4"/>
<line x1="1397.8" y1="564.6" x2="1397.8" y2="560" stroke="#d3d3d7" stroke-width="0.4"/>
<line x1="1405.2" y1="568.8" x2="1405.2" y2="564.2" stroke="#d3d3d7" stroke-width="0.4"/>
<line x1="1412.6" y1="573" x2="1412.6" y2="568.5" stroke="#d3d3d7" stroke-width="0.4"/>
<line x1="1420" y1="577.3" x2="1420" y2="572.7" stroke="#d3d3d7" stroke-width="0.4"/>
<line x1="1342.3" y1="528.3" x2="1342.3" y2="523.8" stroke="#d3d3d7" stroke-width="0.4"/>
<line x1="1349.7" y1="532.5" x2="1349.7" y2="528" stroke="#d3d3d7" stroke-width="0.4"/>
<line x1="1357.1" y1="536.8" x2="1357.1" y2="532.2" stroke="#d3d3d7" stroke-width="0.4"/>
<line x1="1364.5" y1="541" x2="1364.5" y2="536.4" stroke="#d3d3d7" stroke-width="0.4"/>
<line x1="1371.9" y1="545.2" x2="1371.9" y2="540.7" stroke="#d3d3d7" stroke-width="0.4"/>
<line x1="1379.3" y1="549.4" x2="1379.3" y2="544.9" stroke="#d3d3d7" stroke-width="0.4"/>
<line x1="1386.7" y1="553.7" x2="1386.7" y2="549.1" stroke="#d3d3d7" stroke-width="0.4"/>
<line x1="1394.1" y1="557.9" x2="1394.1" y2="553.4" stroke="#d3d3d7" stroke-width="0.4"/>
<line x1="1401.5" y1="562.1" x2="1401.5" y2="557.6" stroke="#d3d3d7" stroke-width="0.4"/>
<line x1="1408.9" y1="566.4" x2="1408.9" y2="561.8" stroke="#d3d3d7" stroke-width="0.4"/>
<line x1="1416.3" y1="570.6" x2="1416.3" y2="566" stroke="#d3d3d7" stroke-width="0.4"/>
<line x1="1423.7" y1="574.8" x2="1423.7" y2="570.3" stroke="#d3d3d7" stroke-width="0.4"/>
<line x1="1346" y1="525.9" x2="1346" y2="521.3" stroke="#d3d3d7" stroke-width="0.4"/>
<line x1="1353.4" y1="530.1" x2="1353.4" y2="525.5" stroke="#d3d3d7" stroke-width="0.4"/>
<line x1="1360.8" y1="534.3" x2="1360.8" y2="529.8" stroke="#d3d3d7" stroke-width="0.4"/>
<line x1="1368.2" y1="538.6" x2="1368.2" y2="534" stroke="#d3d3d7" stroke-width="0.4"/>
<line x1="1375.6" y1="542.8" x2="1375.6" y2="538.2" stroke="#d3d3d7" stroke-width="0.4"/>
<line x1="1383" y1="547" x2="1383" y2="542.5" stroke="#d3d3d7" stroke-width="0.4"/>
<line x1="1390.4" y1="551.2" x2="1390.4" y2="546.7" stroke="#d3d3d7" stroke-width="0.4"/>
<line x1="1397.8" y1="555.5" x2="1397.8" y2="550.9" stroke="#d3d3d7" stroke-width="0.4"/>
<line x1="1405.2" y1="559.7" x2="1405.2" y2="555.1" stroke="#d3d3d7" stroke-width="0.4"/>
<line x1="1412.6" y1="563.9" x2="1412.6" y2="559.4" stroke="#d3d3d7" stroke-width="0.4"/>
<line x1="1420" y1="568.2" x2="1420" y2="563.6" stroke="#d3d3d7" stroke-width="0.4"/>
<line x1="1342.3" y1="519.2" x2="1342.3" y2="514.6" stroke="#d3d3d7" stroke-width="0.4"/>
<line x1="1349.7" y1="523.4" x2="1349.7" y2="518.9" stroke="#d3d3d7" stroke-width="0.4"/>
<line x1="1357.1" y1="527.7" x2="1357.1" y2="523.1" stroke="#d3d3d7" stroke-width="0.4"/>
<line x1="1364.5" y1="531.9" x2="1364.5" y2="527.3" stroke="#d3d3d7" stroke-width="0.4"/>
<line x1="1371.9" y1="536.1" x2="1371.9" y2="531.6" stroke="#d3d3d7" stroke-width="0.4"/>
<line x1="1379.3" y1="540.3" x2="1379.3" y2="535.8" stroke="#d3d3d7" stroke-width="0.4"/>
<line x1="1386.7" y1="544.6" x2="1386.7" y2="540" stroke="#d3d3d7" stroke-width="0.4"/>
<line x1="1394.1" y1="548.8" x2="1394.1" y2="544.2" stroke="#d3d3d7" stroke-width="0.4"/>
<line x1="1401.5" y1="553" x2="1401.5" y2="548.5" stroke="#d3d3d7" stroke-width="0.4"/>
<line x1="1408.9" y1="557.3" x2="1408.9" y2="552.7" stroke="#d3d3d7" stroke-width="0.4"/>
<line x1="1416.3" y1="561.5" x2="1416.3" y2="556.9" stroke="#d3d3d7" stroke-width="0.4"/>
<line x1="1423.7" y1="565.7" x2="1423.7" y2="561.2" stroke="#d3d3d7" stroke-width="0.4"/>
<line x1="1346" y1="516.8" x2="1346" y2="512.2" stroke="#d3d3d7" stroke-width="0.4"/>
<line x1="1353.4" y1="521" x2="1353.4" y2="516.4" stroke="#d3d3d7" stroke-width="0.4"/>
<line x1="1360.8" y1="525.2" x2="1360.8" y2="520.7" stroke="#d3d3d7" stroke-width="0.4"/>
<line x1="1368.2" y1="529.4" x2="1368.2" y2="524.9" stroke="#d3d3d7" stroke-width="0.4"/>
<line x1="1375.6" y1="533.7" x2="1375.6" y2="529.1" stroke="#d3d3d7" stroke-width="0.4"/>
<line x1="1383" y1="537.9" x2="1383" y2="533.3" stroke="#d3d3d7" stroke-width="0.4"/>
<line x1="1390.4" y1="542.1" x2="1390.4" y2="537.6" stroke="#d3d3d7" stroke-width="0.4"/>
<line x1="1397.8" y1="546.4" x2="1397.8" y2="541.8" stroke="#d3d3d7" stroke-width="0.4"/>
<line x1="1405.2" y1="550.6" x2="1405.2" y2="546" stroke="#d3d3d7" stroke-width="0.4"/>
<line x1="1412.6" y1="554.8" x2="1412.6" y2="550.3" stroke="#d3d3d7" stroke-width="0.4"/>
<line x1="1420" y1="559" x2="1420" y2="554.5" stroke="#d3d3d7" stroke-width="0.4"/>
<line x1="1342.3" y1="510.1" x2="1342.3" y2="505.5" stroke="#d3d3d7" stroke-width="0.4"/>
<line x1="1349.7" y1="514.3" x2="1349.7" y2="509.8" stroke="#d3d3d7" stroke-width="0.4"/>
<line x1="1357.1" y1="518.5" x2="1357.1" y2="514" stroke="#d3d3d7" stroke-width="0.4"/>
<line x1="1364.5" y1="522.8" x2="1364.5" y2="518.2" stroke="#d3d3d7" stroke-width="0.4"/>
<line x1="1371.9" y1="527" x2="1371.9" y2="522.5" stroke="#d3d3d7" stroke-width="0.4"/>
<line x1="1379.3" y1="531.2" x2="1379.3" y2="526.7" stroke="#d3d3d7" stroke-width="0.4"/>
<line x1="1386.7" y1="535.5" x2="1386.7" y2="530.9" stroke="#d3d3d7" stroke-width="0.4"/>
<line x1="1394.1" y1="539.7" x2="1394.1" y2="535.1" stroke="#d3d3d7" stroke-width="0.4"/>
<line x1="1401.5" y1="543.9" x2="1401.5" y2="539.4" stroke="#d3d3d7" stroke-width="0.4"/>
<line x1="1408.9" y1="548.1" x2="1408.9" y2="543.6" stroke="#d3d3d7" stroke-width="0.4"/>
<line x1="1416.3" y1="552.4" x2="1416.3" y2="547.8" stroke="#d3d3d7" stroke-width="0.4"/>
<line x1="1423.7" y1="556.6" x2="1423.7" y2="552.1" stroke="#d3d3d7" stroke-width="0.4"/>
<polygon points="1352.3,570.4 1352.3,552.2 1352.5,547.5 1353.3,543.3 1354.7,539.5 1356.6,536.2 1358.9,533.5 1361.6,531.5 1364.8,530.1 1368.3,529.4 1372,529.5 1376,530.2 1380.1,531.6 1384.3,533.7 1388.5,536.4 1392.6,539.8 1396.6,543.6 1400.3,547.9 1403.8,552.6 1407,557.6 1409.7,562.9 1412,568.2 1413.9,573.6 1415.3,579 1416.1,584.2 1416.3,589.2 1416.3,607" fill="#fff" stroke="#cdcdd1" stroke-width="0.6" stroke-linejoin="round"/>
<line x1="1352.5" y1="547.5" x2="1360.5" y2="553.4" stroke="#d3d3d7" stroke-width="0.4"/>
<line x1="1354.7" y1="539.5" x2="1362.1" y2="547.3" stroke="#d3d3d7" stroke-width="0.4"/>
<line x1="1358.9" y1="533.5" x2="1365.3" y2="542.9" stroke="#d3d3d7" stroke-width="0.4"/>
<line x1="1364.8" y1="530.1" x2="1369.7" y2="540.3" stroke="#d3d3d7" stroke-width="0.4"/>
<line x1="1372" y1="529.5" x2="1375.1" y2="539.8" stroke="#d3d3d7" stroke-width="0.4"/>
<line x1="1380.1" y1="531.6" x2="1381.2" y2="541.4" stroke="#d3d3d7" stroke-width="0.4"/>
<line x1="1388.5" y1="536.4" x2="1387.4" y2="545.1" stroke="#d3d3d7" stroke-width="0.4"/>
<line x1="1396.6" y1="543.6" x2="1393.5" y2="550.4" stroke="#d3d3d7" stroke-width="0.4"/>
<line x1="1403.8" y1="552.6" x2="1398.9" y2="557.2" stroke="#d3d3d7" stroke-width="0.4"/>
<line x1="1409.7" y1="562.9" x2="1403.3" y2="564.8" stroke="#d3d3d7" stroke-width="0.4"/>
<line x1="1413.9" y1="573.6" x2="1406.5" y2="572.9" stroke="#d3d3d7" stroke-width="0.4"/>
<line x1="1416.1" y1="584.2" x2="1408.1" y2="580.8" stroke="#d3d3d7" stroke-width="0.4"/>
<line x1="1352.3" y1="566.4" x2="1360.3" y2="571" stroke="#d3d3d7" stroke-width="0.4"/>
<line x1="1416.3" y1="603" x2="1408.3" y2="598.4" stroke="#d3d3d7" stroke-width="0.4"/>
<line x1="1352.3" y1="561.9" x2="1360.3" y2="566.5" stroke="#d3d3d7" stroke-width="0.4"/>
<line x1="1416.3" y1="598.5" x2="1408.3" y2="593.9" stroke="#d3d3d7" stroke-width="0.4"/>
<line x1="1352.3" y1="557.4" x2="1360.3" y2="562" stroke="#d3d3d7" stroke-width="0.4"/>
<line x1="1416.3" y1="594" x2="1408.3" y2="589.4" stroke="#d3d3d7" stroke-width="0.4"/>
<line x1="1352.3" y1="552.9" x2="1360.3" y2="557.5" stroke="#d3d3d7" stroke-width="0.4"/>
<line x1="1416.3" y1="589.5" x2="1408.3" y2="584.9" stroke="#d3d3d7" stroke-width="0.4"/>
<polygon points="1360.3,575 1360.3,556.9 1360.5,553.4 1361.1,550.2 1362.1,547.3 1363.5,544.9 1365.3,542.9 1367.3,541.3 1369.7,540.3 1372.3,539.8 1375.1,539.8 1378.1,540.4 1381.2,541.4 1384.3,543 1387.4,545.1 1390.5,547.5 1393.5,550.4 1396.3,553.7 1398.9,557.2 1401.3,560.9 1403.3,564.8 1405.1,568.9 1406.5,572.9 1407.5,576.9 1408.1,580.8 1408.3,584.6 1408.3,602.4" fill="#fff" stroke="#cdcdd1" stroke-width="0.6" stroke-linejoin="round"/>
<clipPath id="kc0"><polygon points="1360.3,575 1360.3,556.9 1360.5,553.4 1361.1,550.2 1362.1,547.3 1363.5,544.9 1365.3,542.9 1367.3,541.3 1369.7,540.3 1372.3,539.8 1375.1,539.8 1378.1,540.4 1381.2,541.4 1384.3,543 1387.4,545.1 1390.5,547.5 1393.5,550.4 1396.3,553.7 1398.9,557.2 1401.3,560.9 1403.3,564.8 1405.1,568.9 1406.5,572.9 1407.5,576.9 1408.1,580.8 1408.3,584.6 1408.3,602.4"/></clipPath>
<g clip-path="url(#kc0)">
<polygon points="1360.3,575 1360.3,556.9 1360.5,553.4 1361.1,550.2 1362.1,547.3 1363.5,544.9 1365.3,542.9 1367.3,541.3 1369.7,540.3 1372.3,539.8 1375.1,539.8 1378.1,540.4 1381.2,541.4 1384.3,543 1387.4,545.1 1393.4,541.7 1390.3,539.6 1387.2,538 1384.1,537 1381.1,536.4 1378.3,536.4 1375.7,536.9 1373.3,537.9 1371.3,539.5 1369.5,541.5 1368.1,543.9 1367.1,546.8 1366.5,550 1366.3,553.5 1366.3,571.6" fill="#ececee"/>
<path d="M1375.6,547.4 L1375.6,569.9 A6,3.4 0 0 0 1387.6,569.9 L1387.6,547.4 Z" fill="#a0a1a5"/>
<ellipse cx="1381.6" cy="547.4" rx="6" ry="3.4" fill="#a6a7ab"/>
<ellipse cx="1381.6" cy="547.4" rx="2.6" ry="1.5" fill="none" stroke="#e6e6e8" stroke-width="0.6"/>
<path d="M1385.2,552.7 L1385.2,575.2 A6,3.4 0 0 0 1397.2,575.2 L1397.2,552.7 Z" fill="#a0a1a5"/>
<ellipse cx="1391.2" cy="552.7" rx="6" ry="3.4" fill="#a6a7ab"/>
<ellipse cx="1391.2" cy="552.7" rx="2.6" ry="1.5" fill="none" stroke="#e6e6e8" stroke-width="0.6"/>
<path d="M1366,553.8 L1366,576.3 A6,3.4 0 0 0 1378,576.3 L1378,553.8 Z" fill="#a0a1a5"/>
<ellipse cx="1372" cy="553.8" rx="6" ry="3.4" fill="#a6a7ab"/>
<ellipse cx="1372" cy="553.8" rx="2.6" ry="1.5" fill="none" stroke="#e6e6e8" stroke-width="0.6"/>
<path d="M1377,559.5 L1377,582 A6,3.4 0 0 0 1389,582 L1389,559.5 Z" fill="#a0a1a5"/>
<ellipse cx="1383" cy="559.5" rx="6" ry="3.4" fill="#a6a7ab"/>
<ellipse cx="1383" cy="559.5" rx="2.6" ry="1.5" fill="none" stroke="#e6e6e8" stroke-width="0.6"/>
<path d="M1387.3,564.9 L1387.3,587.4 A6,3.4 0 0 0 1399.3,587.4 L1399.3,564.9 Z" fill="#a0a1a5"/>
<ellipse cx="1393.3" cy="564.9" rx="6" ry="3.4" fill="#a6a7ab"/>
<ellipse cx="1393.3" cy="564.9" rx="2.6" ry="1.5" fill="none" stroke="#e6e6e8" stroke-width="0.6"/>
<path d="M1396.3,565.5 L1396.3,588 A6,3.4 0 0 0 1408.3,588 L1408.3,565.5 Z" fill="#a0a1a5"/>
<ellipse cx="1402.3" cy="565.5" rx="6" ry="3.4" fill="#a6a7ab"/>
<ellipse cx="1402.3" cy="565.5" rx="2.6" ry="1.5" fill="none" stroke="#e6e6e8" stroke-width="0.6"/>
<path d="M1398.5,572.5 L1398.5,595 A6,3.4 0 0 0 1410.5,595 L1410.5,572.5 Z" fill="#a0a1a5"/>
<ellipse cx="1404.5" cy="572.5" rx="6" ry="3.4" fill="#a6a7ab"/>
<ellipse cx="1404.5" cy="572.5" rx="2.6" ry="1.5" fill="none" stroke="#e6e6e8" stroke-width="0.6"/>
</g>
<polygon points="1360.3,575 1360.3,556.9 1360.5,553.4 1361.1,550.2 1362.1,547.3 1363.5,544.9 1365.3,542.9 1367.3,541.3 1369.7,540.3 1372.3,539.8 1375.1,539.8 1378.1,540.4 1381.2,541.4 1384.3,543 1387.4,545.1 1390.5,547.5 1393.5,550.4 1396.3,553.7 1398.9,557.2 1401.3,560.9 1403.3,564.8 1405.1,568.9 1406.5,572.9 1407.5,576.9 1408.1,580.8 1408.3,584.6 1408.3,602.4" fill="none" stroke="#cdcdd1" stroke-width="0.6" stroke-linejoin="round"/>
<polygon points="1545.6,632.8 1773.8,502 1773.8,561.2 1545.6,692" fill="#b9b9be"/>
<polygon points="1575.6,639.6 1749.6,539.8 1749.6,557.3 1575.6,657.1" fill="#fff"/>
<polygon points="1456.7,582 1545.6,632.8 1773.8,502 1684.8,450.3" fill="#fff" stroke="#cdcdd1" stroke-width="0.6" stroke-linejoin="round"/>
<line x1="1474.5" y1="592.2" x2="1702.6" y2="460.6" stroke="#cdcdd1" stroke-width="0.5"/>
<line x1="1492.3" y1="602.3" x2="1720.4" y2="471" stroke="#cdcdd1" stroke-width="0.5"/>
<line x1="1510" y1="612.5" x2="1738.2" y2="481.3" stroke="#cdcdd1" stroke-width="0.5"/>
<line x1="1527.8" y1="622.6" x2="1756" y2="491.7" stroke="#cdcdd1" stroke-width="0.5"/>
<polygon points="1456.7,582 1545.6,632.8 1545.6,692 1456.7,641.2" fill="#fff" stroke="#cdcdd1" stroke-width="0.6" stroke-linejoin="round"/>
<line x1="1456.7" y1="636.6" x2="1545.6" y2="687.4" stroke="#d3d3d7" stroke-width="0.4"/>
<line x1="1456.7" y1="632.1" x2="1545.6" y2="682.9" stroke="#d3d3d7" stroke-width="0.4"/>
<line x1="1456.7" y1="627.5" x2="1545.6" y2="678.3" stroke="#d3d3d7" stroke-width="0.4"/>
<line x1="1456.7" y1="623" x2="1545.6" y2="673.8" stroke="#d3d3d7" stroke-width="0.4"/>
<line x1="1456.7" y1="618.4" x2="1545.6" y2="669.2" stroke="#d3d3d7" stroke-width="0.4"/>
<line x1="1456.7" y1="613.9" x2="1545.6" y2="664.7" stroke="#d3d3d7" stroke-width="0.4"/>
<line x1="1456.7" y1="609.3" x2="1545.6" y2="660.1" stroke="#d3d3d7" stroke-width="0.4"/>
<line x1="1456.7" y1="604.8" x2="1545.6" y2="655.6" stroke="#d3d3d7" stroke-width="0.4"/>
<line x1="1456.7" y1="600.2" x2="1545.6" y2="651" stroke="#d3d3d7" stroke-width="0.4"/>
<line x1="1456.7" y1="595.7" x2="1545.6" y2="646.5" stroke="#d3d3d7" stroke-width="0.4"/>
<line x1="1456.7" y1="591.1" x2="1545.6" y2="641.9" stroke="#d3d3d7" stroke-width="0.4"/>
<line x1="1456.7" y1="586.6" x2="1545.6" y2="637.4" stroke="#d3d3d7" stroke-width="0.4"/>
<line x1="1461.1" y1="643.7" x2="1461.1" y2="639.2" stroke="#d3d3d7" stroke-width="0.4"/>
<line x1="1468.5" y1="648" x2="1468.5" y2="643.4" stroke="#d3d3d7" stroke-width="0.4"/>
<line x1="1475.9" y1="652.2" x2="1475.9" y2="647.6" stroke="#d3d3d7" stroke-width="0.4"/>
<line x1="1483.3" y1="656.4" x2="1483.3" y2="651.9" stroke="#d3d3d7" stroke-width="0.4"/>
<line x1="1490.7" y1="660.7" x2="1490.7" y2="656.1" stroke="#d3d3d7" stroke-width="0.4"/>
<line x1="1498.1" y1="664.9" x2="1498.1" y2="660.3" stroke="#d3d3d7" stroke-width="0.4"/>
<line x1="1505.5" y1="669.1" x2="1505.5" y2="664.6" stroke="#d3d3d7" stroke-width="0.4"/>
<line x1="1512.9" y1="673.3" x2="1512.9" y2="668.8" stroke="#d3d3d7" stroke-width="0.4"/>
<line x1="1520.3" y1="677.6" x2="1520.3" y2="673" stroke="#d3d3d7" stroke-width="0.4"/>
<line x1="1527.7" y1="681.8" x2="1527.7" y2="677.2" stroke="#d3d3d7" stroke-width="0.4"/>
<line x1="1535.1" y1="686" x2="1535.1" y2="681.5" stroke="#d3d3d7" stroke-width="0.4"/>
<line x1="1542.5" y1="690.3" x2="1542.5" y2="685.7" stroke="#d3d3d7" stroke-width="0.4"/>
<line x1="1464.8" y1="641.3" x2="1464.8" y2="636.7" stroke="#d3d3d7" stroke-width="0.4"/>
<line x1="1472.2" y1="645.5" x2="1472.2" y2="641" stroke="#d3d3d7" stroke-width="0.4"/>
<line x1="1479.6" y1="649.8" x2="1479.6" y2="645.2" stroke="#d3d3d7" stroke-width="0.4"/>
<line x1="1487" y1="654" x2="1487" y2="649.4" stroke="#d3d3d7" stroke-width="0.4"/>
<line x1="1494.4" y1="658.2" x2="1494.4" y2="653.7" stroke="#d3d3d7" stroke-width="0.4"/>
<line x1="1501.8" y1="662.4" x2="1501.8" y2="657.9" stroke="#d3d3d7" stroke-width="0.4"/>
<line x1="1509.2" y1="666.7" x2="1509.2" y2="662.1" stroke="#d3d3d7" stroke-width="0.4"/>
<line x1="1516.6" y1="670.9" x2="1516.6" y2="666.3" stroke="#d3d3d7" stroke-width="0.4"/>
<line x1="1524" y1="675.1" x2="1524" y2="670.6" stroke="#d3d3d7" stroke-width="0.4"/>
<line x1="1531.4" y1="679.4" x2="1531.4" y2="674.8" stroke="#d3d3d7" stroke-width="0.4"/>
<line x1="1538.8" y1="683.6" x2="1538.8" y2="679" stroke="#d3d3d7" stroke-width="0.4"/>
<line x1="1461.1" y1="634.6" x2="1461.1" y2="630.1" stroke="#d3d3d7" stroke-width="0.4"/>
<line x1="1468.5" y1="638.9" x2="1468.5" y2="634.3" stroke="#d3d3d7" stroke-width="0.4"/>
<line x1="1475.9" y1="643.1" x2="1475.9" y2="638.5" stroke="#d3d3d7" stroke-width="0.4"/>
<line x1="1483.3" y1="647.3" x2="1483.3" y2="642.8" stroke="#d3d3d7" stroke-width="0.4"/>
<line x1="1490.7" y1="651.5" x2="1490.7" y2="647" stroke="#d3d3d7" stroke-width="0.4"/>
<line x1="1498.1" y1="655.8" x2="1498.1" y2="651.2" stroke="#d3d3d7" stroke-width="0.4"/>
<line x1="1505.5" y1="660" x2="1505.5" y2="655.4" stroke="#d3d3d7" stroke-width="0.4"/>
<line x1="1512.9" y1="664.2" x2="1512.9" y2="659.7" stroke="#d3d3d7" stroke-width="0.4"/>
<line x1="1520.3" y1="668.5" x2="1520.3" y2="663.9" stroke="#d3d3d7" stroke-width="0.4"/>
<line x1="1527.7" y1="672.7" x2="1527.7" y2="668.1" stroke="#d3d3d7" stroke-width="0.4"/>
<line x1="1535.1" y1="676.9" x2="1535.1" y2="672.4" stroke="#d3d3d7" stroke-width="0.4"/>
<line x1="1542.5" y1="681.1" x2="1542.5" y2="676.6" stroke="#d3d3d7" stroke-width="0.4"/>
<line x1="1464.8" y1="632.2" x2="1464.8" y2="627.6" stroke="#d3d3d7" stroke-width="0.4"/>
<line x1="1472.2" y1="636.4" x2="1472.2" y2="631.9" stroke="#d3d3d7" stroke-width="0.4"/>
<line x1="1479.6" y1="640.6" x2="1479.6" y2="636.1" stroke="#d3d3d7" stroke-width="0.4"/>
<line x1="1487" y1="644.9" x2="1487" y2="640.3" stroke="#d3d3d7" stroke-width="0.4"/>
<line x1="1494.4" y1="649.1" x2="1494.4" y2="644.6" stroke="#d3d3d7" stroke-width="0.4"/>
<line x1="1501.8" y1="653.3" x2="1501.8" y2="648.8" stroke="#d3d3d7" stroke-width="0.4"/>
<line x1="1509.2" y1="657.6" x2="1509.2" y2="653" stroke="#d3d3d7" stroke-width="0.4"/>
<line x1="1516.6" y1="661.8" x2="1516.6" y2="657.2" stroke="#d3d3d7" stroke-width="0.4"/>
<line x1="1524" y1="666" x2="1524" y2="661.5" stroke="#d3d3d7" stroke-width="0.4"/>
<line x1="1531.4" y1="670.2" x2="1531.4" y2="665.7" stroke="#d3d3d7" stroke-width="0.4"/>
<line x1="1538.8" y1="674.5" x2="1538.8" y2="669.9" stroke="#d3d3d7" stroke-width="0.4"/>
<line x1="1461.1" y1="625.5" x2="1461.1" y2="621" stroke="#d3d3d7" stroke-width="0.4"/>
<line x1="1468.5" y1="629.8" x2="1468.5" y2="625.2" stroke="#d3d3d7" stroke-width="0.4"/>
<line x1="1475.9" y1="634" x2="1475.9" y2="629.4" stroke="#d3d3d7" stroke-width="0.4"/>
<line x1="1483.3" y1="638.2" x2="1483.3" y2="633.7" stroke="#d3d3d7" stroke-width="0.4"/>
<line x1="1490.7" y1="642.4" x2="1490.7" y2="637.9" stroke="#d3d3d7" stroke-width="0.4"/>
<line x1="1498.1" y1="646.7" x2="1498.1" y2="642.1" stroke="#d3d3d7" stroke-width="0.4"/>
<line x1="1505.5" y1="650.9" x2="1505.5" y2="646.3" stroke="#d3d3d7" stroke-width="0.4"/>
<line x1="1512.9" y1="655.1" x2="1512.9" y2="650.6" stroke="#d3d3d7" stroke-width="0.4"/>
<line x1="1520.3" y1="659.4" x2="1520.3" y2="654.8" stroke="#d3d3d7" stroke-width="0.4"/>
<line x1="1527.7" y1="663.6" x2="1527.7" y2="659" stroke="#d3d3d7" stroke-width="0.4"/>
<line x1="1535.1" y1="667.8" x2="1535.1" y2="663.3" stroke="#d3d3d7" stroke-width="0.4"/>
<line x1="1542.5" y1="672" x2="1542.5" y2="667.5" stroke="#d3d3d7" stroke-width="0.4"/>
<line x1="1464.8" y1="623.1" x2="1464.8" y2="618.5" stroke="#d3d3d7" stroke-width="0.4"/>
<line x1="1472.2" y1="627.3" x2="1472.2" y2="622.8" stroke="#d3d3d7" stroke-width="0.4"/>
<line x1="1479.6" y1="631.5" x2="1479.6" y2="627" stroke="#d3d3d7" stroke-width="0.4"/>
<line x1="1487" y1="635.8" x2="1487" y2="631.2" stroke="#d3d3d7" stroke-width="0.4"/>
<line x1="1494.4" y1="640" x2="1494.4" y2="635.4" stroke="#d3d3d7" stroke-width="0.4"/>
<line x1="1501.8" y1="644.2" x2="1501.8" y2="639.7" stroke="#d3d3d7" stroke-width="0.4"/>
<line x1="1509.2" y1="648.5" x2="1509.2" y2="643.9" stroke="#d3d3d7" stroke-width="0.4"/>
<line x1="1516.6" y1="652.7" x2="1516.6" y2="648.1" stroke="#d3d3d7" stroke-width="0.4"/>
<line x1="1524" y1="656.9" x2="1524" y2="652.4" stroke="#d3d3d7" stroke-width="0.4"/>
<line x1="1531.4" y1="661.1" x2="1531.4" y2="656.6" stroke="#d3d3d7" stroke-width="0.4"/>
<line x1="1538.8" y1="665.4" x2="1538.8" y2="660.8" stroke="#d3d3d7" stroke-width="0.4"/>
<line x1="1461.1" y1="616.4" x2="1461.1" y2="611.9" stroke="#d3d3d7" stroke-width="0.4"/>
<line x1="1468.5" y1="620.6" x2="1468.5" y2="616.1" stroke="#d3d3d7" stroke-width="0.4"/>
<line x1="1475.9" y1="624.9" x2="1475.9" y2="620.3" stroke="#d3d3d7" stroke-width="0.4"/>
<line x1="1483.3" y1="629.1" x2="1483.3" y2="624.5" stroke="#d3d3d7" stroke-width="0.4"/>
<line x1="1490.7" y1="633.3" x2="1490.7" y2="628.8" stroke="#d3d3d7" stroke-width="0.4"/>
<line x1="1498.1" y1="637.6" x2="1498.1" y2="633" stroke="#d3d3d7" stroke-width="0.4"/>
<line x1="1505.5" y1="641.8" x2="1505.5" y2="637.2" stroke="#d3d3d7" stroke-width="0.4"/>
<line x1="1512.9" y1="646" x2="1512.9" y2="641.5" stroke="#d3d3d7" stroke-width="0.4"/>
<line x1="1520.3" y1="650.2" x2="1520.3" y2="645.7" stroke="#d3d3d7" stroke-width="0.4"/>
<line x1="1527.7" y1="654.5" x2="1527.7" y2="649.9" stroke="#d3d3d7" stroke-width="0.4"/>
<line x1="1535.1" y1="658.7" x2="1535.1" y2="654.1" stroke="#d3d3d7" stroke-width="0.4"/>
<line x1="1542.5" y1="662.9" x2="1542.5" y2="658.4" stroke="#d3d3d7" stroke-width="0.4"/>
<line x1="1464.8" y1="614" x2="1464.8" y2="609.4" stroke="#d3d3d7" stroke-width="0.4"/>
<line x1="1472.2" y1="618.2" x2="1472.2" y2="613.6" stroke="#d3d3d7" stroke-width="0.4"/>
<line x1="1479.6" y1="622.4" x2="1479.6" y2="617.9" stroke="#d3d3d7" stroke-width="0.4"/>
<line x1="1487" y1="626.7" x2="1487" y2="622.1" stroke="#d3d3d7" stroke-width="0.4"/>
<line x1="1494.4" y1="630.9" x2="1494.4" y2="626.3" stroke="#d3d3d7" stroke-width="0.4"/>
<line x1="1501.8" y1="635.1" x2="1501.8" y2="630.6" stroke="#d3d3d7" stroke-width="0.4"/>
<line x1="1509.2" y1="639.3" x2="1509.2" y2="634.8" stroke="#d3d3d7" stroke-width="0.4"/>
<line x1="1516.6" y1="643.6" x2="1516.6" y2="639" stroke="#d3d3d7" stroke-width="0.4"/>
<line x1="1524" y1="647.8" x2="1524" y2="643.2" stroke="#d3d3d7" stroke-width="0.4"/>
<line x1="1531.4" y1="652" x2="1531.4" y2="647.5" stroke="#d3d3d7" stroke-width="0.4"/>
<line x1="1538.8" y1="656.3" x2="1538.8" y2="651.7" stroke="#d3d3d7" stroke-width="0.4"/>
<line x1="1461.1" y1="607.3" x2="1461.1" y2="602.8" stroke="#d3d3d7" stroke-width="0.4"/>
<line x1="1468.5" y1="611.5" x2="1468.5" y2="607" stroke="#d3d3d7" stroke-width="0.4"/>
<line x1="1475.9" y1="615.8" x2="1475.9" y2="611.2" stroke="#d3d3d7" stroke-width="0.4"/>
<line x1="1483.3" y1="620" x2="1483.3" y2="615.4" stroke="#d3d3d7" stroke-width="0.4"/>
<line x1="1490.7" y1="624.2" x2="1490.7" y2="619.7" stroke="#d3d3d7" stroke-width="0.4"/>
<line x1="1498.1" y1="628.4" x2="1498.1" y2="623.9" stroke="#d3d3d7" stroke-width="0.4"/>
<line x1="1505.5" y1="632.7" x2="1505.5" y2="628.1" stroke="#d3d3d7" stroke-width="0.4"/>
<line x1="1512.9" y1="636.9" x2="1512.9" y2="632.4" stroke="#d3d3d7" stroke-width="0.4"/>
<line x1="1520.3" y1="641.1" x2="1520.3" y2="636.6" stroke="#d3d3d7" stroke-width="0.4"/>
<line x1="1527.7" y1="645.4" x2="1527.7" y2="640.8" stroke="#d3d3d7" stroke-width="0.4"/>
<line x1="1535.1" y1="649.6" x2="1535.1" y2="645" stroke="#d3d3d7" stroke-width="0.4"/>
<line x1="1542.5" y1="653.8" x2="1542.5" y2="649.3" stroke="#d3d3d7" stroke-width="0.4"/>
<line x1="1464.8" y1="604.9" x2="1464.8" y2="600.3" stroke="#d3d3d7" stroke-width="0.4"/>
<line x1="1472.2" y1="609.1" x2="1472.2" y2="604.5" stroke="#d3d3d7" stroke-width="0.4"/>
<line x1="1479.6" y1="613.3" x2="1479.6" y2="608.8" stroke="#d3d3d7" stroke-width="0.4"/>
<line x1="1487" y1="617.6" x2="1487" y2="613" stroke="#d3d3d7" stroke-width="0.4"/>
<line x1="1494.4" y1="621.8" x2="1494.4" y2="617.2" stroke="#d3d3d7" stroke-width="0.4"/>
<line x1="1501.8" y1="626" x2="1501.8" y2="621.5" stroke="#d3d3d7" stroke-width="0.4"/>
<line x1="1509.2" y1="630.2" x2="1509.2" y2="625.7" stroke="#d3d3d7" stroke-width="0.4"/>
<line x1="1516.6" y1="634.5" x2="1516.6" y2="629.9" stroke="#d3d3d7" stroke-width="0.4"/>
<line x1="1524" y1="638.7" x2="1524" y2="634.1" stroke="#d3d3d7" stroke-width="0.4"/>
<line x1="1531.4" y1="642.9" x2="1531.4" y2="638.4" stroke="#d3d3d7" stroke-width="0.4"/>
<line x1="1538.8" y1="647.2" x2="1538.8" y2="642.6" stroke="#d3d3d7" stroke-width="0.4"/>
<line x1="1461.1" y1="598.2" x2="1461.1" y2="593.6" stroke="#d3d3d7" stroke-width="0.4"/>
<line x1="1468.5" y1="602.4" x2="1468.5" y2="597.9" stroke="#d3d3d7" stroke-width="0.4"/>
<line x1="1475.9" y1="606.7" x2="1475.9" y2="602.1" stroke="#d3d3d7" stroke-width="0.4"/>
<line x1="1483.3" y1="610.9" x2="1483.3" y2="606.3" stroke="#d3d3d7" stroke-width="0.4"/>
<line x1="1490.7" y1="615.1" x2="1490.7" y2="610.6" stroke="#d3d3d7" stroke-width="0.4"/>
<line x1="1498.1" y1="619.3" x2="1498.1" y2="614.8" stroke="#d3d3d7" stroke-width="0.4"/>
<line x1="1505.5" y1="623.6" x2="1505.5" y2="619" stroke="#d3d3d7" stroke-width="0.4"/>
<line x1="1512.9" y1="627.8" x2="1512.9" y2="623.2" stroke="#d3d3d7" stroke-width="0.4"/>
<line x1="1520.3" y1="632" x2="1520.3" y2="627.5" stroke="#d3d3d7" stroke-width="0.4"/>
<line x1="1527.7" y1="636.3" x2="1527.7" y2="631.7" stroke="#d3d3d7" stroke-width="0.4"/>
<line x1="1535.1" y1="640.5" x2="1535.1" y2="635.9" stroke="#d3d3d7" stroke-width="0.4"/>
<line x1="1542.5" y1="644.7" x2="1542.5" y2="640.2" stroke="#d3d3d7" stroke-width="0.4"/>
<line x1="1464.8" y1="595.8" x2="1464.8" y2="591.2" stroke="#d3d3d7" stroke-width="0.4"/>
<line x1="1472.2" y1="600" x2="1472.2" y2="595.4" stroke="#d3d3d7" stroke-width="0.4"/>
<line x1="1479.6" y1="604.2" x2="1479.6" y2="599.7" stroke="#d3d3d7" stroke-width="0.4"/>
<line x1="1487" y1="608.4" x2="1487" y2="603.9" stroke="#d3d3d7" stroke-width="0.4"/>
<line x1="1494.4" y1="612.7" x2="1494.4" y2="608.1" stroke="#d3d3d7" stroke-width="0.4"/>
<line x1="1501.8" y1="616.9" x2="1501.8" y2="612.3" stroke="#d3d3d7" stroke-width="0.4"/>
<line x1="1509.2" y1="621.1" x2="1509.2" y2="616.6" stroke="#d3d3d7" stroke-width="0.4"/>
<line x1="1516.6" y1="625.4" x2="1516.6" y2="620.8" stroke="#d3d3d7" stroke-width="0.4"/>
<line x1="1524" y1="629.6" x2="1524" y2="625" stroke="#d3d3d7" stroke-width="0.4"/>
<line x1="1531.4" y1="633.8" x2="1531.4" y2="629.3" stroke="#d3d3d7" stroke-width="0.4"/>
<line x1="1538.8" y1="638" x2="1538.8" y2="633.5" stroke="#d3d3d7" stroke-width="0.4"/>
<line x1="1461.1" y1="589.1" x2="1461.1" y2="584.5" stroke="#d3d3d7" stroke-width="0.4"/>
<line x1="1468.5" y1="593.3" x2="1468.5" y2="588.8" stroke="#d3d3d7" stroke-width="0.4"/>
<line x1="1475.9" y1="597.5" x2="1475.9" y2="593" stroke="#d3d3d7" stroke-width="0.4"/>
<line x1="1483.3" y1="601.8" x2="1483.3" y2="597.2" stroke="#d3d3d7" stroke-width="0.4"/>
<line x1="1490.7" y1="606" x2="1490.7" y2="601.5" stroke="#d3d3d7" stroke-width="0.4"/>
<line x1="1498.1" y1="610.2" x2="1498.1" y2="605.7" stroke="#d3d3d7" stroke-width="0.4"/>
<line x1="1505.5" y1="614.5" x2="1505.5" y2="609.9" stroke="#d3d3d7" stroke-width="0.4"/>
<line x1="1512.9" y1="618.7" x2="1512.9" y2="614.1" stroke="#d3d3d7" stroke-width="0.4"/>
<line x1="1520.3" y1="622.9" x2="1520.3" y2="618.4" stroke="#d3d3d7" stroke-width="0.4"/>
<line x1="1527.7" y1="627.1" x2="1527.7" y2="622.6" stroke="#d3d3d7" stroke-width="0.4"/>
<line x1="1535.1" y1="631.4" x2="1535.1" y2="626.8" stroke="#d3d3d7" stroke-width="0.4"/>
<line x1="1542.5" y1="635.6" x2="1542.5" y2="631.1" stroke="#d3d3d7" stroke-width="0.4"/>
<polygon points="1471.1,649.4 1471.1,631.2 1471.3,626.5 1472.1,622.3 1473.5,618.5 1475.4,615.2 1477.7,612.5 1480.4,610.5 1483.6,609.1 1487.1,608.4 1490.8,608.5 1494.8,609.2 1498.9,610.6 1503.1,612.7 1507.3,615.4 1511.4,618.8 1515.4,622.6 1519.1,626.9 1522.6,631.6 1525.8,636.6 1528.5,641.9 1530.8,647.2 1532.7,652.6 1534.1,658 1534.9,663.2 1535.1,668.2 1535.1,686" fill="#fff" stroke="#cdcdd1" stroke-width="0.6" stroke-linejoin="round"/>
<line x1="1471.3" y1="626.5" x2="1479.3" y2="632.4" stroke="#d3d3d7" stroke-width="0.4"/>
<line x1="1473.5" y1="618.5" x2="1480.9" y2="626.3" stroke="#d3d3d7" stroke-width="0.4"/>
<line x1="1477.7" y1="612.5" x2="1484.1" y2="621.9" stroke="#d3d3d7" stroke-width="0.4"/>
<line x1="1483.6" y1="609.1" x2="1488.5" y2="619.3" stroke="#d3d3d7" stroke-width="0.4"/>
<line x1="1490.8" y1="608.5" x2="1493.9" y2="618.8" stroke="#d3d3d7" stroke-width="0.4"/>
<line x1="1498.9" y1="610.6" x2="1500" y2="620.4" stroke="#d3d3d7" stroke-width="0.4"/>
<line x1="1507.3" y1="615.4" x2="1506.2" y2="624.1" stroke="#d3d3d7" stroke-width="0.4"/>
<line x1="1515.4" y1="622.6" x2="1512.3" y2="629.4" stroke="#d3d3d7" stroke-width="0.4"/>
<line x1="1522.6" y1="631.6" x2="1517.7" y2="636.2" stroke="#d3d3d7" stroke-width="0.4"/>
<line x1="1528.5" y1="641.9" x2="1522.1" y2="643.8" stroke="#d3d3d7" stroke-width="0.4"/>
<line x1="1532.7" y1="652.6" x2="1525.3" y2="651.9" stroke="#d3d3d7" stroke-width="0.4"/>
<line x1="1534.9" y1="663.2" x2="1526.9" y2="659.8" stroke="#d3d3d7" stroke-width="0.4"/>
<line x1="1471.1" y1="645.4" x2="1479.1" y2="650" stroke="#d3d3d7" stroke-width="0.4"/>
<line x1="1535.1" y1="682" x2="1527.1" y2="677.4" stroke="#d3d3d7" stroke-width="0.4"/>
<line x1="1471.1" y1="640.9" x2="1479.1" y2="645.5" stroke="#d3d3d7" stroke-width="0.4"/>
<line x1="1535.1" y1="677.5" x2="1527.1" y2="672.9" stroke="#d3d3d7" stroke-width="0.4"/>
<line x1="1471.1" y1="636.4" x2="1479.1" y2="641" stroke="#d3d3d7" stroke-width="0.4"/>
<line x1="1535.1" y1="673" x2="1527.1" y2="668.4" stroke="#d3d3d7" stroke-width="0.4"/>
<line x1="1471.1" y1="631.9" x2="1479.1" y2="636.5" stroke="#d3d3d7" stroke-width="0.4"/>
<line x1="1535.1" y1="668.5" x2="1527.1" y2="663.9" stroke="#d3d3d7" stroke-width="0.4"/>
<polygon points="1479.1,654 1479.1,635.9 1479.3,632.4 1479.9,629.2 1480.9,626.3 1482.3,623.9 1484.1,621.9 1486.1,620.3 1488.5,619.3 1491.1,618.8 1493.9,618.8 1496.9,619.4 1500,620.4 1503.1,622 1506.2,624.1 1509.3,626.5 1512.3,629.4 1515.1,632.7 1517.7,636.2 1520.1,639.9 1522.1,643.8 1523.9,647.9 1525.3,651.9 1526.3,655.9 1526.9,659.8 1527.1,663.6 1527.1,681.4" fill="#fff" stroke="#cdcdd1" stroke-width="0.6" stroke-linejoin="round"/>
<clipPath id="kc118"><polygon points="1479.1,654 1479.1,635.9 1479.3,632.4 1479.9,629.2 1480.9,626.3 1482.3,623.9 1484.1,621.9 1486.1,620.3 1488.5,619.3 1491.1,618.8 1493.9,618.8 1496.9,619.4 1500,620.4 1503.1,622 1506.2,624.1 1509.3,626.5 1512.3,629.4 1515.1,632.7 1517.7,636.2 1520.1,639.9 1522.1,643.8 1523.9,647.9 1525.3,651.9 1526.3,655.9 1526.9,659.8 1527.1,663.6 1527.1,681.4"/></clipPath>
<g clip-path="url(#kc118)">
<polygon points="1479.1,654 1479.1,635.9 1479.3,632.4 1479.9,629.2 1480.9,626.3 1482.3,623.9 1484.1,621.9 1486.1,620.3 1488.5,619.3 1491.1,618.8 1493.9,618.8 1496.9,619.4 1500,620.4 1503.1,622 1506.2,624.1 1512.2,620.7 1509.1,618.6 1506,617 1502.9,616 1499.9,615.4 1497.1,615.4 1494.5,615.9 1492.1,616.9 1490.1,618.5 1488.3,620.5 1486.9,622.9 1485.9,625.8 1485.3,629 1485.1,632.5 1485.1,650.6" fill="#ececee"/>
<path d="M1494.4,626.4 L1494.4,648.9 A6,3.4 0 0 0 1506.4,648.9 L1506.4,626.4 Z" fill="#a0a1a5"/>
<ellipse cx="1500.4" cy="626.4" rx="6" ry="3.4" fill="#a6a7ab"/>
<ellipse cx="1500.4" cy="626.4" rx="2.6" ry="1.5" fill="none" stroke="#e6e6e8" stroke-width="0.6"/>
<path d="M1504,631.7 L1504,654.2 A6,3.4 0 0 0 1516,654.2 L1516,631.7 Z" fill="#a0a1a5"/>
<ellipse cx="1510" cy="631.7" rx="6" ry="3.4" fill="#a6a7ab"/>
<ellipse cx="1510" cy="631.7" rx="2.6" ry="1.5" fill="none" stroke="#e6e6e8" stroke-width="0.6"/>
<path d="M1484.8,632.8 L1484.8,655.3 A6,3.4 0 0 0 1496.8,655.3 L1496.8,632.8 Z" fill="#a0a1a5"/>
<ellipse cx="1490.8" cy="632.8" rx="6" ry="3.4" fill="#a6a7ab"/>
<ellipse cx="1490.8" cy="632.8" rx="2.6" ry="1.5" fill="none" stroke="#e6e6e8" stroke-width="0.6"/>
<path d="M1495.8,638.5 L1495.8,661 A6,3.4 0 0 0 1507.8,661 L1507.8,638.5 Z" fill="#a0a1a5"/>
<ellipse cx="1501.8" cy="638.5" rx="6" ry="3.4" fill="#a6a7ab"/>
<ellipse cx="1501.8" cy="638.5" rx="2.6" ry="1.5" fill="none" stroke="#e6e6e8" stroke-width="0.6"/>
<path d="M1506.1,643.9 L1506.1,666.4 A6,3.4 0 0 0 1518.1,666.4 L1518.1,643.9 Z" fill="#a0a1a5"/>
<ellipse cx="1512.1" cy="643.9" rx="6" ry="3.4" fill="#a6a7ab"/>
<ellipse cx="1512.1" cy="643.9" rx="2.6" ry="1.5" fill="none" stroke="#e6e6e8" stroke-width="0.6"/>
<path d="M1515.1,644.5 L1515.1,667 A6,3.4 0 0 0 1527.1,667 L1527.1,644.5 Z" fill="#a0a1a5"/>
<ellipse cx="1521.1" cy="644.5" rx="6" ry="3.4" fill="#a6a7ab"/>
<ellipse cx="1521.1" cy="644.5" rx="2.6" ry="1.5" fill="none" stroke="#e6e6e8" stroke-width="0.6"/>
<path d="M1517.3,651.5 L1517.3,674 A6,3.4 0 0 0 1529.3,674 L1529.3,651.5 Z" fill="#a0a1a5"/>
<ellipse cx="1523.3" cy="651.5" rx="6" ry="3.4" fill="#a6a7ab"/>
<ellipse cx="1523.3" cy="651.5" rx="2.6" ry="1.5" fill="none" stroke="#e6e6e8" stroke-width="0.6"/>
</g>
<polygon points="1479.1,654 1479.1,635.9 1479.3,632.4 1479.9,629.2 1480.9,626.3 1482.3,623.9 1484.1,621.9 1486.1,620.3 1488.5,619.3 1491.1,618.8 1493.9,618.8 1496.9,619.4 1500,620.4 1503.1,622 1506.2,624.1 1509.3,626.5 1512.3,629.4 1515.1,632.7 1517.7,636.2 1520.1,639.9 1522.1,643.8 1523.9,647.9 1525.3,651.9 1526.3,655.9 1526.9,659.8 1527.1,663.6 1527.1,681.4" fill="none" stroke="#cdcdd1" stroke-width="0.6" stroke-linejoin="round"/>
<path d="M403.8,779.5 Q392.9,785.7 403.7,791.9 L674.3,947.1 Q685.1,953.3 696,947.1 L926.2,816.2 Q937.1,810 926.3,803.8 L655.7,648.6 Q644.9,642.4 634,648.6 Z" fill="#b7b7bc" transform="translate(0,4)"/>
<path d="M403.8,779.5 Q392.9,785.7 403.7,791.9 L674.3,947.1 Q685.1,953.3 696,947.1 L926.2,816.2 Q937.1,810 926.3,803.8 L655.7,648.6 Q644.9,642.4 634,648.6 Z" fill="#b7b7bc" transform="translate(0,2)"/>
<path d="M403.8,779.5 Q392.9,785.7 403.7,791.9 L674.3,947.1 Q685.1,953.3 696,947.1 L926.2,816.2 Q937.1,810 926.3,803.8 L655.7,648.6 Q644.9,642.4 634,648.6 Z" fill="#fff"/>
<polygon points="558.6,656.5 805,798 805,849.5 558.6,706" fill="#fff" stroke="#cfcfd3" stroke-width="0.6" stroke-linejoin="round"/>
<polygon points="558.6,656.5 805,798 805,808.3 558.6,666.8" fill="#b9b9be"/>
<line x1="602.6" y1="692.1" x2="602.6" y2="732.3" stroke="#cfcfd3" stroke-width="0.5"/>
<line x1="654.1" y1="721.6" x2="654.1" y2="761.8" stroke="#cfcfd3" stroke-width="0.5"/>
<line x1="701.6" y1="748.9" x2="701.6" y2="789.1" stroke="#cfcfd3" stroke-width="0.5"/>
<line x1="751.6" y1="777.6" x2="751.6" y2="817.8" stroke="#cfcfd3" stroke-width="0.5"/>
<polygon points="805,798 894.1,747.1 894.1,799.6 805,850.8" fill="#a0a1a5"/>
<polygon points="826.8,800.4 879.2,770.2 879.2,808.2 826.8,838.4" fill="#fff"/>
<polygon points="860.1,781.3 879.2,770.2 879.2,791.2 879.2,791.2" fill="#ededef"/>
<polygon points="861.6,780.8 879.2,770.2 879.2,784.2 869.6,789.8" fill="#f7f7f8"/>
<polygon points="826.8,810.2 855.6,826.7 855.6,840.4 826.8,823.8" fill="#fff" stroke="#cfcfd3" stroke-width="0.5" stroke-linejoin="round"/>
<polygon points="855.6,826.7 891.2,806.7 891.2,820 855.6,840.4" fill="#fff" stroke="#cfcfd3" stroke-width="0.5" stroke-linejoin="round"/>
<polygon points="826.8,800.6 858.8,819.6 894.8,800.8 859.9,781.5" fill="#e8e8e9"/>
<polygon points="826.8,800.6 858.8,819.6 858.8,829.9 826.8,810.9" fill="#dcdcdf"/>
<polygon points="858.8,819.6 894.8,800.8 894.8,810.6 858.8,829.9" fill="#e9e9eb"/>
<line x1="858.8" y1="819.6" x2="858.8" y2="829.9" stroke="#c2c2c7" stroke-width="0.6"/>
<polygon points="859.9,779.4 895,799 895,801.5 859.9,781.8" fill="#b9b9be"/>
<polygon points="846.1,800.7 855.6,806.2 855.6,797.2 846.1,791.7" fill="#fbfbfc" stroke="#d4d4d8" stroke-width="0.5" stroke-linejoin="round"/>
<polygon points="855.6,806.2 870.3,797.7 870.3,788.7 855.6,797.2" fill="#f6f6f7" stroke="#d4d4d8" stroke-width="0.5" stroke-linejoin="round"/>
<polygon points="846.1,791.7 855.6,797.2 870.3,788.7 860.8,783.2" fill="#fff" stroke="#d4d4d8" stroke-width="0.5" stroke-linejoin="round"/>
<polygon points="558.6,656.5 805,798 894.1,747.1 647.7,605.6" fill="#fff" stroke="#cfcfd3" stroke-width="0.5" stroke-linejoin="round"/>
<line x1="649.9" y1="683.4" x2="716.7" y2="645.2" stroke="#e3e3e6" stroke-width="0.5"/>
<line x1="709" y1="717.4" x2="775.8" y2="679.2" stroke="#e3e3e6" stroke-width="0.5"/>
<line x1="768.1" y1="751.3" x2="835" y2="713.1" stroke="#e3e3e6" stroke-width="0.5"/>
<line x1="580.9" y1="643.8" x2="827.3" y2="785.3" stroke="#e3e3e6" stroke-width="0.5"/>
<path d="M614,671.7 L614,652.6 L693.2,697.8 L693.2,714.2" fill="none" stroke="#cbcbd0" stroke-width="11.1" stroke-linejoin="round" stroke-linecap="round"/>
<path d="M614,671.7 L614,652.6 L693.2,697.8 L693.2,714.2" fill="none" stroke="#fff" stroke-width="10" stroke-linejoin="round" stroke-linecap="round"/>
<path d="M632.1,654.1 A3.4,6.6 30 0 0 625.7,666" fill="none" stroke="#bdbdc3" stroke-width="1.2" stroke-linejoin="round" stroke-linecap="round"/>
<path d="M633.7,655 A3.4,6.6 30 0 0 627.3,666.9" fill="none" stroke="#d9d9dc" stroke-width="0.5" stroke-linejoin="round" stroke-linecap="round"/>
<path d="M649.1,663.8 A3.4,6.6 30 0 0 642.7,675.7" fill="none" stroke="#bdbdc3" stroke-width="1.2" stroke-linejoin="round" stroke-linecap="round"/>
<path d="M650.7,664.7 A3.4,6.6 30 0 0 644.3,676.6" fill="none" stroke="#d9d9dc" stroke-width="0.5" stroke-linejoin="round" stroke-linecap="round"/>
<path d="M664.5,672.6 A3.4,6.6 30 0 0 658.1,684.5" fill="none" stroke="#bdbdc3" stroke-width="1.2" stroke-linejoin="round" stroke-linecap="round"/>
<path d="M666.1,673.5 A3.4,6.6 30 0 0 659.7,685.4" fill="none" stroke="#d9d9dc" stroke-width="0.5" stroke-linejoin="round" stroke-linecap="round"/>
<path d="M681.6,682.3 A3.4,6.6 30 0 0 675.2,694.2" fill="none" stroke="#bdbdc3" stroke-width="1.2" stroke-linejoin="round" stroke-linecap="round"/>
<path d="M683.2,683.2 A3.4,6.6 30 0 0 676.8,695.1" fill="none" stroke="#d9d9dc" stroke-width="0.5" stroke-linejoin="round" stroke-linecap="round"/>
<path d="M655.1,618.7 L644.1,612.4 Q639.6,609.9 639.6,616.7 L639.6,632.2" fill="none" stroke="#b9b9be" stroke-width="6.6" stroke-linejoin="round" stroke-linecap="round"/>
<line x1="657.9" y1="642.3" x2="657.9" y2="654.3" stroke="#c9c9cd" stroke-width="1.1"/>
<line x1="668.9" y1="642.3" x2="668.9" y2="659.3" stroke="#c9c9cd" stroke-width="1.1"/>
<line x1="679.9" y1="642.3" x2="679.9" y2="654.3" stroke="#c9c9cd" stroke-width="1.1"/>
<path d="M652.9,638.3 L652.9,641.5 A16,8.3 0 0 0 684.9,641.5 L684.9,638.3 Z" fill="#b9b9be"/>
<path d="M653.7,606.3 L653.7,639.3 A15.2,7.8 0 0 0 684.1,639.3 L684.1,606.3 A15.2,7.8 0 0 0 653.7,606.3 Z" fill="#fff" stroke="#c6c6cb" stroke-width="0.6" stroke-linejoin="round" stroke-linecap="round"/>
<ellipse cx="668.9" cy="606.3" rx="15.2" ry="7.8" fill="#fff" stroke="#c6c6cb" stroke-width="0.6"/>
<line x1="711.6" y1="675" x2="711.6" y2="687" stroke="#c9c9cd" stroke-width="1.1"/>
<line x1="722.6" y1="675" x2="722.6" y2="692" stroke="#c9c9cd" stroke-width="1.1"/>
<line x1="733.6" y1="675" x2="733.6" y2="687" stroke="#c9c9cd" stroke-width="1.1"/>
<path d="M706.6,671 L706.6,674.2 A16,8.3 0 0 0 738.6,674.2 L738.6,671 Z" fill="#b9b9be"/>
<path d="M707.4,639 L707.4,672 A15.2,7.8 0 0 0 737.8,672 L737.8,639 A15.2,7.8 0 0 0 707.4,639 Z" fill="#fff" stroke="#c6c6cb" stroke-width="0.6" stroke-linejoin="round" stroke-linecap="round"/>
<ellipse cx="722.6" cy="639" rx="15.2" ry="7.8" fill="#fff" stroke="#c6c6cb" stroke-width="0.6"/>
<path d="M668.9,604.7 L668.9,597.8 L722.8,628.9 L722.8,638.7" fill="none" stroke="#b9b9be" stroke-width="4.2" stroke-linejoin="round" stroke-linecap="butt"/>
<path d="M668.9,604.7 L668.9,597.8 L722.8,628.9 L722.8,638.7" fill="none" stroke="#b9b9be" stroke-width="4.2" stroke-linejoin="miter" stroke-linecap="round"/>
<path d="M718,735.7 L718,716.6 L797.2,761.8 L797.2,778.2" fill="none" stroke="#cbcbd0" stroke-width="11.1" stroke-linejoin="round" stroke-linecap="round"/>
<path d="M718,735.7 L718,716.6 L797.2,761.8 L797.2,778.2" fill="none" stroke="#fff" stroke-width="10" stroke-linejoin="round" stroke-linecap="round"/>
<path d="M736.1,718.1 A3.4,6.6 30 0 0 729.7,730" fill="none" stroke="#bdbdc3" stroke-width="1.2" stroke-linejoin="round" stroke-linecap="round"/>
<path d="M737.7,719 A3.4,6.6 30 0 0 731.3,730.9" fill="none" stroke="#d9d9dc" stroke-width="0.5" stroke-linejoin="round" stroke-linecap="round"/>
<path d="M753.1,727.8 A3.4,6.6 30 0 0 746.7,739.7" fill="none" stroke="#bdbdc3" stroke-width="1.2" stroke-linejoin="round" stroke-linecap="round"/>
<path d="M754.7,728.7 A3.4,6.6 30 0 0 748.3,740.6" fill="none" stroke="#d9d9dc" stroke-width="0.5" stroke-linejoin="round" stroke-linecap="round"/>
<path d="M768.5,736.6 A3.4,6.6 30 0 0 762.1,748.5" fill="none" stroke="#bdbdc3" stroke-width="1.2" stroke-linejoin="round" stroke-linecap="round"/>
<path d="M770.1,737.5 A3.4,6.6 30 0 0 763.7,749.4" fill="none" stroke="#d9d9dc" stroke-width="0.5" stroke-linejoin="round" stroke-linecap="round"/>
<path d="M785.6,746.3 A3.4,6.6 30 0 0 779.2,758.2" fill="none" stroke="#bdbdc3" stroke-width="1.2" stroke-linejoin="round" stroke-linecap="round"/>
<path d="M787.2,747.2 A3.4,6.6 30 0 0 780.8,759.1" fill="none" stroke="#d9d9dc" stroke-width="0.5" stroke-linejoin="round" stroke-linecap="round"/>
<path d="M766.4,683 L755.4,676.7 Q750.9,674.2 750.9,681 L750.9,696.5" fill="none" stroke="#b9b9be" stroke-width="6.6" stroke-linejoin="round" stroke-linecap="round"/>
<line x1="769.2" y1="706.6" x2="769.2" y2="718.6" stroke="#c9c9cd" stroke-width="1.1"/>
<line x1="780.2" y1="706.6" x2="780.2" y2="723.6" stroke="#c9c9cd" stroke-width="1.1"/>
<line x1="791.2" y1="706.6" x2="791.2" y2="718.6" stroke="#c9c9cd" stroke-width="1.1"/>
<path d="M764.2,702.6 L764.2,705.8 A16,8.3 0 0 0 796.2,705.8 L796.2,702.6 Z" fill="#b9b9be"/>
<path d="M765,670.6 L765,703.6 A15.2,7.8 0 0 0 795.4,703.6 L795.4,670.6 A15.2,7.8 0 0 0 765,670.6 Z" fill="#fff" stroke="#c6c6cb" stroke-width="0.6" stroke-linejoin="round" stroke-linecap="round"/>
<ellipse cx="780.2" cy="670.6" rx="15.2" ry="7.8" fill="#fff" stroke="#c6c6cb" stroke-width="0.6"/>
<line x1="822.9" y1="739.3" x2="822.9" y2="751.3" stroke="#c9c9cd" stroke-width="1.1"/>
<line x1="833.9" y1="739.3" x2="833.9" y2="756.3" stroke="#c9c9cd" stroke-width="1.1"/>
<line x1="844.9" y1="739.3" x2="844.9" y2="751.3" stroke="#c9c9cd" stroke-width="1.1"/>
<path d="M817.9,735.3 L817.9,738.5 A16,8.3 0 0 0 849.9,738.5 L849.9,735.3 Z" fill="#b9b9be"/>
<path d="M818.7,703.3 L818.7,736.3 A15.2,7.8 0 0 0 849.1,736.3 L849.1,703.3 A15.2,7.8 0 0 0 818.7,703.3 Z" fill="#fff" stroke="#c6c6cb" stroke-width="0.6" stroke-linejoin="round" stroke-linecap="round"/>
<ellipse cx="833.9" cy="703.3" rx="15.2" ry="7.8" fill="#fff" stroke="#c6c6cb" stroke-width="0.6"/>
<path d="M780.2,669 L780.2,662.1 L834.1,693.2 L834.1,703" fill="none" stroke="#b9b9be" stroke-width="4.2" stroke-linejoin="round" stroke-linecap="butt"/>
<path d="M780.2,669 L780.2,662.1 L834.1,693.2 L834.1,703" fill="none" stroke="#b9b9be" stroke-width="4.2" stroke-linejoin="miter" stroke-linecap="round"/>
<polygon points="441,736.3 687.4,877.8 687.4,929.3 441,785.8" fill="#fff" stroke="#cfcfd3" stroke-width="0.6" stroke-linejoin="round"/>
<polygon points="441,736.3 687.4,877.8 687.4,888.1 441,746.6" fill="#b9b9be"/>
<line x1="485" y1="771.9" x2="485" y2="812.1" stroke="#cfcfd3" stroke-width="0.5"/>
<line x1="536.5" y1="801.4" x2="536.5" y2="841.6" stroke="#cfcfd3" stroke-width="0.5"/>
<line x1="584" y1="828.7" x2="584" y2="868.9" stroke="#cfcfd3" stroke-width="0.5"/>
<line x1="634" y1="857.4" x2="634" y2="897.6" stroke="#cfcfd3" stroke-width="0.5"/>
<polygon points="687.4,877.8 776.5,826.9 776.5,879.4 687.4,930.6" fill="#a0a1a5"/>
<polygon points="709.2,880.2 761.6,850 761.6,888 709.2,918.2" fill="#fff"/>
<polygon points="742.5,861.1 761.6,850 761.6,871 761.6,871" fill="#ededef"/>
<polygon points="744,860.6 761.6,850 761.6,864 752,869.6" fill="#f7f7f8"/>
<polygon points="709.2,890 738,906.5 738,920.2 709.2,903.6" fill="#fff" stroke="#cfcfd3" stroke-width="0.5" stroke-linejoin="round"/>
<polygon points="738,906.5 773.6,886.5 773.6,899.8 738,920.2" fill="#fff" stroke="#cfcfd3" stroke-width="0.5" stroke-linejoin="round"/>
<polygon points="709.2,880.4 741.2,899.4 777.2,880.6 742.3,861.3" fill="#e8e8e9"/>
<polygon points="709.2,880.4 741.2,899.4 741.2,909.7 709.2,890.7" fill="#dcdcdf"/>
<polygon points="741.2,899.4 777.2,880.6 777.2,890.4 741.2,909.7" fill="#e9e9eb"/>
<line x1="741.2" y1="899.4" x2="741.2" y2="909.7" stroke="#c2c2c7" stroke-width="0.6"/>
<polygon points="742.3,859.2 777.4,878.8 777.4,881.3 742.3,861.6" fill="#b9b9be"/>
<polygon points="728.5,880.5 738,886 738,877 728.5,871.5" fill="#fbfbfc" stroke="#d4d4d8" stroke-width="0.5" stroke-linejoin="round"/>
<polygon points="738,886 752.7,877.5 752.7,868.5 738,877" fill="#f6f6f7" stroke="#d4d4d8" stroke-width="0.5" stroke-linejoin="round"/>
<polygon points="728.5,871.5 738,877 752.7,868.5 743.2,863" fill="#fff" stroke="#d4d4d8" stroke-width="0.5" stroke-linejoin="round"/>
<polygon points="441,736.3 687.4,877.8 776.5,826.9 530.1,685.4" fill="#fff" stroke="#cfcfd3" stroke-width="0.5" stroke-linejoin="round"/>
<line x1="532.3" y1="763.2" x2="599.1" y2="725" stroke="#e3e3e6" stroke-width="0.5"/>
<line x1="591.4" y1="797.2" x2="658.2" y2="759" stroke="#e3e3e6" stroke-width="0.5"/>
<line x1="650.5" y1="831.1" x2="717.4" y2="792.9" stroke="#e3e3e6" stroke-width="0.5"/>
<line x1="463.3" y1="723.6" x2="709.7" y2="865.1" stroke="#e3e3e6" stroke-width="0.5"/>
<path d="M496.4,751.5 L496.4,732.4 L575.6,777.6 L575.6,794" fill="none" stroke="#cbcbd0" stroke-width="11.1" stroke-linejoin="round" stroke-linecap="round"/>
<path d="M496.4,751.5 L496.4,732.4 L575.6,777.6 L575.6,794" fill="none" stroke="#fff" stroke-width="10" stroke-linejoin="round" stroke-linecap="round"/>
<path d="M514.5,733.9 A3.4,6.6 30 0 0 508.1,745.8" fill="none" stroke="#bdbdc3" stroke-width="1.2" stroke-linejoin="round" stroke-linecap="round"/>
<path d="M516.1,734.8 A3.4,6.6 30 0 0 509.7,746.7" fill="none" stroke="#d9d9dc" stroke-width="0.5" stroke-linejoin="round" stroke-linecap="round"/>
<path d="M531.5,743.6 A3.4,6.6 30 0 0 525.1,755.5" fill="none" stroke="#bdbdc3" stroke-width="1.2" stroke-linejoin="round" stroke-linecap="round"/>
<path d="M533.1,744.5 A3.4,6.6 30 0 0 526.7,756.4" fill="none" stroke="#d9d9dc" stroke-width="0.5" stroke-linejoin="round" stroke-linecap="round"/>
<path d="M546.9,752.4 A3.4,6.6 30 0 0 540.5,764.3" fill="none" stroke="#bdbdc3" stroke-width="1.2" stroke-linejoin="round" stroke-linecap="round"/>
<path d="M548.5,753.3 A3.4,6.6 30 0 0 542.1,765.2" fill="none" stroke="#d9d9dc" stroke-width="0.5" stroke-linejoin="round" stroke-linecap="round"/>
<path d="M564,762.1 A3.4,6.6 30 0 0 557.6,774" fill="none" stroke="#bdbdc3" stroke-width="1.2" stroke-linejoin="round" stroke-linecap="round"/>
<path d="M565.6,763 A3.4,6.6 30 0 0 559.2,774.9" fill="none" stroke="#d9d9dc" stroke-width="0.5" stroke-linejoin="round" stroke-linecap="round"/>
<path d="M537.5,698.5 L526.5,692.2 Q522,689.7 522,696.5 L522,712" fill="none" stroke="#b9b9be" stroke-width="6.6" stroke-linejoin="round" stroke-linecap="round"/>
<line x1="540.3" y1="722.1" x2="540.3" y2="734.1" stroke="#c9c9cd" stroke-width="1.1"/>
<line x1="551.3" y1="722.1" x2="551.3" y2="739.1" stroke="#c9c9cd" stroke-width="1.1"/>
<line x1="562.3" y1="722.1" x2="562.3" y2="734.1" stroke="#c9c9cd" stroke-width="1.1"/>
<path d="M535.3,718.1 L535.3,721.3 A16,8.3 0 0 0 567.3,721.3 L567.3,718.1 Z" fill="#b9b9be"/>
<path d="M536.1,686.1 L536.1,719.1 A15.2,7.8 0 0 0 566.5,719.1 L566.5,686.1 A15.2,7.8 0 0 0 536.1,686.1 Z" fill="#fff" stroke="#c6c6cb" stroke-width="0.6" stroke-linejoin="round" stroke-linecap="round"/>
<ellipse cx="551.3" cy="686.1" rx="15.2" ry="7.8" fill="#fff" stroke="#c6c6cb" stroke-width="0.6"/>
<line x1="594" y1="754.8" x2="594" y2="766.8" stroke="#c9c9cd" stroke-width="1.1"/>
<line x1="605" y1="754.8" x2="605" y2="771.8" stroke="#c9c9cd" stroke-width="1.1"/>
<line x1="616" y1="754.8" x2="616" y2="766.8" stroke="#c9c9cd" stroke-width="1.1"/>
<path d="M589,750.8 L589,754 A16,8.3 0 0 0 621,754 L621,750.8 Z" fill="#b9b9be"/>
<path d="M589.8,718.8 L589.8,751.8 A15.2,7.8 0 0 0 620.2,751.8 L620.2,718.8 A15.2,7.8 0 0 0 589.8,718.8 Z" fill="#fff" stroke="#c6c6cb" stroke-width="0.6" stroke-linejoin="round" stroke-linecap="round"/>
<ellipse cx="605" cy="718.8" rx="15.2" ry="7.8" fill="#fff" stroke="#c6c6cb" stroke-width="0.6"/>
<path d="M551.3,684.5 L551.3,677.6 L605.2,708.7 L605.2,718.5" fill="none" stroke="#b9b9be" stroke-width="4.2" stroke-linejoin="round" stroke-linecap="butt"/>
<path d="M551.3,684.5 L551.3,677.6 L605.2,708.7 L605.2,718.5" fill="none" stroke="#b9b9be" stroke-width="4.2" stroke-linejoin="miter" stroke-linecap="round"/>
<path d="M600.4,815.5 L600.4,796.4 L679.6,841.6 L679.6,858" fill="none" stroke="#cbcbd0" stroke-width="11.1" stroke-linejoin="round" stroke-linecap="round"/>
<path d="M600.4,815.5 L600.4,796.4 L679.6,841.6 L679.6,858" fill="none" stroke="#fff" stroke-width="10" stroke-linejoin="round" stroke-linecap="round"/>
<path d="M618.5,797.9 A3.4,6.6 30 0 0 612.1,809.8" fill="none" stroke="#bdbdc3" stroke-width="1.2" stroke-linejoin="round" stroke-linecap="round"/>
<path d="M620.1,798.8 A3.4,6.6 30 0 0 613.7,810.7" fill="none" stroke="#d9d9dc" stroke-width="0.5" stroke-linejoin="round" stroke-linecap="round"/>
<path d="M635.5,807.6 A3.4,6.6 30 0 0 629.1,819.5" fill="none" stroke="#bdbdc3" stroke-width="1.2" stroke-linejoin="round" stroke-linecap="round"/>
<path d="M637.1,808.5 A3.4,6.6 30 0 0 630.7,820.4" fill="none" stroke="#d9d9dc" stroke-width="0.5" stroke-linejoin="round" stroke-linecap="round"/>
<path d="M650.9,816.4 A3.4,6.6 30 0 0 644.5,828.3" fill="none" stroke="#bdbdc3" stroke-width="1.2" stroke-linejoin="round" stroke-linecap="round"/>
<path d="M652.5,817.3 A3.4,6.6 30 0 0 646.1,829.2" fill="none" stroke="#d9d9dc" stroke-width="0.5" stroke-linejoin="round" stroke-linecap="round"/>
<path d="M668,826.1 A3.4,6.6 30 0 0 661.6,838" fill="none" stroke="#bdbdc3" stroke-width="1.2" stroke-linejoin="round" stroke-linecap="round"/>
<path d="M669.6,827 A3.4,6.6 30 0 0 663.2,838.9" fill="none" stroke="#d9d9dc" stroke-width="0.5" stroke-linejoin="round" stroke-linecap="round"/>
<path d="M648.8,762.8 L637.8,756.5 Q633.3,754 633.3,760.8 L633.3,776.3" fill="none" stroke="#b9b9be" stroke-width="6.6" stroke-linejoin="round" stroke-linecap="round"/>
<line x1="651.6" y1="786.4" x2="651.6" y2="798.4" stroke="#c9c9cd" stroke-width="1.1"/>
<line x1="662.6" y1="786.4" x2="662.6" y2="803.4" stroke="#c9c9cd" stroke-width="1.1"/>
<line x1="673.6" y1="786.4" x2="673.6" y2="798.4" stroke="#c9c9cd" stroke-width="1.1"/>
<path d="M646.6,782.4 L646.6,785.6 A16,8.3 0 0 0 678.6,785.6 L678.6,782.4 Z" fill="#b9b9be"/>
<path d="M647.4,750.4 L647.4,783.4 A15.2,7.8 0 0 0 677.8,783.4 L677.8,750.4 A15.2,7.8 0 0 0 647.4,750.4 Z" fill="#fff" stroke="#c6c6cb" stroke-width="0.6" stroke-linejoin="round" stroke-linecap="round"/>
<ellipse cx="662.6" cy="750.4" rx="15.2" ry="7.8" fill="#fff" stroke="#c6c6cb" stroke-width="0.6"/>
<line x1="705.3" y1="819.1" x2="705.3" y2="831.1" stroke="#c9c9cd" stroke-width="1.1"/>
<line x1="716.3" y1="819.1" x2="716.3" y2="836.1" stroke="#c9c9cd" stroke-width="1.1"/>
<line x1="727.3" y1="819.1" x2="727.3" y2="831.1" stroke="#c9c9cd" stroke-width="1.1"/>
<path d="M700.3,815.1 L700.3,818.3 A16,8.3 0 0 0 732.3,818.3 L732.3,815.1 Z" fill="#b9b9be"/>
<path d="M701.1,783.1 L701.1,816.1 A15.2,7.8 0 0 0 731.5,816.1 L731.5,783.1 A15.2,7.8 0 0 0 701.1,783.1 Z" fill="#fff" stroke="#c6c6cb" stroke-width="0.6" stroke-linejoin="round" stroke-linecap="round"/>
<ellipse cx="716.3" cy="783.1" rx="15.2" ry="7.8" fill="#fff" stroke="#c6c6cb" stroke-width="0.6"/>
<path d="M662.6,748.8 L662.6,741.9 L716.5,773 L716.5,782.8" fill="none" stroke="#b9b9be" stroke-width="4.2" stroke-linejoin="round" stroke-linecap="butt"/>
<path d="M662.6,748.8 L662.6,741.9 L716.5,773 L716.5,782.8" fill="none" stroke="#b9b9be" stroke-width="4.2" stroke-linejoin="miter" stroke-linecap="round"/>
<path d="M910.9,745.3 Q900.1,751.5 910.9,757.7 L1168.2,905.1 Q1179,911.3 1189.9,905.1 L1398.4,786.4 Q1409.2,780.2 1398.4,774 L1141.1,626.6 Q1130.3,620.4 1119.4,626.6 Z" fill="#b7b7bc" transform="translate(0,4)"/>
<path d="M910.9,745.3 Q900.1,751.5 910.9,757.7 L1168.2,905.1 Q1179,911.3 1189.9,905.1 L1398.4,786.4 Q1409.2,780.2 1398.4,774 L1141.1,626.6 Q1130.3,620.4 1119.4,626.6 Z" fill="#b7b7bc" transform="translate(0,2)"/>
<path d="M910.9,745.3 Q900.1,751.5 910.9,757.7 L1168.2,905.1 Q1179,911.3 1189.9,905.1 L1398.4,786.4 Q1409.2,780.2 1398.4,774 L1141.1,626.6 Q1130.3,620.4 1119.4,626.6 Z" fill="#fff"/>
<polygon points="1067.9,641.2 1263.2,747.6 1263.2,802.6 1067.9,692.2" fill="#fff" stroke="#d0d0d4" stroke-width="0.6" stroke-linejoin="round"/>
<polygon points="1073.4,650.7 1255.2,754.1 1255.2,794.1 1073.4,686.7" fill="none" stroke="#d0d0d4" stroke-width="0.5" stroke-linejoin="round"/>
<path d="M1263.2,747.6 C1263.2,725.7 1295.1,698.6 1312.8,708.8 C1317.2,711.2 1322.4,711.7 1322.4,715.5 L1322.4,769.5 L1263.2,802.6 Z" fill="#ececee" stroke="#d0d0d4" stroke-width="0.5" stroke-linejoin="round" stroke-linecap="round"/>
<polygon points="1263.2,747.6 1322.4,715.5 1322.4,769.5 1263.2,802.6" fill="#f3f3f4" stroke="#d0d0d4" stroke-width="0.4" stroke-linejoin="round"/>
<line x1="1263.2" y1="747.6" x2="1322.4" y2="715.5" stroke="#d0d0d4" stroke-width="0.5"/>
<polygon points="1268.1,752.4 1285.7,742.9 1285.7,786.9 1268.1,796.4" fill="#fff" stroke="#d0d0d4" stroke-width="0.4" stroke-linejoin="round"/>
<polygon points="1269.7,753.7 1284.7,745.5 1284.7,785.4 1269.7,793.6" fill="#b9b9be"/>
<polygon points="1285.9,742.8 1303.5,733.2 1303.5,777.2 1285.9,786.8" fill="#fff" stroke="#d0d0d4" stroke-width="0.4" stroke-linejoin="round"/>
<polygon points="1287.5,744 1302.5,735.9 1302.5,775.8 1287.5,783.9" fill="#b9b9be"/>
<polygon points="1303.7,733.1 1320.2,724.2 1320.2,768.2 1303.7,777.1" fill="#fff" stroke="#d0d0d4" stroke-width="0.4" stroke-linejoin="round"/>
<polygon points="1305.3,734.4 1319.2,726.8 1319.2,766.7 1305.3,774.3" fill="#b9b9be"/>
<path d="M1067.9,641.2 C1067.9,619.3 1099.8,592.2 1117.5,602.4 L1312.8,708.8 C1295.1,698.6 1263.2,725.7 1263.2,747.6 Z" fill="#a0a1a5"/>
<polygon points="1281.2,763.8 1298.1,773.6 1298.1,813.6 1294.5,811.6 1294.5,777.2 1281.2,769" fill="#fff" stroke="#d9d9dc" stroke-width="0.5" stroke-linejoin="round"/>
<polygon points="1278.2,765.5 1295.1,775.3 1295.1,815.3 1291.5,813.3 1291.5,778.9 1278.2,770.7" fill="#fff" stroke="#d9d9dc" stroke-width="0.5" stroke-linejoin="round"/>
<polygon points="1275.2,767.3 1292.1,777 1292.1,817 1288.5,815 1288.5,780.6 1275.2,772.5" fill="#fff" stroke="#d9d9dc" stroke-width="0.5" stroke-linejoin="round"/>
<polygon points="1272.2,769 1289.1,778.8 1289.1,818.8 1285.5,816.8 1285.5,782.4 1272.2,774.2" fill="#fff" stroke="#d9d9dc" stroke-width="0.5" stroke-linejoin="round"/>
<polygon points="1299,754.2 1315.9,763.9 1315.9,803.9 1312.3,801.9 1312.3,767.5 1299,759.4" fill="#fff" stroke="#d9d9dc" stroke-width="0.5" stroke-linejoin="round"/>
<polygon points="1296,755.9 1312.9,765.6 1312.9,805.6 1309.3,803.6 1309.3,769.2 1296,761.1" fill="#fff" stroke="#d9d9dc" stroke-width="0.5" stroke-linejoin="round"/>
<polygon points="1293,757.6 1309.9,767.4 1309.9,807.4 1306.3,805.4 1306.3,771 1293,762.8" fill="#fff" stroke="#d9d9dc" stroke-width="0.5" stroke-linejoin="round"/>
<polygon points="1290,759.4 1306.9,769.1 1306.9,809.1 1303.3,807.1 1303.3,772.7 1290,764.6" fill="#fff" stroke="#d9d9dc" stroke-width="0.5" stroke-linejoin="round"/>
<polygon points="1316.5,744.7 1333.4,754.4 1333.4,794.4 1329.8,792.4 1329.8,758 1316.5,749.9" fill="#fff" stroke="#d9d9dc" stroke-width="0.5" stroke-linejoin="round"/>
<polygon points="1313.5,746.4 1330.4,756.2 1330.4,796.2 1326.8,794.2 1326.8,759.8 1313.5,751.6" fill="#fff" stroke="#d9d9dc" stroke-width="0.5" stroke-linejoin="round"/>
<polygon points="1310.5,748.1 1327.4,757.9 1327.4,797.9 1323.8,795.9 1323.8,761.5 1310.5,753.3" fill="#fff" stroke="#d9d9dc" stroke-width="0.5" stroke-linejoin="round"/>
<polygon points="1307.5,749.9 1324.4,759.6 1324.4,799.6 1320.8,797.6 1320.8,763.2 1307.5,755.1" fill="#fff" stroke="#d9d9dc" stroke-width="0.5" stroke-linejoin="round"/>
<polygon points="987.7,693.7 1183,800.1 1183,855.1 987.7,744.7" fill="#fff" stroke="#d0d0d4" stroke-width="0.6" stroke-linejoin="round"/>
<polygon points="993.2,703.2 1175,806.6 1175,846.6 993.2,739.2" fill="none" stroke="#d0d0d4" stroke-width="0.5" stroke-linejoin="round"/>
<path d="M1183,800.1 C1183,778.2 1214.9,751.1 1232.6,761.3 C1237,763.7 1242.2,764.2 1242.2,768 L1242.2,822 L1183,855.1 Z" fill="#ececee" stroke="#d0d0d4" stroke-width="0.5" stroke-linejoin="round" stroke-linecap="round"/>
<polygon points="1183,800.1 1242.2,768 1242.2,822 1183,855.1" fill="#f3f3f4" stroke="#d0d0d4" stroke-width="0.4" stroke-linejoin="round"/>
<line x1="1183" y1="800.1" x2="1242.2" y2="768" stroke="#d0d0d4" stroke-width="0.5"/>
<polygon points="1187.9,804.9 1205.5,795.4 1205.5,839.4 1187.9,848.9" fill="#fff" stroke="#d0d0d4" stroke-width="0.4" stroke-linejoin="round"/>
<polygon points="1189.5,806.2 1204.5,798 1204.5,837.9 1189.5,846.1" fill="#b9b9be"/>
<polygon points="1205.7,795.3 1223.3,785.7 1223.3,829.7 1205.7,839.3" fill="#fff" stroke="#d0d0d4" stroke-width="0.4" stroke-linejoin="round"/>
<polygon points="1207.3,796.5 1222.3,788.4 1222.3,828.3 1207.3,836.4" fill="#b9b9be"/>
<polygon points="1223.5,785.6 1240,776.7 1240,820.7 1223.5,829.6" fill="#fff" stroke="#d0d0d4" stroke-width="0.4" stroke-linejoin="round"/>
<polygon points="1225.1,786.9 1239,779.3 1239,819.2 1225.1,826.8" fill="#b9b9be"/>
<path d="M987.7,693.7 C987.7,671.8 1019.6,644.7 1037.3,654.9 L1232.6,761.3 C1214.9,751.1 1183,778.2 1183,800.1 Z" fill="#a0a1a5"/>
<polygon points="1201,816.3 1217.9,826.1 1217.9,866.1 1214.3,864.1 1214.3,829.7 1201,821.5" fill="#fff" stroke="#d9d9dc" stroke-width="0.5" stroke-linejoin="round"/>
<polygon points="1198,818 1214.9,827.8 1214.9,867.8 1211.3,865.8 1211.3,831.4 1198,823.2" fill="#fff" stroke="#d9d9dc" stroke-width="0.5" stroke-linejoin="round"/>
<polygon points="1195,819.8 1211.9,829.5 1211.9,869.5 1208.3,867.5 1208.3,833.1 1195,825" fill="#fff" stroke="#d9d9dc" stroke-width="0.5" stroke-linejoin="round"/>
<polygon points="1192,821.5 1208.9,831.3 1208.9,871.3 1205.3,869.3 1205.3,834.9 1192,826.7" fill="#fff" stroke="#d9d9dc" stroke-width="0.5" stroke-linejoin="round"/>
<polygon points="1218.8,806.7 1235.7,816.4 1235.7,856.4 1232.1,854.4 1232.1,820 1218.8,811.9" fill="#fff" stroke="#d9d9dc" stroke-width="0.5" stroke-linejoin="round"/>
<polygon points="1215.8,808.4 1232.7,818.1 1232.7,858.1 1229.1,856.1 1229.1,821.7 1215.8,813.6" fill="#fff" stroke="#d9d9dc" stroke-width="0.5" stroke-linejoin="round"/>
<polygon points="1212.8,810.1 1229.7,819.9 1229.7,859.9 1226.1,857.9 1226.1,823.5 1212.8,815.3" fill="#fff" stroke="#d9d9dc" stroke-width="0.5" stroke-linejoin="round"/>
<polygon points="1209.8,811.9 1226.7,821.6 1226.7,861.6 1223.1,859.6 1223.1,825.2 1209.8,817.1" fill="#fff" stroke="#d9d9dc" stroke-width="0.5" stroke-linejoin="round"/>
<polygon points="1236.3,797.2 1253.2,806.9 1253.2,846.9 1249.6,844.9 1249.6,810.5 1236.3,802.4" fill="#fff" stroke="#d9d9dc" stroke-width="0.5" stroke-linejoin="round"/>
<polygon points="1233.3,798.9 1250.2,808.7 1250.2,848.7 1246.6,846.7 1246.6,812.3 1233.3,804.1" fill="#fff" stroke="#d9d9dc" stroke-width="0.5" stroke-linejoin="round"/>
<polygon points="1230.3,800.6 1247.2,810.4 1247.2,850.4 1243.6,848.4 1243.6,814 1230.3,805.8" fill="#fff" stroke="#d9d9dc" stroke-width="0.5" stroke-linejoin="round"/>
<polygon points="1227.3,802.4 1244.2,812.1 1244.2,852.1 1240.6,850.1 1240.6,815.7 1227.3,807.6" fill="#fff" stroke="#d9d9dc" stroke-width="0.5" stroke-linejoin="round"/>
<path d="M1083.9,708.3 L1083.9,695.2 L1053.3,712.7 L1053.3,788.5 L1078,802.5" fill="none" stroke="#e4e4e7" stroke-width="8.2" stroke-linejoin="round" stroke-linecap="round"/>
<path d="M1073.1,757 L1073.1,822 A14.6,6.1 0 0 0 1102.3,822 L1102.3,757 A14.6,7.4 0 0 0 1073.1,757 Z" fill="#b9b9be"/>
<path d="M1073.1,760 A14.6,6.1 0 0 0 1102.3,760" fill="none" stroke="#c9c9cd" stroke-width="0.6" stroke-linejoin="round" stroke-linecap="round"/>
<path d="M1080.2,751 L1080.2,755.5 A7.5,3.4 0 0 0 1095.2,755.5 L1095.2,751 Z" fill="#f4f4f5" stroke="#cfcfd3" stroke-width="0.5" stroke-linejoin="round" stroke-linecap="round"/>
<ellipse cx="1087.7" cy="751" rx="7.5" ry="3.4" fill="#fff" stroke="#cfcfd3" stroke-width="0.5"/>
<path d="M1087.7,750 L1087.7,733 L1111.6,746.4 L1111.6,827.8" fill="none" stroke="#e4e4e7" stroke-width="8.2" stroke-linejoin="round" stroke-linecap="round"/>
<path d="M1121.2,786 L1121.2,853 A14.6,6.1 0 0 0 1150.4,853 L1150.4,786 A14.6,7.4 0 0 0 1121.2,786 Z" fill="#b9b9be"/>
<path d="M1121.2,789 A14.6,6.1 0 0 0 1150.4,789" fill="none" stroke="#c9c9cd" stroke-width="0.6" stroke-linejoin="round" stroke-linecap="round"/>
<path d="M1128.3,780 L1128.3,784.5 A7.5,3.4 0 0 0 1143.3,784.5 L1143.3,780 Z" fill="#f4f4f5" stroke="#cfcfd3" stroke-width="0.5" stroke-linejoin="round" stroke-linecap="round"/>
<ellipse cx="1135.8" cy="780" rx="7.5" ry="3.4" fill="#fff" stroke="#cfcfd3" stroke-width="0.5"/>
<path d="M1135.8,779 L1135.8,763 L1159.7,776.2 L1159.7,858.4" fill="none" stroke="#e4e4e7" stroke-width="8.2" stroke-linejoin="round" stroke-linecap="round"/>
<g transform="translate(1017.5,823.5) scale(-1,1)">
<polygon points="57.3,87 78.5,98.3 77.2,100 56,88.6" fill="#fff" stroke="#d3d3d8" stroke-width="0.5" stroke-linejoin="round"/>
<polygon points="71.9,79.8 92.5,89.6 91.2,91.4 70.6,81.6" fill="#fff" stroke="#d3d3d8" stroke-width="0.5" stroke-linejoin="round"/>
<polyline points="44.2,17.5 40.5,39" fill="none" stroke="#d3d3d8" stroke-width="0.6" stroke-linejoin="round" stroke-linecap="round"/>
<polyline points="65.6,29.6 72,73" fill="none" stroke="#d3d3d8" stroke-width="0.7" stroke-linejoin="round" stroke-linecap="round"/>
<polyline points="63.5,30.5 69.5,72" fill="none" stroke="#d3d3d8" stroke-width="0.5" stroke-linejoin="round" stroke-linecap="round"/>
<polygon points="57.3,32.5 59.5,31.5 63.5,77 63.5,84 57.3,89.4" fill="#fff" stroke="#d3d3d8" stroke-width="0.6" stroke-linejoin="round"/>
<polyline points="57.3,32.5 57.3,89.4" fill="none" stroke="#d3d3d8" stroke-width="0.7" stroke-linejoin="round" stroke-linecap="round"/>
<polygon points="58.3,76.8 70,71.9 70.5,77.8 59.3,82.6" fill="#fff" stroke="#d3d3d8" stroke-width="0.6" stroke-linejoin="round"/>
<polygon points="60.5,78.6 67.5,75.6 67.8,78.4 60.8,81.2" fill="none" stroke="#d3d3d8" stroke-width="0.4" stroke-linejoin="round"/>
<polyline points="50,66 69.8,57.5" fill="none" stroke="#d3d3d8" stroke-width="0.5" stroke-linejoin="round" stroke-linecap="round"/>
<polyline points="50.5,71 70.8,62.5" fill="none" stroke="#d3d3d8" stroke-width="0.5" stroke-linejoin="round" stroke-linecap="round"/>
<polygon points="26.2,50.5 37.4,45.2 40.3,48.6 40.3,57.4 34,60.7 26.2,56.9" fill="#fff" stroke="#d3d3d8" stroke-width="0.6" stroke-linejoin="round"/>
<polygon points="34,60.7 44.7,55.4 45.7,65.1 33.5,71.9 32.1,62.2" fill="#fff" stroke="#d3d3d8" stroke-width="0.6" stroke-linejoin="round"/>
<polygon points="47.6,58 53,56.5 56.5,60 56.8,64.5 50,68 47.6,64" fill="#fff" stroke="#d3d3d8" stroke-width="0.5" stroke-linejoin="round"/>
<polygon points="19.4,55.9 32.1,62.2 33.5,75.8 23.3,77.3 16,70.5 16,63.7" fill="#b9b9be"/>
<ellipse cx="20.9" cy="72" rx="2.6" ry="4.3" fill="#c3c3c8" stroke="#e2e2e6" stroke-width="0.7"/>
<polygon points="23.3,77.3 33.5,75.8 39.8,82.6 38.9,85.5" fill="#fff" stroke="#d3d3d8" stroke-width="0.5" stroke-linejoin="round"/>
<polygon points="39.8,49.1 47.1,53.4 47.6,60.7 40.3,57.8" fill="#b9b9be"/>
<polygon points="40.8,69.5 50.5,68 53,81.1 48.6,84.5 39.8,82.6" fill="#b9b9be"/>
<path d="M40,80 L46.5,77.5 Q50.5,78.5 50.5,84 Q50.5,90 47,92 L43.5,92.3 Z" fill="#fff" stroke="#c8c8cd" stroke-width="0.5" stroke-linejoin="round" stroke-linecap="round"/>
<ellipse cx="43.8" cy="85.6" rx="4.4" ry="6.9" fill="#b9b9be"/>
<polyline points="25.8,28.2 19.9,55.9" fill="none" stroke="#d3d3d8" stroke-width="0.7" stroke-linejoin="round" stroke-linecap="round"/>
<polyline points="27.6,29.3 22,57" fill="none" stroke="#d3d3d8" stroke-width="0.5" stroke-linejoin="round" stroke-linecap="round"/>
<polyline points="47.1,39.4 47.6,64" fill="none" stroke="#d3d3d8" stroke-width="0.7" stroke-linejoin="round" stroke-linecap="round"/>
<polyline points="45.2,38.6 45.6,55" fill="none" stroke="#d3d3d8" stroke-width="0.5" stroke-linejoin="round" stroke-linecap="round"/>
<polygon points="25.8,28.2 44.2,17.5 65.6,29.6 47.1,39.4" fill="none" stroke="#d3d3d8" stroke-width="0.7" stroke-linejoin="round"/>
<polyline points="27.5,30.2 47.1,41.2 65.4,31.6" fill="none" stroke="#d3d3d8" stroke-width="0.5" stroke-linejoin="round" stroke-linecap="round"/>
</g>
</svg>
</body></html>
